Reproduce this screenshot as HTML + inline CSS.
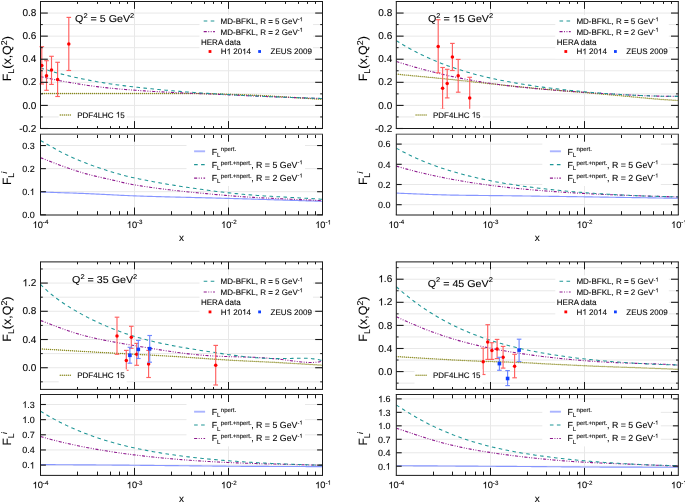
<!DOCTYPE html><html><head><meta charset="utf-8"><style>html,body{margin:0;padding:0;background:#fff;}body{width:685px;height:502px;overflow:hidden;font-family:"Liberation Sans", sans-serif;}svg{display:block;filter:blur(0.3px);} text{stroke:#000;stroke-width:0.18px;stroke-opacity:0.5;paint-order:stroke;} .g1{fill:#000;stroke:#000;stroke-width:0.18px;stroke-opacity:0.5;vector-effect:non-scaling-stroke;}</style></head><body><svg width="685" height="502" viewBox="0 0 685 502" font-family='"Liberation Sans", sans-serif' text-rendering="geometricPrecision" stroke-width="0">
<rect width="100%" height="100%" fill="#fff"/>
<defs>
<clipPath id="cu0"><rect x="40.5" y="1.5" width="282.0" height="127.0"/></clipPath>
<clipPath id="cl0"><rect x="40.5" y="134.2" width="282.0" height="80.80000000000001"/></clipPath>
<clipPath id="cu1"><rect x="396.3" y="1.5" width="282.0" height="127.0"/></clipPath>
<clipPath id="cl1"><rect x="396.3" y="134.2" width="282.0" height="80.80000000000001"/></clipPath>
<clipPath id="cu2"><rect x="40.5" y="261.9" width="282.0" height="127.0"/></clipPath>
<clipPath id="cl2"><rect x="40.5" y="394.59999999999997" width="282.0" height="80.80000000000001"/></clipPath>
<clipPath id="cu3"><rect x="396.3" y="261.9" width="282.0" height="127.0"/></clipPath>
<clipPath id="cl3"><rect x="396.3" y="394.59999999999997" width="282.0" height="80.80000000000001"/></clipPath>
</defs>
<line x1="40.50" y1="116.95" x2="322.50" y2="116.95" stroke="#e8e8e8" stroke-width="1" />
<line x1="40.50" y1="105.41" x2="322.50" y2="105.41" stroke="#e8e8e8" stroke-width="1" />
<line x1="40.50" y1="93.86" x2="322.50" y2="93.86" stroke="#e8e8e8" stroke-width="1" />
<line x1="40.50" y1="82.32" x2="322.50" y2="82.32" stroke="#e8e8e8" stroke-width="1" />
<line x1="40.50" y1="70.77" x2="322.50" y2="70.77" stroke="#e8e8e8" stroke-width="1" />
<line x1="40.50" y1="59.23" x2="322.50" y2="59.23" stroke="#e8e8e8" stroke-width="1" />
<line x1="40.50" y1="47.68" x2="322.50" y2="47.68" stroke="#e8e8e8" stroke-width="1" />
<line x1="40.50" y1="36.14" x2="322.50" y2="36.14" stroke="#e8e8e8" stroke-width="1" />
<line x1="40.50" y1="24.59" x2="322.50" y2="24.59" stroke="#e8e8e8" stroke-width="1" />
<line x1="40.50" y1="13.05" x2="322.50" y2="13.05" stroke="#e8e8e8" stroke-width="1" />
<line x1="134.50" y1="1.50" x2="134.50" y2="128.50" stroke="#e8e8e8" stroke-width="1" />
<line x1="228.50" y1="1.50" x2="228.50" y2="128.50" stroke="#e8e8e8" stroke-width="1" />
<line x1="40.50" y1="191.71" x2="322.50" y2="191.71" stroke="#e8e8e8" stroke-width="1" />
<line x1="40.50" y1="168.63" x2="322.50" y2="168.63" stroke="#e8e8e8" stroke-width="1" />
<line x1="40.50" y1="145.54" x2="322.50" y2="145.54" stroke="#e8e8e8" stroke-width="1" />
<line x1="134.50" y1="134.20" x2="134.50" y2="215.00" stroke="#e8e8e8" stroke-width="1" />
<line x1="228.50" y1="134.20" x2="228.50" y2="215.00" stroke="#e8e8e8" stroke-width="1" />
<path d="M40.50,93.50 L42.26,93.50 L44.02,93.50 L45.79,93.50 L47.55,93.49 L49.31,93.49 L51.08,93.49 L52.84,93.49 L54.60,93.49 L56.36,93.49 L58.12,93.49 L59.89,93.48 L61.65,93.48 L63.41,93.48 L65.17,93.48 L66.94,93.48 L68.70,93.48 L70.46,93.47 L72.22,93.47 L73.99,93.47 L75.75,93.47 L77.51,93.47 L79.28,93.47 L81.04,93.46 L82.80,93.46 L84.56,93.46 L86.33,93.46 L88.09,93.46 L89.85,93.46 L91.61,93.45 L93.38,93.45 L95.14,93.45 L96.90,93.45 L98.66,93.45 L100.42,93.45 L102.19,93.44 L103.95,93.44 L105.71,93.44 L107.47,93.44 L109.24,93.44 L111.00,93.44 L112.76,93.44 L114.53,93.43 L116.29,93.43 L118.05,93.43 L119.81,93.43 L121.58,93.43 L123.34,93.43 L125.10,93.42 L126.86,93.42 L128.62,93.42 L130.39,93.42 L132.15,93.42 L133.91,93.42 L135.68,93.42 L137.44,93.42 L139.20,93.41 L140.96,93.41 L142.72,93.41 L144.49,93.41 L146.25,93.41 L148.01,93.41 L149.78,93.41 L151.54,93.41 L153.30,93.41 L155.06,93.41 L156.82,93.41 L158.59,93.40 L160.35,93.40 L162.11,93.40 L163.88,93.40 L165.64,93.40 L167.40,93.40 L169.16,93.40 L170.93,93.40 L172.69,93.40 L174.45,93.40 L176.21,93.40 L177.97,93.40 L179.74,93.40 L181.50,93.40 L183.26,93.41 L185.03,93.41 L186.79,93.42 L188.55,93.44 L190.31,93.45 L192.07,93.47 L193.84,93.49 L195.60,93.51 L197.36,93.54 L199.12,93.57 L200.89,93.60 L202.65,93.63 L204.41,93.66 L206.18,93.70 L207.94,93.74 L209.70,93.77 L211.46,93.81 L213.22,93.86 L214.99,93.90 L216.75,93.94 L218.51,93.99 L220.28,94.04 L222.04,94.08 L223.80,94.13 L225.56,94.18 L227.32,94.24 L229.09,94.29 L230.85,94.34 L232.61,94.40 L234.38,94.46 L236.14,94.52 L237.90,94.58 L239.66,94.64 L241.43,94.71 L243.19,94.77 L244.95,94.84 L246.71,94.91 L248.47,94.98 L250.24,95.05 L252.00,95.13 L253.76,95.21 L255.53,95.29 L257.29,95.37 L259.05,95.45 L260.81,95.54 L262.57,95.63 L264.34,95.72 L266.10,95.81 L267.86,95.91 L269.62,96.01 L271.39,96.11 L273.15,96.21 L274.91,96.31 L276.68,96.42 L278.44,96.53 L280.20,96.64 L281.96,96.75 L283.73,96.86 L285.49,96.97 L287.25,97.08 L289.01,97.20 L290.77,97.31 L292.54,97.43 L294.30,97.55 L296.06,97.66 L297.82,97.78 L299.59,97.90 L301.35,98.02 L303.11,98.13 L304.88,98.25 L306.64,98.37 L308.40,98.49 L310.16,98.60 L311.93,98.72 L313.69,98.84 L315.45,98.95 L317.21,99.06 L318.98,99.18 L320.74,99.29 L322.50,99.40" fill="none" stroke="#87871a" stroke-width="1.45" stroke-linecap="round" stroke-dasharray="0 2" clip-path="url(#cu0)"/>
<path d="M40.50,76.60 L42.26,76.97 L44.02,77.34 L45.79,77.71 L47.55,78.09 L49.31,78.46 L51.08,78.84 L52.84,79.22 L54.60,79.59 L56.36,79.96 L58.12,80.32 L59.89,80.68 L61.65,81.03 L63.41,81.37 L65.17,81.70 L66.94,82.01 L68.70,82.32 L70.46,82.63 L72.22,82.93 L73.99,83.23 L75.75,83.52 L77.51,83.80 L79.28,84.09 L81.04,84.36 L82.80,84.63 L84.56,84.90 L86.33,85.16 L88.09,85.42 L89.85,85.67 L91.61,85.91 L93.38,86.15 L95.14,86.38 L96.90,86.61 L98.66,86.84 L100.42,87.05 L102.19,87.26 L103.95,87.46 L105.71,87.66 L107.47,87.85 L109.24,88.03 L111.00,88.21 L112.76,88.39 L114.53,88.55 L116.29,88.72 L118.05,88.87 L119.81,89.03 L121.58,89.18 L123.34,89.33 L125.10,89.47 L126.86,89.61 L128.62,89.75 L130.39,89.89 L132.15,90.02 L133.91,90.16 L135.68,90.29 L137.44,90.42 L139.20,90.54 L140.96,90.66 L142.72,90.78 L144.49,90.89 L146.25,91.01 L148.01,91.12 L149.78,91.22 L151.54,91.33 L153.30,91.43 L155.06,91.53 L156.82,91.63 L158.59,91.72 L160.35,91.82 L162.11,91.91 L163.88,92.00 L165.64,92.09 L167.40,92.18 L169.16,92.27 L170.93,92.36 L172.69,92.44 L174.45,92.53 L176.21,92.62 L177.97,92.70 L179.74,92.79 L181.50,92.87 L183.26,92.95 L185.03,93.03 L186.79,93.11 L188.55,93.18 L190.31,93.25 L192.07,93.32 L193.84,93.39 L195.60,93.45 L197.36,93.52 L199.12,93.58 L200.89,93.65 L202.65,93.71 L204.41,93.78 L206.18,93.84 L207.94,93.91 L209.70,93.98 L211.46,94.05 L213.22,94.12 L214.99,94.20 L216.75,94.28 L218.51,94.36 L220.28,94.44 L222.04,94.52 L223.80,94.60 L225.56,94.68 L227.32,94.77 L229.09,94.85 L230.85,94.94 L232.61,95.02 L234.38,95.11 L236.14,95.19 L237.90,95.28 L239.66,95.36 L241.43,95.45 L243.19,95.53 L244.95,95.62 L246.71,95.70 L248.47,95.79 L250.24,95.87 L252.00,95.95 L253.76,96.03 L255.53,96.11 L257.29,96.18 L259.05,96.26 L260.81,96.33 L262.57,96.41 L264.34,96.48 L266.10,96.55 L267.86,96.62 L269.62,96.69 L271.39,96.76 L273.15,96.82 L274.91,96.89 L276.68,96.96 L278.44,97.02 L280.20,97.09 L281.96,97.15 L283.73,97.22 L285.49,97.28 L287.25,97.35 L289.01,97.41 L290.77,97.47 L292.54,97.53 L294.30,97.60 L296.06,97.66 L297.82,97.72 L299.59,97.78 L301.35,97.85 L303.11,97.91 L304.88,97.97 L306.64,98.03 L308.40,98.09 L310.16,98.16 L311.93,98.22 L313.69,98.28 L315.45,98.34 L317.21,98.41 L318.98,98.47 L320.74,98.54 L322.50,98.60" fill="none" stroke="#8e1a8e" stroke-width="1.1" stroke-linecap="butt" stroke-dasharray="3.1 1.5 0.9 1.5 0.9 1.5" clip-path="url(#cu0)"/>
<path d="M40.50,68.10 L42.26,68.60 L44.02,69.10 L45.79,69.61 L47.55,70.12 L49.31,70.63 L51.08,71.15 L52.84,71.66 L54.60,72.16 L56.36,72.67 L58.12,73.16 L59.89,73.65 L61.65,74.12 L63.41,74.58 L65.17,75.02 L66.94,75.45 L68.70,75.87 L70.46,76.29 L72.22,76.69 L73.99,77.09 L75.75,77.48 L77.51,77.86 L79.28,78.24 L81.04,78.61 L82.80,78.97 L84.56,79.33 L86.33,79.68 L88.09,80.03 L89.85,80.36 L91.61,80.70 L93.38,81.02 L95.14,81.34 L96.90,81.66 L98.66,81.97 L100.42,82.27 L102.19,82.57 L103.95,82.86 L105.71,83.14 L107.47,83.42 L109.24,83.69 L111.00,83.95 L112.76,84.20 L114.53,84.46 L116.29,84.70 L118.05,84.94 L119.81,85.18 L121.58,85.41 L123.34,85.64 L125.10,85.86 L126.86,86.08 L128.62,86.30 L130.39,86.51 L132.15,86.72 L133.91,86.93 L135.68,87.14 L137.44,87.34 L139.20,87.54 L140.96,87.74 L142.72,87.93 L144.49,88.12 L146.25,88.31 L148.01,88.49 L149.78,88.67 L151.54,88.85 L153.30,89.02 L155.06,89.19 L156.82,89.36 L158.59,89.53 L160.35,89.69 L162.11,89.85 L163.88,90.01 L165.64,90.17 L167.40,90.33 L169.16,90.48 L170.93,90.63 L172.69,90.79 L174.45,90.94 L176.21,91.08 L177.97,91.23 L179.74,91.38 L181.50,91.52 L183.26,91.66 L185.03,91.80 L186.79,91.93 L188.55,92.07 L190.31,92.19 L192.07,92.32 L193.84,92.44 L195.60,92.56 L197.36,92.68 L199.12,92.80 L200.89,92.91 L202.65,93.03 L204.41,93.14 L206.18,93.25 L207.94,93.36 L209.70,93.47 L211.46,93.58 L213.22,93.69 L214.99,93.80 L216.75,93.91 L218.51,94.02 L220.28,94.12 L222.04,94.23 L223.80,94.33 L225.56,94.44 L227.32,94.54 L229.09,94.64 L230.85,94.75 L232.61,94.85 L234.38,94.94 L236.14,95.04 L237.90,95.14 L239.66,95.23 L241.43,95.33 L243.19,95.42 L244.95,95.51 L246.71,95.60 L248.47,95.69 L250.24,95.77 L252.00,95.86 L253.76,95.94 L255.53,96.02 L257.29,96.10 L259.05,96.18 L260.81,96.26 L262.57,96.33 L264.34,96.41 L266.10,96.48 L267.86,96.55 L269.62,96.62 L271.39,96.69 L273.15,96.76 L274.91,96.83 L276.68,96.89 L278.44,96.96 L280.20,97.02 L281.96,97.09 L283.73,97.15 L285.49,97.21 L287.25,97.27 L289.01,97.33 L290.77,97.40 L292.54,97.46 L294.30,97.52 L296.06,97.58 L297.82,97.64 L299.59,97.70 L301.35,97.76 L303.11,97.82 L304.88,97.88 L306.64,97.94 L308.40,98.00 L310.16,98.06 L311.93,98.12 L313.69,98.18 L315.45,98.24 L317.21,98.31 L318.98,98.37 L320.74,98.44 L322.50,98.50" fill="none" stroke="#1f9696" stroke-width="1.05" stroke-linecap="butt" stroke-dasharray="3.6 3.4" clip-path="url(#cu0)"/>
<path d="M40.50,192.00 L42.26,192.06 L44.02,192.12 L45.79,192.18 L47.55,192.24 L49.31,192.30 L51.08,192.35 L52.84,192.41 L54.60,192.47 L56.36,192.52 L58.12,192.58 L59.89,192.64 L61.65,192.70 L63.41,192.75 L65.17,192.81 L66.94,192.87 L68.70,192.93 L70.46,192.99 L72.22,193.05 L73.99,193.11 L75.75,193.18 L77.51,193.24 L79.28,193.31 L81.04,193.37 L82.80,193.44 L84.56,193.51 L86.33,193.58 L88.09,193.65 L89.85,193.73 L91.61,193.81 L93.38,193.89 L95.14,193.97 L96.90,194.06 L98.66,194.15 L100.42,194.23 L102.19,194.32 L103.95,194.41 L105.71,194.50 L107.47,194.60 L109.24,194.69 L111.00,194.78 L112.76,194.87 L114.53,194.96 L116.29,195.05 L118.05,195.14 L119.81,195.22 L121.58,195.31 L123.34,195.39 L125.10,195.47 L126.86,195.55 L128.62,195.63 L130.39,195.70 L132.15,195.77 L133.91,195.83 L135.68,195.90 L137.44,195.96 L139.20,196.02 L140.96,196.08 L142.72,196.14 L144.49,196.20 L146.25,196.26 L148.01,196.31 L149.78,196.37 L151.54,196.42 L153.30,196.48 L155.06,196.53 L156.82,196.58 L158.59,196.63 L160.35,196.68 L162.11,196.73 L163.88,196.77 L165.64,196.82 L167.40,196.87 L169.16,196.91 L170.93,196.96 L172.69,197.00 L174.45,197.05 L176.21,197.09 L177.97,197.13 L179.74,197.18 L181.50,197.22 L183.26,197.26 L185.03,197.30 L186.79,197.35 L188.55,197.39 L190.31,197.43 L192.07,197.47 L193.84,197.51 L195.60,197.56 L197.36,197.60 L199.12,197.64 L200.89,197.68 L202.65,197.73 L204.41,197.77 L206.18,197.81 L207.94,197.85 L209.70,197.90 L211.46,197.94 L213.22,197.99 L214.99,198.03 L216.75,198.08 L218.51,198.13 L220.28,198.17 L222.04,198.22 L223.80,198.27 L225.56,198.32 L227.32,198.37 L229.09,198.42 L230.85,198.47 L232.61,198.52 L234.38,198.57 L236.14,198.63 L237.90,198.68 L239.66,198.73 L241.43,198.78 L243.19,198.84 L244.95,198.89 L246.71,198.94 L248.47,199.00 L250.24,199.05 L252.00,199.10 L253.76,199.16 L255.53,199.21 L257.29,199.27 L259.05,199.32 L260.81,199.37 L262.57,199.43 L264.34,199.48 L266.10,199.54 L267.86,199.59 L269.62,199.65 L271.39,199.70 L273.15,199.76 L274.91,199.81 L276.68,199.87 L278.44,199.92 L280.20,199.98 L281.96,200.03 L283.73,200.09 L285.49,200.14 L287.25,200.20 L289.01,200.25 L290.77,200.31 L292.54,200.37 L294.30,200.42 L296.06,200.48 L297.82,200.53 L299.59,200.59 L301.35,200.64 L303.11,200.70 L304.88,200.75 L306.64,200.81 L308.40,200.86 L310.16,200.92 L311.93,200.97 L313.69,201.03 L315.45,201.08 L317.21,201.14 L318.98,201.19 L320.74,201.25 L322.50,201.30" fill="none" stroke="#8796ff" stroke-width="1.15" stroke-linecap="butt" clip-path="url(#cl0)"/>
<path d="M40.50,157.70 L42.26,158.38 L44.02,159.06 L45.79,159.74 L47.55,160.43 L49.31,161.12 L51.08,161.81 L52.84,162.50 L54.60,163.18 L56.36,163.85 L58.12,164.52 L59.89,165.18 L61.65,165.82 L63.41,166.46 L65.17,167.08 L66.94,167.69 L68.70,168.30 L70.46,168.90 L72.22,169.49 L73.99,170.08 L75.75,170.66 L77.51,171.22 L79.28,171.78 L81.04,172.32 L82.80,172.85 L84.56,173.37 L86.33,173.87 L88.09,174.35 L89.85,174.82 L91.61,175.27 L93.38,175.70 L95.14,176.13 L96.90,176.54 L98.66,176.94 L100.42,177.34 L102.19,177.73 L103.95,178.12 L105.71,178.51 L107.47,178.89 L109.24,179.29 L111.00,179.69 L112.76,180.09 L114.53,180.51 L116.29,180.93 L118.05,181.36 L119.81,181.78 L121.58,182.20 L123.34,182.61 L125.10,183.02 L126.86,183.41 L128.62,183.78 L130.39,184.13 L132.15,184.45 L133.91,184.75 L135.68,185.05 L137.44,185.34 L139.20,185.62 L140.96,185.90 L142.72,186.17 L144.49,186.44 L146.25,186.71 L148.01,186.97 L149.78,187.22 L151.54,187.48 L153.30,187.72 L155.06,187.97 L156.82,188.21 L158.59,188.44 L160.35,188.68 L162.11,188.90 L163.88,189.13 L165.64,189.35 L167.40,189.57 L169.16,189.78 L170.93,189.99 L172.69,190.20 L174.45,190.41 L176.21,190.61 L177.97,190.81 L179.74,191.00 L181.50,191.20 L183.26,191.39 L185.03,191.57 L186.79,191.76 L188.55,191.94 L190.31,192.12 L192.07,192.30 L193.84,192.48 L195.60,192.65 L197.36,192.82 L199.12,192.99 L200.89,193.16 L202.65,193.32 L204.41,193.49 L206.18,193.65 L207.94,193.81 L209.70,193.97 L211.46,194.13 L213.22,194.29 L214.99,194.44 L216.75,194.60 L218.51,194.75 L220.28,194.91 L222.04,195.06 L223.80,195.21 L225.56,195.36 L227.32,195.51 L229.09,195.66 L230.85,195.80 L232.61,195.95 L234.38,196.08 L236.14,196.22 L237.90,196.35 L239.66,196.48 L241.43,196.60 L243.19,196.72 L244.95,196.84 L246.71,196.96 L248.47,197.07 L250.24,197.18 L252.00,197.28 L253.76,197.39 L255.53,197.49 L257.29,197.59 L259.05,197.69 L260.81,197.78 L262.57,197.88 L264.34,197.97 L266.10,198.06 L267.86,198.15 L269.62,198.23 L271.39,198.32 L273.15,198.40 L274.91,198.48 L276.68,198.57 L278.44,198.65 L280.20,198.73 L281.96,198.81 L283.73,198.89 L285.49,198.96 L287.25,199.04 L289.01,199.12 L290.77,199.20 L292.54,199.27 L294.30,199.35 L296.06,199.43 L297.82,199.51 L299.59,199.59 L301.35,199.67 L303.11,199.75 L304.88,199.83 L306.64,199.91 L308.40,199.99 L310.16,200.07 L311.93,200.16 L313.69,200.25 L315.45,200.33 L317.21,200.42 L318.98,200.51 L320.74,200.61 L322.50,200.70" fill="none" stroke="#8e1a8e" stroke-width="1.1" stroke-linecap="butt" stroke-dasharray="3.1 1.5 0.9 1.5 0.9 1.5" clip-path="url(#cl0)"/>
<path d="M40.50,140.50 L42.26,141.49 L44.02,142.48 L45.79,143.49 L47.55,144.50 L49.31,145.52 L51.08,146.53 L52.84,147.54 L54.60,148.54 L56.36,149.52 L58.12,150.49 L59.89,151.44 L61.65,152.36 L63.41,153.26 L65.17,154.13 L66.94,154.97 L68.70,155.80 L70.46,156.61 L72.22,157.40 L73.99,158.17 L75.75,158.93 L77.51,159.67 L79.28,160.40 L81.04,161.12 L82.80,161.83 L84.56,162.53 L86.33,163.22 L88.09,163.90 L89.85,164.57 L91.61,165.22 L93.38,165.87 L95.14,166.50 L96.90,167.13 L98.66,167.74 L100.42,168.34 L102.19,168.93 L103.95,169.52 L105.71,170.09 L107.47,170.65 L109.24,171.20 L111.00,171.75 L112.76,172.28 L114.53,172.81 L116.29,173.33 L118.05,173.84 L119.81,174.33 L121.58,174.82 L123.34,175.29 L125.10,175.75 L126.86,176.19 L128.62,176.61 L130.39,177.03 L132.15,177.42 L133.91,177.79 L135.68,178.16 L137.44,178.53 L139.20,178.89 L140.96,179.25 L142.72,179.60 L144.49,179.96 L146.25,180.30 L148.01,180.65 L149.78,180.99 L151.54,181.32 L153.30,181.65 L155.06,181.98 L156.82,182.31 L158.59,182.63 L160.35,182.95 L162.11,183.26 L163.88,183.57 L165.64,183.88 L167.40,184.18 L169.16,184.48 L170.93,184.78 L172.69,185.07 L174.45,185.36 L176.21,185.65 L177.97,185.94 L179.74,186.22 L181.50,186.49 L183.26,186.77 L185.03,187.04 L186.79,187.31 L188.55,187.57 L190.31,187.84 L192.07,188.09 L193.84,188.35 L195.60,188.60 L197.36,188.85 L199.12,189.10 L200.89,189.34 L202.65,189.59 L204.41,189.82 L206.18,190.06 L207.94,190.29 L209.70,190.52 L211.46,190.75 L213.22,190.97 L214.99,191.20 L216.75,191.42 L218.51,191.63 L220.28,191.85 L222.04,192.06 L223.80,192.27 L225.56,192.47 L227.32,192.68 L229.09,192.88 L230.85,193.07 L232.61,193.26 L234.38,193.45 L236.14,193.63 L237.90,193.80 L239.66,193.97 L241.43,194.14 L243.19,194.30 L244.95,194.45 L246.71,194.60 L248.47,194.75 L250.24,194.89 L252.00,195.03 L253.76,195.16 L255.53,195.29 L257.29,195.42 L259.05,195.55 L260.81,195.67 L262.57,195.79 L264.34,195.90 L266.10,196.02 L267.86,196.13 L269.62,196.24 L271.39,196.34 L273.15,196.45 L274.91,196.55 L276.68,196.65 L278.44,196.75 L280.20,196.85 L281.96,196.95 L283.73,197.05 L285.49,197.14 L287.25,197.24 L289.01,197.33 L290.77,197.43 L292.54,197.52 L294.30,197.62 L296.06,197.71 L297.82,197.81 L299.59,197.91 L301.35,198.01 L303.11,198.10 L304.88,198.20 L306.64,198.30 L308.40,198.41 L310.16,198.51 L311.93,198.62 L313.69,198.73 L315.45,198.84 L317.21,198.95 L318.98,199.06 L320.74,199.18 L322.50,199.30" fill="none" stroke="#1f9696" stroke-width="1.05" stroke-linecap="butt" stroke-dasharray="3.6 3.4" clip-path="url(#cl0)"/>
<line x1="41.80" y1="84.00" x2="41.80" y2="46.70" stroke="#ff6060" stroke-width="1.15" />
<line x1="39.50" y1="84.00" x2="44.10" y2="84.00" stroke="#ff6060" stroke-width="1.15" />
<line x1="39.50" y1="46.70" x2="44.10" y2="46.70" stroke="#ff6060" stroke-width="1.15" />
<circle cx="41.80" cy="65.60" r="1.75" fill="#ff0000"/>
<line x1="46.50" y1="90.30" x2="46.50" y2="60.70" stroke="#ff6060" stroke-width="1.15" />
<line x1="44.20" y1="90.30" x2="48.80" y2="90.30" stroke="#ff6060" stroke-width="1.15" />
<line x1="44.20" y1="60.70" x2="48.80" y2="60.70" stroke="#ff6060" stroke-width="1.15" />
<circle cx="46.50" cy="75.70" r="1.75" fill="#ff0000"/>
<line x1="51.50" y1="84.40" x2="51.50" y2="56.30" stroke="#ff6060" stroke-width="1.15" />
<line x1="49.20" y1="84.40" x2="53.80" y2="84.40" stroke="#ff6060" stroke-width="1.15" />
<line x1="49.20" y1="56.30" x2="53.80" y2="56.30" stroke="#ff6060" stroke-width="1.15" />
<circle cx="51.50" cy="70.10" r="1.75" fill="#ff0000"/>
<line x1="57.60" y1="96.50" x2="57.60" y2="62.30" stroke="#ff6060" stroke-width="1.15" />
<line x1="55.30" y1="96.50" x2="59.90" y2="96.50" stroke="#ff6060" stroke-width="1.15" />
<line x1="55.30" y1="62.30" x2="59.90" y2="62.30" stroke="#ff6060" stroke-width="1.15" />
<circle cx="57.60" cy="79.40" r="1.75" fill="#ff0000"/>
<line x1="68.80" y1="70.50" x2="68.80" y2="17.40" stroke="#ff6060" stroke-width="1.15" />
<line x1="66.50" y1="70.50" x2="71.10" y2="70.50" stroke="#ff6060" stroke-width="1.15" />
<line x1="66.50" y1="17.40" x2="71.10" y2="17.40" stroke="#ff6060" stroke-width="1.15" />
<circle cx="68.80" cy="44.00" r="1.75" fill="#ff0000"/>
<rect x="199.5" y="15.0" width="113.5" height="43.5" fill="#fff"/>
<rect x="58.7" y="108.8" width="68" height="15" fill="#fff"/>
<rect x="186.5" y="141.0" width="118.5" height="45" fill="#fff"/>
<line x1="40.50" y1="128.50" x2="47.80" y2="128.50" stroke="#1a1a1a" stroke-width="1.1" />
<line x1="322.50" y1="128.50" x2="315.20" y2="128.50" stroke="#1a1a1a" stroke-width="1.1" />
<line x1="40.50" y1="105.41" x2="47.80" y2="105.41" stroke="#1a1a1a" stroke-width="1.1" />
<line x1="322.50" y1="105.41" x2="315.20" y2="105.41" stroke="#1a1a1a" stroke-width="1.1" />
<line x1="40.50" y1="82.32" x2="47.80" y2="82.32" stroke="#1a1a1a" stroke-width="1.1" />
<line x1="322.50" y1="82.32" x2="315.20" y2="82.32" stroke="#1a1a1a" stroke-width="1.1" />
<line x1="40.50" y1="59.23" x2="47.80" y2="59.23" stroke="#1a1a1a" stroke-width="1.1" />
<line x1="322.50" y1="59.23" x2="315.20" y2="59.23" stroke="#1a1a1a" stroke-width="1.1" />
<line x1="40.50" y1="36.14" x2="47.80" y2="36.14" stroke="#1a1a1a" stroke-width="1.1" />
<line x1="322.50" y1="36.14" x2="315.20" y2="36.14" stroke="#1a1a1a" stroke-width="1.1" />
<line x1="40.50" y1="13.05" x2="47.80" y2="13.05" stroke="#1a1a1a" stroke-width="1.1" />
<line x1="322.50" y1="13.05" x2="315.20" y2="13.05" stroke="#1a1a1a" stroke-width="1.1" />
<line x1="40.50" y1="116.95" x2="42.80" y2="116.95" stroke="#1a1a1a" stroke-width="1" />
<line x1="322.50" y1="116.95" x2="320.20" y2="116.95" stroke="#1a1a1a" stroke-width="1" />
<line x1="40.50" y1="93.86" x2="42.80" y2="93.86" stroke="#1a1a1a" stroke-width="1" />
<line x1="322.50" y1="93.86" x2="320.20" y2="93.86" stroke="#1a1a1a" stroke-width="1" />
<line x1="40.50" y1="70.77" x2="42.80" y2="70.77" stroke="#1a1a1a" stroke-width="1" />
<line x1="322.50" y1="70.77" x2="320.20" y2="70.77" stroke="#1a1a1a" stroke-width="1" />
<line x1="40.50" y1="47.68" x2="42.80" y2="47.68" stroke="#1a1a1a" stroke-width="1" />
<line x1="322.50" y1="47.68" x2="320.20" y2="47.68" stroke="#1a1a1a" stroke-width="1" />
<line x1="40.50" y1="24.59" x2="42.80" y2="24.59" stroke="#1a1a1a" stroke-width="1" />
<line x1="322.50" y1="24.59" x2="320.20" y2="24.59" stroke="#1a1a1a" stroke-width="1" />
<line x1="134.50" y1="1.50" x2="134.50" y2="8.90" stroke="#1a1a1a" stroke-width="1" />
<line x1="134.50" y1="128.50" x2="134.50" y2="121.10" stroke="#1a1a1a" stroke-width="1" />
<line x1="228.50" y1="1.50" x2="228.50" y2="8.90" stroke="#1a1a1a" stroke-width="1" />
<line x1="228.50" y1="128.50" x2="228.50" y2="121.10" stroke="#1a1a1a" stroke-width="1" />
<line x1="77.50" y1="1.50" x2="77.50" y2="3.90" stroke="#1a1a1a" stroke-width="1" />
<line x1="77.50" y1="128.50" x2="77.50" y2="126.10" stroke="#1a1a1a" stroke-width="1" />
<line x1="97.50" y1="1.50" x2="97.50" y2="3.90" stroke="#1a1a1a" stroke-width="1" />
<line x1="97.50" y1="128.50" x2="97.50" y2="126.10" stroke="#1a1a1a" stroke-width="1" />
<line x1="110.50" y1="1.50" x2="110.50" y2="3.90" stroke="#1a1a1a" stroke-width="1" />
<line x1="110.50" y1="128.50" x2="110.50" y2="126.10" stroke="#1a1a1a" stroke-width="1" />
<line x1="119.50" y1="1.50" x2="119.50" y2="3.90" stroke="#1a1a1a" stroke-width="1" />
<line x1="119.50" y1="128.50" x2="119.50" y2="126.10" stroke="#1a1a1a" stroke-width="1" />
<line x1="127.50" y1="1.50" x2="127.50" y2="3.90" stroke="#1a1a1a" stroke-width="1" />
<line x1="127.50" y1="128.50" x2="127.50" y2="126.10" stroke="#1a1a1a" stroke-width="1" />
<line x1="171.50" y1="1.50" x2="171.50" y2="3.90" stroke="#1a1a1a" stroke-width="1" />
<line x1="171.50" y1="128.50" x2="171.50" y2="126.10" stroke="#1a1a1a" stroke-width="1" />
<line x1="191.50" y1="1.50" x2="191.50" y2="3.90" stroke="#1a1a1a" stroke-width="1" />
<line x1="191.50" y1="128.50" x2="191.50" y2="126.10" stroke="#1a1a1a" stroke-width="1" />
<line x1="204.50" y1="1.50" x2="204.50" y2="3.90" stroke="#1a1a1a" stroke-width="1" />
<line x1="204.50" y1="128.50" x2="204.50" y2="126.10" stroke="#1a1a1a" stroke-width="1" />
<line x1="213.50" y1="1.50" x2="213.50" y2="3.90" stroke="#1a1a1a" stroke-width="1" />
<line x1="213.50" y1="128.50" x2="213.50" y2="126.10" stroke="#1a1a1a" stroke-width="1" />
<line x1="221.50" y1="1.50" x2="221.50" y2="3.90" stroke="#1a1a1a" stroke-width="1" />
<line x1="221.50" y1="128.50" x2="221.50" y2="126.10" stroke="#1a1a1a" stroke-width="1" />
<line x1="265.50" y1="1.50" x2="265.50" y2="3.90" stroke="#1a1a1a" stroke-width="1" />
<line x1="265.50" y1="128.50" x2="265.50" y2="126.10" stroke="#1a1a1a" stroke-width="1" />
<line x1="285.50" y1="1.50" x2="285.50" y2="3.90" stroke="#1a1a1a" stroke-width="1" />
<line x1="285.50" y1="128.50" x2="285.50" y2="126.10" stroke="#1a1a1a" stroke-width="1" />
<line x1="298.50" y1="1.50" x2="298.50" y2="3.90" stroke="#1a1a1a" stroke-width="1" />
<line x1="298.50" y1="128.50" x2="298.50" y2="126.10" stroke="#1a1a1a" stroke-width="1" />
<line x1="307.50" y1="1.50" x2="307.50" y2="3.90" stroke="#1a1a1a" stroke-width="1" />
<line x1="307.50" y1="128.50" x2="307.50" y2="126.10" stroke="#1a1a1a" stroke-width="1" />
<line x1="315.50" y1="1.50" x2="315.50" y2="3.90" stroke="#1a1a1a" stroke-width="1" />
<line x1="315.50" y1="128.50" x2="315.50" y2="126.10" stroke="#1a1a1a" stroke-width="1" />
<line x1="40.00" y1="1.50" x2="323.00" y2="1.50" stroke="#1a1a1a" stroke-width="1.0" />
<line x1="40.00" y1="128.50" x2="323.00" y2="128.50" stroke="#1a1a1a" stroke-width="1.0" />
<line x1="40.50" y1="1.50" x2="40.50" y2="128.50" stroke="#1a1a1a" stroke-width="1" />
<line x1="322.50" y1="1.50" x2="322.50" y2="128.50" stroke="#1a1a1a" stroke-width="1" />
<line x1="40.50" y1="214.80" x2="45.90" y2="214.80" stroke="#1a1a1a" stroke-width="1.1" />
<line x1="322.50" y1="214.80" x2="317.10" y2="214.80" stroke="#1a1a1a" stroke-width="1.1" />
<line x1="40.50" y1="191.71" x2="45.90" y2="191.71" stroke="#1a1a1a" stroke-width="1.1" />
<line x1="322.50" y1="191.71" x2="317.10" y2="191.71" stroke="#1a1a1a" stroke-width="1.1" />
<line x1="40.50" y1="168.63" x2="45.90" y2="168.63" stroke="#1a1a1a" stroke-width="1.1" />
<line x1="322.50" y1="168.63" x2="317.10" y2="168.63" stroke="#1a1a1a" stroke-width="1.1" />
<line x1="40.50" y1="145.54" x2="45.90" y2="145.54" stroke="#1a1a1a" stroke-width="1.1" />
<line x1="322.50" y1="145.54" x2="317.10" y2="145.54" stroke="#1a1a1a" stroke-width="1.1" />
<line x1="134.50" y1="134.20" x2="134.50" y2="141.70" stroke="#1a1a1a" stroke-width="1" />
<line x1="134.50" y1="215.00" x2="134.50" y2="207.50" stroke="#1a1a1a" stroke-width="1" />
<line x1="228.50" y1="134.20" x2="228.50" y2="141.70" stroke="#1a1a1a" stroke-width="1" />
<line x1="228.50" y1="215.00" x2="228.50" y2="207.50" stroke="#1a1a1a" stroke-width="1" />
<line x1="77.50" y1="134.20" x2="77.50" y2="138.00" stroke="#1a1a1a" stroke-width="1" />
<line x1="77.50" y1="215.00" x2="77.50" y2="211.20" stroke="#1a1a1a" stroke-width="1" />
<line x1="97.50" y1="134.20" x2="97.50" y2="138.00" stroke="#1a1a1a" stroke-width="1" />
<line x1="97.50" y1="215.00" x2="97.50" y2="211.20" stroke="#1a1a1a" stroke-width="1" />
<line x1="110.50" y1="134.20" x2="110.50" y2="138.00" stroke="#1a1a1a" stroke-width="1" />
<line x1="110.50" y1="215.00" x2="110.50" y2="211.20" stroke="#1a1a1a" stroke-width="1" />
<line x1="119.50" y1="134.20" x2="119.50" y2="138.00" stroke="#1a1a1a" stroke-width="1" />
<line x1="119.50" y1="215.00" x2="119.50" y2="211.20" stroke="#1a1a1a" stroke-width="1" />
<line x1="127.50" y1="134.20" x2="127.50" y2="138.00" stroke="#1a1a1a" stroke-width="1" />
<line x1="127.50" y1="215.00" x2="127.50" y2="211.20" stroke="#1a1a1a" stroke-width="1" />
<line x1="171.50" y1="134.20" x2="171.50" y2="138.00" stroke="#1a1a1a" stroke-width="1" />
<line x1="171.50" y1="215.00" x2="171.50" y2="211.20" stroke="#1a1a1a" stroke-width="1" />
<line x1="191.50" y1="134.20" x2="191.50" y2="138.00" stroke="#1a1a1a" stroke-width="1" />
<line x1="191.50" y1="215.00" x2="191.50" y2="211.20" stroke="#1a1a1a" stroke-width="1" />
<line x1="204.50" y1="134.20" x2="204.50" y2="138.00" stroke="#1a1a1a" stroke-width="1" />
<line x1="204.50" y1="215.00" x2="204.50" y2="211.20" stroke="#1a1a1a" stroke-width="1" />
<line x1="213.50" y1="134.20" x2="213.50" y2="138.00" stroke="#1a1a1a" stroke-width="1" />
<line x1="213.50" y1="215.00" x2="213.50" y2="211.20" stroke="#1a1a1a" stroke-width="1" />
<line x1="221.50" y1="134.20" x2="221.50" y2="138.00" stroke="#1a1a1a" stroke-width="1" />
<line x1="221.50" y1="215.00" x2="221.50" y2="211.20" stroke="#1a1a1a" stroke-width="1" />
<line x1="265.50" y1="134.20" x2="265.50" y2="138.00" stroke="#1a1a1a" stroke-width="1" />
<line x1="265.50" y1="215.00" x2="265.50" y2="211.20" stroke="#1a1a1a" stroke-width="1" />
<line x1="285.50" y1="134.20" x2="285.50" y2="138.00" stroke="#1a1a1a" stroke-width="1" />
<line x1="285.50" y1="215.00" x2="285.50" y2="211.20" stroke="#1a1a1a" stroke-width="1" />
<line x1="298.50" y1="134.20" x2="298.50" y2="138.00" stroke="#1a1a1a" stroke-width="1" />
<line x1="298.50" y1="215.00" x2="298.50" y2="211.20" stroke="#1a1a1a" stroke-width="1" />
<line x1="307.50" y1="134.20" x2="307.50" y2="138.00" stroke="#1a1a1a" stroke-width="1" />
<line x1="307.50" y1="215.00" x2="307.50" y2="211.20" stroke="#1a1a1a" stroke-width="1" />
<line x1="315.50" y1="134.20" x2="315.50" y2="138.00" stroke="#1a1a1a" stroke-width="1" />
<line x1="315.50" y1="215.00" x2="315.50" y2="211.20" stroke="#1a1a1a" stroke-width="1" />
<line x1="40.00" y1="134.20" x2="323.00" y2="134.20" stroke="#8a8a8a" stroke-width="1.6" />
<line x1="40.00" y1="215.00" x2="323.00" y2="215.00" stroke="#1a1a1a" stroke-width="1.0" />
<line x1="40.50" y1="134.20" x2="40.50" y2="215.00" stroke="#1a1a1a" stroke-width="1" />
<line x1="322.50" y1="134.20" x2="322.50" y2="215.00" stroke="#1a1a1a" stroke-width="1" />
<text x="19.17" y="131.60" font-size="10">-0.2</text>
<text x="22.50" y="108.51" font-size="10">0.0</text>
<text x="22.50" y="85.42" font-size="10">0.2</text>
<text x="22.50" y="62.33" font-size="10">0.4</text>
<text x="22.50" y="39.24" font-size="10">0.6</text>
<text x="22.50" y="16.15" font-size="10">0.8</text>
<text x="22.29" y="218.10" font-size="9">0.0</text>
<text x="22.29" y="195.01" font-size="9">0.</text>
<path class="g1" d="M763 0H583V1147Q518 1085 412.5 1023T223 930V1104Q374 1175 487 1276T647 1472H763Z" transform="translate(29.79,195.01) scale(0.004395,-0.004395)"/>
<text x="22.29" y="171.93" font-size="9">0.2</text>
<text x="22.29" y="148.84" font-size="9">0.3</text>
<path class="g1" d="M763 0H583V1147Q518 1085 412.5 1023T223 930V1104Q374 1175 487 1276T647 1472H763Z" transform="translate(32.59,227.95) scale(0.004541,-0.004541)"/>
<text x="37.76" y="227.95" font-size="9.3">0</text>
<text x="42.83" y="224.40" font-size="6.2">-4</text>
<path class="g1" d="M763 0H583V1147Q518 1085 412.5 1023T223 930V1104Q374 1175 487 1276T647 1472H763Z" transform="translate(126.79,227.95) scale(0.004541,-0.004541)"/>
<text x="131.96" y="227.95" font-size="9.3">0</text>
<text x="137.03" y="224.40" font-size="6.2">-3</text>
<path class="g1" d="M763 0H583V1147Q518 1085 412.5 1023T223 930V1104Q374 1175 487 1276T647 1472H763Z" transform="translate(220.99,227.95) scale(0.004541,-0.004541)"/>
<text x="226.16" y="227.95" font-size="9.3">0</text>
<text x="231.23" y="224.40" font-size="6.2">-2</text>
<path class="g1" d="M763 0H583V1147Q518 1085 412.5 1023T223 930V1104Q374 1175 487 1276T647 1472H763Z" transform="translate(315.19,227.95) scale(0.004541,-0.004541)"/>
<text x="320.36" y="227.95" font-size="9.3">0</text>
<text x="325.43" y="224.40" font-size="6.2">-</text>
<path class="g1" d="M763 0H583V1147Q518 1085 412.5 1023T223 930V1104Q374 1175 487 1276T647 1472H763Z" transform="translate(327.50,224.40) scale(0.003027,-0.003027)"/>
<text x="181.50" y="240.80" font-size="10" text-anchor="middle" >x</text>
<g transform="translate(11.3,81.3) rotate(-90) scale(1.04,1)"><text x="0" y="0" font-size="12">F<tspan font-size="8.5" dy="2.6">L</tspan><tspan dy="-2.6">(x,Q</tspan><tspan font-size="8.5" dy="-4.6">2</tspan><tspan dy="4.6">)</tspan></text></g>
<g transform="translate(11.0,185.1) rotate(-90)"><text x="0" y="0" font-size="12">F<tspan font-size="8.5" dy="3">L</tspan></text><text x="11.6" y="-4.0" font-size="8" font-style="italic">i</text></g>
<g transform="translate(75.10,22.30) scale(1.07,1)"><text x="0" y="0" font-size="10">Q</text></g>
<g transform="translate(83.42,18.10) scale(1.07,1)"><text x="0" y="0" font-size="7">2</text></g>
<g transform="translate(90.56,22.30) scale(1.07,1)"><text x="0" y="0" font-size="10">= 5 GeV</text></g>
<g transform="translate(130.12,18.10) scale(1.07,1)"><text x="0" y="0" font-size="7">2</text></g>
<line x1="203.7" y1="20.9" x2="214.9" y2="20.9" stroke="#1f9696" stroke-width="1.05" stroke-linecap="butt" stroke-dasharray="3.6 3.4"/>
<line x1="203.7" y1="31.6" x2="214.9" y2="31.6" stroke="#8e1a8e" stroke-width="1.1" stroke-linecap="butt" stroke-dasharray="3.1 1.5 0.9 1.5 0.9 1.5"/>
<text x="220.60" y="23.90" font-size="8">MD-BFKL, R = 5 GeV</text>
<text x="297.73" y="21.20" font-size="5.6">-</text>
<path class="g1" d="M763 0H583V1147Q518 1085 412.5 1023T223 930V1104Q374 1175 487 1276T647 1472H763Z" transform="translate(299.60,21.20) scale(0.002734,-0.002734)"/>
<text x="220.60" y="34.50" font-size="8">MD-BFKL, R = 2 GeV</text>
<text x="297.73" y="31.80" font-size="5.6">-</text>
<path class="g1" d="M763 0H583V1147Q518 1085 412.5 1023T223 930V1104Q374 1175 487 1276T647 1472H763Z" transform="translate(299.60,31.80) scale(0.002734,-0.002734)"/>
<text x="201.00" y="44.80" font-size="8">HERA data</text>
<rect x="208.60" y="50.10" width="2.8" height="2.8" fill="#ff0000"/>
<rect x="258.20" y="50.10" width="2.8" height="2.8" fill="#1040ff"/>
<text x="220.80" y="54.30" font-size="8">H</text>
<path class="g1" d="M763 0H583V1147Q518 1085 412.5 1023T223 930V1104Q374 1175 487 1276T647 1472H763Z" transform="translate(226.58,54.30) scale(0.003906,-0.003906)"/>
<text x="233.25" y="54.30" font-size="8">20</text>
<path class="g1" d="M763 0H583V1147Q518 1085 412.5 1023T223 930V1104Q374 1175 487 1276T647 1472H763Z" transform="translate(242.15,54.30) scale(0.003906,-0.003906)"/>
<text x="246.60" y="54.30" font-size="8">4</text>
<text x="270.50" y="54.30" font-size="8">ZEUS 2009</text>
<line x1="60.3" y1="114.9" x2="71.1" y2="114.9" stroke="#87871a" stroke-width="1.45" stroke-linecap="round" stroke-dasharray="0 2"/>
<text x="77.20" y="117.60" font-size="8">PDF4LHC </text>
<path class="g1" d="M763 0H583V1147Q518 1085 412.5 1023T223 930V1104Q374 1175 487 1276T647 1472H763Z" transform="translate(115.88,117.60) scale(0.003906,-0.003906)"/>
<text x="120.33" y="117.60" font-size="8">5</text>
<line x1="194.1" y1="151.3" x2="205.1" y2="151.3" stroke="#aab4ff" stroke-width="1.9" stroke-linecap="butt"/>
<line x1="194.1" y1="164.6" x2="205.1" y2="164.6" stroke="#1f9696" stroke-width="1.05" stroke-linecap="butt" stroke-dasharray="3.6 3.4"/>
<line x1="194.1" y1="178.1" x2="205.1" y2="178.1" stroke="#8e1a8e" stroke-width="1.1" stroke-linecap="butt" stroke-dasharray="3.1 1.5 0.9 1.5 0.9 1.5"/>
<text x="211.80" y="154.60" font-size="8.8" text-anchor="start" >F</text>
<text x="216.90" y="156.90" font-size="6" text-anchor="start" >L</text>
<text x="220.80" y="151.30" font-size="6.0" text-anchor="start" >npert.</text>
<text x="211.80" y="167.80" font-size="8.8" text-anchor="start" >F</text>
<text x="216.90" y="170.10" font-size="6" text-anchor="start" >L</text>
<text x="220.80" y="164.50" font-size="6.0" text-anchor="start" >pert.+npert.</text>
<text x="251.20" y="167.80" font-size="8.8">, R = 5 GeV</text>
<text x="297.50" y="164.20" font-size="5.6">-</text>
<path class="g1" d="M763 0H583V1147Q518 1085 412.5 1023T223 930V1104Q374 1175 487 1276T647 1472H763Z" transform="translate(299.36,164.20) scale(0.002734,-0.002734)"/>
<text x="211.80" y="181.00" font-size="8.8" text-anchor="start" >F</text>
<text x="216.90" y="183.30" font-size="6" text-anchor="start" >L</text>
<text x="220.80" y="177.70" font-size="6.0" text-anchor="start" >pert.+npert.</text>
<text x="251.20" y="181.00" font-size="8.8">, R = 2 GeV</text>
<text x="297.50" y="177.40" font-size="5.6">-</text>
<path class="g1" d="M763 0H583V1147Q518 1085 412.5 1023T223 930V1104Q374 1175 487 1276T647 1472H763Z" transform="translate(299.36,177.40) scale(0.002734,-0.002734)"/>
<line x1="396.30" y1="116.95" x2="678.30" y2="116.95" stroke="#e8e8e8" stroke-width="1" />
<line x1="396.30" y1="105.41" x2="678.30" y2="105.41" stroke="#e8e8e8" stroke-width="1" />
<line x1="396.30" y1="93.86" x2="678.30" y2="93.86" stroke="#e8e8e8" stroke-width="1" />
<line x1="396.30" y1="82.32" x2="678.30" y2="82.32" stroke="#e8e8e8" stroke-width="1" />
<line x1="396.30" y1="70.77" x2="678.30" y2="70.77" stroke="#e8e8e8" stroke-width="1" />
<line x1="396.30" y1="59.23" x2="678.30" y2="59.23" stroke="#e8e8e8" stroke-width="1" />
<line x1="396.30" y1="47.68" x2="678.30" y2="47.68" stroke="#e8e8e8" stroke-width="1" />
<line x1="396.30" y1="36.14" x2="678.30" y2="36.14" stroke="#e8e8e8" stroke-width="1" />
<line x1="396.30" y1="24.59" x2="678.30" y2="24.59" stroke="#e8e8e8" stroke-width="1" />
<line x1="396.30" y1="13.05" x2="678.30" y2="13.05" stroke="#e8e8e8" stroke-width="1" />
<line x1="490.50" y1="1.50" x2="490.50" y2="128.50" stroke="#e8e8e8" stroke-width="1" />
<line x1="584.50" y1="1.50" x2="584.50" y2="128.50" stroke="#e8e8e8" stroke-width="1" />
<line x1="396.30" y1="204.70" x2="678.30" y2="204.70" stroke="#e8e8e8" stroke-width="1" />
<line x1="396.30" y1="184.50" x2="678.30" y2="184.50" stroke="#e8e8e8" stroke-width="1" />
<line x1="396.30" y1="164.30" x2="678.30" y2="164.30" stroke="#e8e8e8" stroke-width="1" />
<line x1="396.30" y1="144.10" x2="678.30" y2="144.10" stroke="#e8e8e8" stroke-width="1" />
<line x1="490.50" y1="134.20" x2="490.50" y2="215.00" stroke="#e8e8e8" stroke-width="1" />
<line x1="584.50" y1="134.20" x2="584.50" y2="215.00" stroke="#e8e8e8" stroke-width="1" />
<path d="M396.30,74.14 L398.06,74.32 L399.82,74.49 L401.59,74.67 L403.35,74.84 L405.11,75.01 L406.88,75.18 L408.64,75.35 L410.40,75.52 L412.16,75.68 L413.93,75.85 L415.69,76.01 L417.45,76.18 L419.21,76.35 L420.98,76.51 L422.74,76.68 L424.50,76.85 L426.26,77.01 L428.02,77.18 L429.79,77.35 L431.55,77.52 L433.31,77.69 L435.07,77.87 L436.84,78.04 L438.60,78.21 L440.36,78.39 L442.12,78.57 L443.89,78.75 L445.65,78.92 L447.41,79.11 L449.18,79.29 L450.94,79.47 L452.70,79.65 L454.46,79.84 L456.23,80.03 L457.99,80.21 L459.75,80.40 L461.51,80.59 L463.27,80.78 L465.04,80.97 L466.80,81.16 L468.56,81.35 L470.32,81.54 L472.09,81.73 L473.85,81.93 L475.61,82.12 L477.38,82.31 L479.14,82.50 L480.90,82.70 L482.66,82.89 L484.43,83.08 L486.19,83.28 L487.95,83.47 L489.71,83.66 L491.48,83.85 L493.24,84.04 L495.00,84.23 L496.76,84.42 L498.52,84.61 L500.29,84.80 L502.05,84.99 L503.81,85.17 L505.57,85.36 L507.34,85.54 L509.10,85.73 L510.86,85.91 L512.62,86.09 L514.39,86.27 L516.15,86.45 L517.91,86.63 L519.67,86.80 L521.44,86.98 L523.20,87.15 L524.96,87.32 L526.73,87.49 L528.49,87.66 L530.25,87.83 L532.01,88.00 L533.77,88.16 L535.54,88.33 L537.30,88.49 L539.06,88.65 L540.83,88.82 L542.59,88.98 L544.35,89.13 L546.11,89.29 L547.88,89.45 L549.64,89.60 L551.40,89.76 L553.16,89.91 L554.92,90.06 L556.69,90.21 L558.45,90.37 L560.21,90.52 L561.98,90.67 L563.74,90.81 L565.50,90.96 L567.26,91.11 L569.02,91.26 L570.79,91.41 L572.55,91.55 L574.31,91.70 L576.08,91.85 L577.84,91.99 L579.60,92.14 L581.36,92.29 L583.12,92.44 L584.89,92.58 L586.65,92.73 L588.41,92.88 L590.17,93.03 L591.94,93.18 L593.70,93.33 L595.46,93.48 L597.22,93.63 L598.99,93.78 L600.75,93.94 L602.51,94.09 L604.27,94.25 L606.04,94.40 L607.80,94.56 L609.56,94.72 L611.33,94.88 L613.09,95.04 L614.85,95.20 L616.61,95.36 L618.38,95.52 L620.14,95.69 L621.90,95.85 L623.66,96.01 L625.42,96.18 L627.19,96.35 L628.95,96.51 L630.71,96.68 L632.47,96.85 L634.24,97.01 L636.00,97.18 L637.76,97.35 L639.52,97.51 L641.29,97.68 L643.05,97.85 L644.81,98.01 L646.58,98.17 L648.34,98.33 L650.10,98.49 L651.86,98.65 L653.62,98.80 L655.39,98.95 L657.15,99.10 L658.91,99.24 L660.67,99.38 L662.44,99.51 L664.20,99.64 L665.96,99.77 L667.72,99.88 L669.49,99.99 L671.25,100.09 L673.01,100.18 L674.77,100.27 L676.54,100.34 L678.30,100.40" fill="none" stroke="#87871a" stroke-width="1.45" stroke-linecap="round" stroke-dasharray="0 2" clip-path="url(#cu1)"/>
<path d="M396.30,61.52 L398.06,62.07 L399.82,62.62 L401.59,63.17 L403.35,63.71 L405.11,64.24 L406.88,64.77 L408.64,65.30 L410.40,65.82 L412.16,66.34 L413.93,66.85 L415.69,67.35 L417.45,67.85 L419.21,68.34 L420.98,68.83 L422.74,69.31 L424.50,69.79 L426.26,70.26 L428.02,70.73 L429.79,71.19 L431.55,71.64 L433.31,72.09 L435.07,72.53 L436.84,72.96 L438.60,73.39 L440.36,73.81 L442.12,74.23 L443.89,74.64 L445.65,75.05 L447.41,75.44 L449.18,75.84 L450.94,76.22 L452.70,76.60 L454.46,76.98 L456.23,77.35 L457.99,77.71 L459.75,78.06 L461.51,78.41 L463.27,78.76 L465.04,79.10 L466.80,79.43 L468.56,79.76 L470.32,80.08 L472.09,80.39 L473.85,80.70 L475.61,81.01 L477.38,81.31 L479.14,81.60 L480.90,81.89 L482.66,82.17 L484.43,82.45 L486.19,82.72 L487.95,82.99 L489.71,83.25 L491.48,83.51 L493.24,83.76 L495.00,84.01 L496.76,84.25 L498.52,84.49 L500.29,84.72 L502.05,84.95 L503.81,85.18 L505.57,85.40 L507.34,85.62 L509.10,85.83 L510.86,86.04 L512.62,86.24 L514.39,86.44 L516.15,86.64 L517.91,86.83 L519.67,87.02 L521.44,87.21 L523.20,87.39 L524.96,87.57 L526.73,87.75 L528.49,87.92 L530.25,88.09 L532.01,88.26 L533.77,88.42 L535.54,88.58 L537.30,88.74 L539.06,88.90 L540.83,89.05 L542.59,89.20 L544.35,89.35 L546.11,89.50 L547.88,89.65 L549.64,89.79 L551.40,89.93 L553.16,90.07 L554.92,90.21 L556.69,90.34 L558.45,90.48 L560.21,90.61 L561.98,90.74 L563.74,90.87 L565.50,91.00 L567.26,91.12 L569.02,91.25 L570.79,91.37 L572.55,91.49 L574.31,91.62 L576.08,91.74 L577.84,91.86 L579.60,91.98 L581.36,92.09 L583.12,92.21 L584.89,92.33 L586.65,92.44 L588.41,92.55 L590.17,92.67 L591.94,92.78 L593.70,92.89 L595.46,93.00 L597.22,93.11 L598.99,93.22 L600.75,93.33 L602.51,93.44 L604.27,93.54 L606.04,93.65 L607.80,93.76 L609.56,93.86 L611.33,93.96 L613.09,94.07 L614.85,94.17 L616.61,94.27 L618.38,94.37 L620.14,94.47 L621.90,94.56 L623.66,94.66 L625.42,94.75 L627.19,94.85 L628.95,94.94 L630.71,95.03 L632.47,95.12 L634.24,95.21 L636.00,95.29 L637.76,95.37 L639.52,95.45 L641.29,95.53 L643.05,95.61 L644.81,95.68 L646.58,95.75 L648.34,95.82 L650.10,95.89 L651.86,95.95 L653.62,96.01 L655.39,96.06 L657.15,96.11 L658.91,96.16 L660.67,96.20 L662.44,96.24 L664.20,96.28 L665.96,96.31 L667.72,96.33 L669.49,96.35 L671.25,96.36 L673.01,96.37 L674.77,96.37 L676.54,96.37 L678.30,96.36" fill="none" stroke="#8e1a8e" stroke-width="1.1" stroke-linecap="butt" stroke-dasharray="3.1 1.5 0.9 1.5 0.9 1.5" clip-path="url(#cu1)"/>
<path d="M396.30,40.58 L398.06,41.70 L399.82,42.80 L401.59,43.88 L403.35,44.94 L405.11,45.98 L406.88,47.00 L408.64,47.99 L410.40,48.97 L412.16,49.93 L413.93,50.88 L415.69,51.80 L417.45,52.70 L419.21,53.59 L420.98,54.46 L422.74,55.31 L424.50,56.15 L426.26,56.97 L428.02,57.77 L429.79,58.56 L431.55,59.33 L433.31,60.09 L435.07,60.83 L436.84,61.56 L438.60,62.27 L440.36,62.97 L442.12,63.66 L443.89,64.33 L445.65,64.99 L447.41,65.64 L449.18,66.27 L450.94,66.89 L452.70,67.50 L454.46,68.09 L456.23,68.68 L457.99,69.25 L459.75,69.81 L461.51,70.37 L463.27,70.91 L465.04,71.44 L466.80,71.96 L468.56,72.47 L470.32,72.96 L472.09,73.45 L473.85,73.94 L475.61,74.41 L477.38,74.87 L479.14,75.32 L480.90,75.77 L482.66,76.20 L484.43,76.63 L486.19,77.05 L487.95,77.46 L489.71,77.87 L491.48,78.26 L493.24,78.65 L495.00,79.03 L496.76,79.41 L498.52,79.78 L500.29,80.14 L502.05,80.49 L503.81,80.84 L505.57,81.18 L507.34,81.52 L509.10,81.85 L510.86,82.17 L512.62,82.49 L514.39,82.80 L516.15,83.11 L517.91,83.41 L519.67,83.70 L521.44,84.00 L523.20,84.28 L524.96,84.56 L526.73,84.84 L528.49,85.11 L530.25,85.38 L532.01,85.64 L533.77,85.90 L535.54,86.15 L537.30,86.40 L539.06,86.65 L540.83,86.89 L542.59,87.12 L544.35,87.36 L546.11,87.59 L547.88,87.81 L549.64,88.03 L551.40,88.25 L553.16,88.47 L554.92,88.68 L556.69,88.89 L558.45,89.09 L560.21,89.29 L561.98,89.49 L563.74,89.69 L565.50,89.88 L567.26,90.07 L569.02,90.26 L570.79,90.44 L572.55,90.62 L574.31,90.80 L576.08,90.97 L577.84,91.14 L579.60,91.31 L581.36,91.48 L583.12,91.64 L584.89,91.80 L586.65,91.96 L588.41,92.11 L590.17,92.27 L591.94,92.42 L593.70,92.56 L595.46,92.71 L597.22,92.85 L598.99,92.99 L600.75,93.13 L602.51,93.26 L604.27,93.39 L606.04,93.52 L607.80,93.65 L609.56,93.77 L611.33,93.89 L613.09,94.01 L614.85,94.13 L616.61,94.24 L618.38,94.35 L620.14,94.46 L621.90,94.56 L623.66,94.67 L625.42,94.77 L627.19,94.86 L628.95,94.96 L630.71,95.05 L632.47,95.14 L634.24,95.23 L636.00,95.31 L637.76,95.39 L639.52,95.47 L641.29,95.54 L643.05,95.62 L644.81,95.68 L646.58,95.75 L648.34,95.81 L650.10,95.87 L651.86,95.93 L653.62,95.98 L655.39,96.03 L657.15,96.08 L658.91,96.12 L660.67,96.16 L662.44,96.20 L664.20,96.23 L665.96,96.26 L667.72,96.28 L669.49,96.31 L671.25,96.33 L673.01,96.34 L674.77,96.35 L676.54,96.36 L678.30,96.36" fill="none" stroke="#1f9696" stroke-width="1.05" stroke-linecap="butt" stroke-dasharray="3.6 3.4" clip-path="url(#cu1)"/>
<path d="M396.30,193.10 L398.06,193.17 L399.82,193.24 L401.59,193.31 L403.35,193.38 L405.11,193.45 L406.88,193.52 L408.64,193.59 L410.40,193.67 L412.16,193.74 L413.93,193.82 L415.69,193.89 L417.45,193.96 L419.21,194.03 L420.98,194.11 L422.74,194.18 L424.50,194.25 L426.26,194.32 L428.02,194.38 L429.79,194.45 L431.55,194.51 L433.31,194.58 L435.07,194.64 L436.84,194.69 L438.60,194.75 L440.36,194.80 L442.12,194.85 L443.89,194.90 L445.65,194.94 L447.41,194.98 L449.18,195.02 L450.94,195.06 L452.70,195.10 L454.46,195.13 L456.23,195.16 L457.99,195.19 L459.75,195.22 L461.51,195.25 L463.27,195.27 L465.04,195.30 L466.80,195.32 L468.56,195.35 L470.32,195.37 L472.09,195.39 L473.85,195.41 L475.61,195.43 L477.38,195.44 L479.14,195.46 L480.90,195.48 L482.66,195.50 L484.42,195.51 L486.19,195.53 L487.95,195.54 L489.71,195.56 L491.48,195.58 L493.24,195.59 L495.00,195.61 L496.76,195.63 L498.52,195.64 L500.29,195.66 L502.05,195.68 L503.81,195.70 L505.57,195.72 L507.34,195.74 L509.10,195.76 L510.86,195.78 L512.62,195.81 L514.39,195.83 L516.15,195.86 L517.91,195.88 L519.67,195.90 L521.44,195.93 L523.20,195.95 L524.96,195.98 L526.73,196.00 L528.49,196.03 L530.25,196.05 L532.01,196.07 L533.77,196.10 L535.54,196.12 L537.30,196.15 L539.06,196.17 L540.83,196.20 L542.59,196.22 L544.35,196.24 L546.11,196.27 L547.88,196.29 L549.64,196.32 L551.40,196.34 L553.16,196.37 L554.92,196.39 L556.69,196.42 L558.45,196.44 L560.21,196.47 L561.98,196.49 L563.74,196.52 L565.50,196.54 L567.26,196.57 L569.02,196.59 L570.79,196.62 L572.55,196.64 L574.31,196.67 L576.07,196.69 L577.84,196.72 L579.60,196.75 L581.36,196.77 L583.12,196.80 L584.89,196.82 L586.65,196.85 L588.41,196.88 L590.17,196.90 L591.94,196.93 L593.70,196.96 L595.46,196.98 L597.22,197.01 L598.99,197.04 L600.75,197.06 L602.51,197.09 L604.27,197.12 L606.04,197.14 L607.80,197.17 L609.56,197.20 L611.32,197.23 L613.09,197.26 L614.85,197.28 L616.61,197.31 L618.38,197.34 L620.14,197.37 L621.90,197.39 L623.66,197.42 L625.42,197.45 L627.19,197.48 L628.95,197.51 L630.71,197.54 L632.47,197.56 L634.24,197.59 L636.00,197.62 L637.76,197.65 L639.52,197.68 L641.29,197.71 L643.05,197.73 L644.81,197.76 L646.57,197.79 L648.34,197.82 L650.10,197.85 L651.86,197.88 L653.62,197.90 L655.39,197.93 L657.15,197.96 L658.91,197.99 L660.67,198.02 L662.44,198.05 L664.20,198.07 L665.96,198.10 L667.72,198.13 L669.49,198.16 L671.25,198.19 L673.01,198.22 L674.77,198.24 L676.54,198.27 L678.30,198.30" fill="none" stroke="#8796ff" stroke-width="1.15" stroke-linecap="butt" clip-path="url(#cl1)"/>
<path d="M396.30,166.09 L398.06,166.61 L399.82,167.12 L401.59,167.62 L403.35,168.12 L405.11,168.61 L406.88,169.10 L408.64,169.57 L410.40,170.04 L412.16,170.50 L413.93,170.96 L415.69,171.41 L417.45,171.85 L419.21,172.29 L420.98,172.72 L422.74,173.14 L424.50,173.56 L426.26,173.97 L428.02,174.37 L429.79,174.77 L431.55,175.16 L433.31,175.55 L435.07,175.93 L436.84,176.31 L438.60,176.68 L440.36,177.04 L442.12,177.40 L443.89,177.75 L445.65,178.10 L447.41,178.44 L449.18,178.78 L450.94,179.11 L452.70,179.44 L454.46,179.76 L456.23,180.08 L457.99,180.39 L459.75,180.70 L461.51,181.00 L463.27,181.30 L465.04,181.59 L466.80,181.88 L468.56,182.17 L470.32,182.45 L472.09,182.72 L473.85,182.99 L475.61,183.26 L477.38,183.52 L479.14,183.78 L480.90,184.03 L482.66,184.28 L484.43,184.53 L486.19,184.77 L487.95,185.01 L489.71,185.24 L491.48,185.48 L493.24,185.70 L495.00,185.93 L496.76,186.15 L498.52,186.36 L500.29,186.57 L502.05,186.78 L503.81,186.99 L505.57,187.19 L507.34,187.39 L509.10,187.59 L510.86,187.78 L512.62,187.97 L514.39,188.15 L516.15,188.34 L517.91,188.52 L519.67,188.69 L521.44,188.87 L523.20,189.04 L524.96,189.21 L526.73,189.37 L528.49,189.54 L530.25,189.70 L532.01,189.85 L533.77,190.01 L535.54,190.16 L537.30,190.31 L539.06,190.46 L540.83,190.60 L542.59,190.74 L544.35,190.88 L546.11,191.02 L547.88,191.16 L549.64,191.29 L551.40,191.42 L553.16,191.55 L554.92,191.67 L556.69,191.80 L558.45,191.92 L560.21,192.04 L561.98,192.15 L563.74,192.27 L565.50,192.38 L567.26,192.50 L569.02,192.61 L570.79,192.71 L572.55,192.82 L574.31,192.92 L576.08,193.03 L577.84,193.13 L579.60,193.23 L581.36,193.32 L583.12,193.42 L584.89,193.51 L586.65,193.60 L588.41,193.70 L590.17,193.79 L591.94,193.87 L593.70,193.96 L595.46,194.04 L597.22,194.13 L598.99,194.21 L600.75,194.29 L602.51,194.37 L604.27,194.45 L606.04,194.53 L607.80,194.60 L609.56,194.68 L611.33,194.75 L613.09,194.82 L614.85,194.90 L616.61,194.97 L618.38,195.03 L620.14,195.10 L621.90,195.17 L623.66,195.24 L625.42,195.30 L627.19,195.37 L628.95,195.43 L630.71,195.49 L632.47,195.55 L634.24,195.62 L636.00,195.68 L637.76,195.74 L639.52,195.79 L641.29,195.85 L643.05,195.91 L644.81,195.97 L646.58,196.02 L648.34,196.08 L650.10,196.13 L651.86,196.19 L653.62,196.24 L655.39,196.30 L657.15,196.35 L658.91,196.40 L660.67,196.45 L662.44,196.51 L664.20,196.56 L665.96,196.61 L667.72,196.66 L669.49,196.71 L671.25,196.76 L673.01,196.81 L674.77,196.86 L676.54,196.91 L678.30,196.96" fill="none" stroke="#8e1a8e" stroke-width="1.1" stroke-linecap="butt" stroke-dasharray="3.1 1.5 0.9 1.5 0.9 1.5" clip-path="url(#cl1)"/>
<path d="M396.30,148.10 L398.06,149.09 L399.82,150.05 L401.59,151.00 L403.35,151.93 L405.11,152.84 L406.88,153.73 L408.64,154.60 L410.40,155.46 L412.16,156.30 L413.93,157.12 L415.69,157.92 L417.45,158.71 L419.21,159.49 L420.98,160.24 L422.74,160.99 L424.50,161.72 L426.26,162.43 L428.02,163.13 L429.79,163.81 L431.55,164.48 L433.31,165.14 L435.07,165.79 L436.84,166.42 L438.60,167.04 L440.36,167.65 L442.12,168.24 L443.89,168.82 L445.65,169.40 L447.41,169.96 L449.18,170.51 L450.94,171.04 L452.70,171.57 L454.46,172.09 L456.23,172.60 L457.99,173.09 L459.75,173.58 L461.51,174.06 L463.27,174.53 L465.04,174.99 L466.80,175.44 L468.56,175.88 L470.32,176.31 L472.09,176.74 L473.85,177.16 L475.61,177.56 L477.38,177.97 L479.14,178.36 L480.90,178.75 L482.66,179.12 L484.43,179.50 L486.19,179.86 L487.95,180.22 L489.71,180.57 L491.48,180.92 L493.24,181.25 L495.00,181.59 L496.76,181.91 L498.52,182.23 L500.29,182.55 L502.05,182.85 L503.81,183.16 L505.57,183.46 L507.34,183.75 L509.10,184.03 L510.86,184.32 L512.62,184.59 L514.39,184.87 L516.15,185.13 L517.91,185.40 L519.67,185.65 L521.44,185.91 L523.20,186.16 L524.96,186.40 L526.73,186.64 L528.49,186.88 L530.25,187.11 L532.01,187.34 L533.77,187.56 L535.54,187.78 L537.30,188.00 L539.06,188.21 L540.83,188.42 L542.59,188.63 L544.35,188.83 L546.11,189.03 L547.88,189.23 L549.64,189.42 L551.40,189.61 L553.16,189.80 L554.92,189.98 L556.69,190.16 L558.45,190.34 L560.21,190.51 L561.98,190.68 L563.74,190.85 L565.50,191.01 L567.26,191.18 L569.02,191.34 L570.79,191.49 L572.55,191.65 L574.31,191.80 L576.08,191.95 L577.84,192.10 L579.60,192.24 L581.36,192.38 L583.12,192.52 L584.89,192.66 L586.65,192.79 L588.41,192.92 L590.17,193.05 L591.94,193.18 L593.70,193.30 L595.46,193.43 L597.22,193.55 L598.99,193.66 L600.75,193.78 L602.51,193.89 L604.27,194.00 L606.04,194.11 L607.80,194.22 L609.56,194.32 L611.33,194.43 L613.09,194.53 L614.85,194.62 L616.61,194.72 L618.38,194.81 L620.14,194.91 L621.90,195.00 L623.66,195.08 L625.42,195.17 L627.19,195.25 L628.95,195.34 L630.71,195.42 L632.47,195.49 L634.24,195.57 L636.00,195.64 L637.76,195.71 L639.52,195.78 L641.29,195.85 L643.05,195.92 L644.81,195.98 L646.58,196.05 L648.34,196.11 L650.10,196.17 L651.86,196.22 L653.62,196.28 L655.39,196.33 L657.15,196.38 L658.91,196.43 L660.67,196.48 L662.44,196.53 L664.20,196.57 L665.96,196.62 L667.72,196.66 L669.49,196.70 L671.25,196.74 L673.01,196.77 L674.77,196.81 L676.54,196.84 L678.30,196.88" fill="none" stroke="#1f9696" stroke-width="1.05" stroke-linecap="butt" stroke-dasharray="3.6 3.4" clip-path="url(#cl1)"/>
<line x1="438.20" y1="72.80" x2="438.20" y2="19.70" stroke="#ff6060" stroke-width="1.15" />
<line x1="435.90" y1="72.80" x2="440.50" y2="72.80" stroke="#ff6060" stroke-width="1.15" />
<line x1="435.90" y1="19.70" x2="440.50" y2="19.70" stroke="#ff6060" stroke-width="1.15" />
<circle cx="438.20" cy="46.50" r="1.75" fill="#ff0000"/>
<line x1="442.60" y1="109.20" x2="442.60" y2="67.50" stroke="#ff6060" stroke-width="1.15" />
<line x1="440.30" y1="109.20" x2="444.90" y2="109.20" stroke="#ff6060" stroke-width="1.15" />
<line x1="440.30" y1="67.50" x2="444.90" y2="67.50" stroke="#ff6060" stroke-width="1.15" />
<circle cx="442.60" cy="88.30" r="1.75" fill="#ff0000"/>
<line x1="447.20" y1="97.90" x2="447.20" y2="69.30" stroke="#ff6060" stroke-width="1.15" />
<line x1="444.90" y1="97.90" x2="449.50" y2="97.90" stroke="#ff6060" stroke-width="1.15" />
<line x1="444.90" y1="69.30" x2="449.50" y2="69.30" stroke="#ff6060" stroke-width="1.15" />
<circle cx="447.20" cy="83.60" r="1.75" fill="#ff0000"/>
<line x1="452.40" y1="70.50" x2="452.40" y2="43.40" stroke="#ff6060" stroke-width="1.15" />
<line x1="450.10" y1="70.50" x2="454.70" y2="70.50" stroke="#ff6060" stroke-width="1.15" />
<line x1="450.10" y1="43.40" x2="454.70" y2="43.40" stroke="#ff6060" stroke-width="1.15" />
<circle cx="452.40" cy="57.00" r="1.75" fill="#ff0000"/>
<line x1="458.20" y1="92.20" x2="458.20" y2="59.40" stroke="#ff6060" stroke-width="1.15" />
<line x1="455.90" y1="92.20" x2="460.50" y2="92.20" stroke="#ff6060" stroke-width="1.15" />
<line x1="455.90" y1="59.40" x2="460.50" y2="59.40" stroke="#ff6060" stroke-width="1.15" />
<circle cx="458.20" cy="75.70" r="1.75" fill="#ff0000"/>
<line x1="469.70" y1="118.50" x2="469.70" y2="77.30" stroke="#ff6060" stroke-width="1.15" />
<line x1="467.40" y1="118.50" x2="472.00" y2="118.50" stroke="#ff6060" stroke-width="1.15" />
<line x1="467.40" y1="77.30" x2="472.00" y2="77.30" stroke="#ff6060" stroke-width="1.15" />
<circle cx="469.70" cy="97.90" r="1.75" fill="#ff0000"/>
<rect x="555.3" y="15.0" width="113.5" height="43.5" fill="#fff"/>
<rect x="414.5" y="108.8" width="68" height="15" fill="#fff"/>
<rect x="542.3" y="141.0" width="118.5" height="45" fill="#fff"/>
<line x1="396.30" y1="128.50" x2="403.60" y2="128.50" stroke="#1a1a1a" stroke-width="1.1" />
<line x1="678.30" y1="128.50" x2="671.00" y2="128.50" stroke="#1a1a1a" stroke-width="1.1" />
<line x1="396.30" y1="105.41" x2="403.60" y2="105.41" stroke="#1a1a1a" stroke-width="1.1" />
<line x1="678.30" y1="105.41" x2="671.00" y2="105.41" stroke="#1a1a1a" stroke-width="1.1" />
<line x1="396.30" y1="82.32" x2="403.60" y2="82.32" stroke="#1a1a1a" stroke-width="1.1" />
<line x1="678.30" y1="82.32" x2="671.00" y2="82.32" stroke="#1a1a1a" stroke-width="1.1" />
<line x1="396.30" y1="59.23" x2="403.60" y2="59.23" stroke="#1a1a1a" stroke-width="1.1" />
<line x1="678.30" y1="59.23" x2="671.00" y2="59.23" stroke="#1a1a1a" stroke-width="1.1" />
<line x1="396.30" y1="36.14" x2="403.60" y2="36.14" stroke="#1a1a1a" stroke-width="1.1" />
<line x1="678.30" y1="36.14" x2="671.00" y2="36.14" stroke="#1a1a1a" stroke-width="1.1" />
<line x1="396.30" y1="13.05" x2="403.60" y2="13.05" stroke="#1a1a1a" stroke-width="1.1" />
<line x1="678.30" y1="13.05" x2="671.00" y2="13.05" stroke="#1a1a1a" stroke-width="1.1" />
<line x1="396.30" y1="116.95" x2="398.60" y2="116.95" stroke="#1a1a1a" stroke-width="1" />
<line x1="678.30" y1="116.95" x2="676.00" y2="116.95" stroke="#1a1a1a" stroke-width="1" />
<line x1="396.30" y1="93.86" x2="398.60" y2="93.86" stroke="#1a1a1a" stroke-width="1" />
<line x1="678.30" y1="93.86" x2="676.00" y2="93.86" stroke="#1a1a1a" stroke-width="1" />
<line x1="396.30" y1="70.77" x2="398.60" y2="70.77" stroke="#1a1a1a" stroke-width="1" />
<line x1="678.30" y1="70.77" x2="676.00" y2="70.77" stroke="#1a1a1a" stroke-width="1" />
<line x1="396.30" y1="47.68" x2="398.60" y2="47.68" stroke="#1a1a1a" stroke-width="1" />
<line x1="678.30" y1="47.68" x2="676.00" y2="47.68" stroke="#1a1a1a" stroke-width="1" />
<line x1="396.30" y1="24.59" x2="398.60" y2="24.59" stroke="#1a1a1a" stroke-width="1" />
<line x1="678.30" y1="24.59" x2="676.00" y2="24.59" stroke="#1a1a1a" stroke-width="1" />
<line x1="490.50" y1="1.50" x2="490.50" y2="8.90" stroke="#1a1a1a" stroke-width="1" />
<line x1="490.50" y1="128.50" x2="490.50" y2="121.10" stroke="#1a1a1a" stroke-width="1" />
<line x1="584.50" y1="1.50" x2="584.50" y2="8.90" stroke="#1a1a1a" stroke-width="1" />
<line x1="584.50" y1="128.50" x2="584.50" y2="121.10" stroke="#1a1a1a" stroke-width="1" />
<line x1="433.50" y1="1.50" x2="433.50" y2="3.90" stroke="#1a1a1a" stroke-width="1" />
<line x1="433.50" y1="128.50" x2="433.50" y2="126.10" stroke="#1a1a1a" stroke-width="1" />
<line x1="452.50" y1="1.50" x2="452.50" y2="3.90" stroke="#1a1a1a" stroke-width="1" />
<line x1="452.50" y1="128.50" x2="452.50" y2="126.10" stroke="#1a1a1a" stroke-width="1" />
<line x1="465.50" y1="1.50" x2="465.50" y2="3.90" stroke="#1a1a1a" stroke-width="1" />
<line x1="465.50" y1="128.50" x2="465.50" y2="126.10" stroke="#1a1a1a" stroke-width="1" />
<line x1="475.50" y1="1.50" x2="475.50" y2="3.90" stroke="#1a1a1a" stroke-width="1" />
<line x1="475.50" y1="128.50" x2="475.50" y2="126.10" stroke="#1a1a1a" stroke-width="1" />
<line x1="483.50" y1="1.50" x2="483.50" y2="3.90" stroke="#1a1a1a" stroke-width="1" />
<line x1="483.50" y1="128.50" x2="483.50" y2="126.10" stroke="#1a1a1a" stroke-width="1" />
<line x1="527.50" y1="1.50" x2="527.50" y2="3.90" stroke="#1a1a1a" stroke-width="1" />
<line x1="527.50" y1="128.50" x2="527.50" y2="126.10" stroke="#1a1a1a" stroke-width="1" />
<line x1="546.50" y1="1.50" x2="546.50" y2="3.90" stroke="#1a1a1a" stroke-width="1" />
<line x1="546.50" y1="128.50" x2="546.50" y2="126.10" stroke="#1a1a1a" stroke-width="1" />
<line x1="559.50" y1="1.50" x2="559.50" y2="3.90" stroke="#1a1a1a" stroke-width="1" />
<line x1="559.50" y1="128.50" x2="559.50" y2="126.10" stroke="#1a1a1a" stroke-width="1" />
<line x1="569.50" y1="1.50" x2="569.50" y2="3.90" stroke="#1a1a1a" stroke-width="1" />
<line x1="569.50" y1="128.50" x2="569.50" y2="126.10" stroke="#1a1a1a" stroke-width="1" />
<line x1="577.50" y1="1.50" x2="577.50" y2="3.90" stroke="#1a1a1a" stroke-width="1" />
<line x1="577.50" y1="128.50" x2="577.50" y2="126.10" stroke="#1a1a1a" stroke-width="1" />
<line x1="621.50" y1="1.50" x2="621.50" y2="3.90" stroke="#1a1a1a" stroke-width="1" />
<line x1="621.50" y1="128.50" x2="621.50" y2="126.10" stroke="#1a1a1a" stroke-width="1" />
<line x1="640.50" y1="1.50" x2="640.50" y2="3.90" stroke="#1a1a1a" stroke-width="1" />
<line x1="640.50" y1="128.50" x2="640.50" y2="126.10" stroke="#1a1a1a" stroke-width="1" />
<line x1="653.50" y1="1.50" x2="653.50" y2="3.90" stroke="#1a1a1a" stroke-width="1" />
<line x1="653.50" y1="128.50" x2="653.50" y2="126.10" stroke="#1a1a1a" stroke-width="1" />
<line x1="663.50" y1="1.50" x2="663.50" y2="3.90" stroke="#1a1a1a" stroke-width="1" />
<line x1="663.50" y1="128.50" x2="663.50" y2="126.10" stroke="#1a1a1a" stroke-width="1" />
<line x1="671.50" y1="1.50" x2="671.50" y2="3.90" stroke="#1a1a1a" stroke-width="1" />
<line x1="671.50" y1="128.50" x2="671.50" y2="126.10" stroke="#1a1a1a" stroke-width="1" />
<line x1="395.80" y1="1.50" x2="678.80" y2="1.50" stroke="#1a1a1a" stroke-width="1.0" />
<line x1="395.80" y1="128.50" x2="678.80" y2="128.50" stroke="#1a1a1a" stroke-width="1.0" />
<line x1="396.30" y1="1.50" x2="396.30" y2="128.50" stroke="#1a1a1a" stroke-width="1" />
<line x1="678.30" y1="1.50" x2="678.30" y2="128.50" stroke="#1a1a1a" stroke-width="1" />
<line x1="396.30" y1="204.70" x2="401.70" y2="204.70" stroke="#1a1a1a" stroke-width="1.1" />
<line x1="678.30" y1="204.70" x2="672.90" y2="204.70" stroke="#1a1a1a" stroke-width="1.1" />
<line x1="396.30" y1="184.50" x2="401.70" y2="184.50" stroke="#1a1a1a" stroke-width="1.1" />
<line x1="678.30" y1="184.50" x2="672.90" y2="184.50" stroke="#1a1a1a" stroke-width="1.1" />
<line x1="396.30" y1="164.30" x2="401.70" y2="164.30" stroke="#1a1a1a" stroke-width="1.1" />
<line x1="678.30" y1="164.30" x2="672.90" y2="164.30" stroke="#1a1a1a" stroke-width="1.1" />
<line x1="396.30" y1="144.10" x2="401.70" y2="144.10" stroke="#1a1a1a" stroke-width="1.1" />
<line x1="678.30" y1="144.10" x2="672.90" y2="144.10" stroke="#1a1a1a" stroke-width="1.1" />
<line x1="490.50" y1="134.20" x2="490.50" y2="141.70" stroke="#1a1a1a" stroke-width="1" />
<line x1="490.50" y1="215.00" x2="490.50" y2="207.50" stroke="#1a1a1a" stroke-width="1" />
<line x1="584.50" y1="134.20" x2="584.50" y2="141.70" stroke="#1a1a1a" stroke-width="1" />
<line x1="584.50" y1="215.00" x2="584.50" y2="207.50" stroke="#1a1a1a" stroke-width="1" />
<line x1="433.50" y1="134.20" x2="433.50" y2="138.00" stroke="#1a1a1a" stroke-width="1" />
<line x1="433.50" y1="215.00" x2="433.50" y2="211.20" stroke="#1a1a1a" stroke-width="1" />
<line x1="452.50" y1="134.20" x2="452.50" y2="138.00" stroke="#1a1a1a" stroke-width="1" />
<line x1="452.50" y1="215.00" x2="452.50" y2="211.20" stroke="#1a1a1a" stroke-width="1" />
<line x1="465.50" y1="134.20" x2="465.50" y2="138.00" stroke="#1a1a1a" stroke-width="1" />
<line x1="465.50" y1="215.00" x2="465.50" y2="211.20" stroke="#1a1a1a" stroke-width="1" />
<line x1="475.50" y1="134.20" x2="475.50" y2="138.00" stroke="#1a1a1a" stroke-width="1" />
<line x1="475.50" y1="215.00" x2="475.50" y2="211.20" stroke="#1a1a1a" stroke-width="1" />
<line x1="483.50" y1="134.20" x2="483.50" y2="138.00" stroke="#1a1a1a" stroke-width="1" />
<line x1="483.50" y1="215.00" x2="483.50" y2="211.20" stroke="#1a1a1a" stroke-width="1" />
<line x1="527.50" y1="134.20" x2="527.50" y2="138.00" stroke="#1a1a1a" stroke-width="1" />
<line x1="527.50" y1="215.00" x2="527.50" y2="211.20" stroke="#1a1a1a" stroke-width="1" />
<line x1="546.50" y1="134.20" x2="546.50" y2="138.00" stroke="#1a1a1a" stroke-width="1" />
<line x1="546.50" y1="215.00" x2="546.50" y2="211.20" stroke="#1a1a1a" stroke-width="1" />
<line x1="559.50" y1="134.20" x2="559.50" y2="138.00" stroke="#1a1a1a" stroke-width="1" />
<line x1="559.50" y1="215.00" x2="559.50" y2="211.20" stroke="#1a1a1a" stroke-width="1" />
<line x1="569.50" y1="134.20" x2="569.50" y2="138.00" stroke="#1a1a1a" stroke-width="1" />
<line x1="569.50" y1="215.00" x2="569.50" y2="211.20" stroke="#1a1a1a" stroke-width="1" />
<line x1="577.50" y1="134.20" x2="577.50" y2="138.00" stroke="#1a1a1a" stroke-width="1" />
<line x1="577.50" y1="215.00" x2="577.50" y2="211.20" stroke="#1a1a1a" stroke-width="1" />
<line x1="621.50" y1="134.20" x2="621.50" y2="138.00" stroke="#1a1a1a" stroke-width="1" />
<line x1="621.50" y1="215.00" x2="621.50" y2="211.20" stroke="#1a1a1a" stroke-width="1" />
<line x1="640.50" y1="134.20" x2="640.50" y2="138.00" stroke="#1a1a1a" stroke-width="1" />
<line x1="640.50" y1="215.00" x2="640.50" y2="211.20" stroke="#1a1a1a" stroke-width="1" />
<line x1="653.50" y1="134.20" x2="653.50" y2="138.00" stroke="#1a1a1a" stroke-width="1" />
<line x1="653.50" y1="215.00" x2="653.50" y2="211.20" stroke="#1a1a1a" stroke-width="1" />
<line x1="663.50" y1="134.20" x2="663.50" y2="138.00" stroke="#1a1a1a" stroke-width="1" />
<line x1="663.50" y1="215.00" x2="663.50" y2="211.20" stroke="#1a1a1a" stroke-width="1" />
<line x1="671.50" y1="134.20" x2="671.50" y2="138.00" stroke="#1a1a1a" stroke-width="1" />
<line x1="671.50" y1="215.00" x2="671.50" y2="211.20" stroke="#1a1a1a" stroke-width="1" />
<line x1="395.80" y1="134.20" x2="678.80" y2="134.20" stroke="#8a8a8a" stroke-width="1.6" />
<line x1="395.80" y1="215.00" x2="678.80" y2="215.00" stroke="#1a1a1a" stroke-width="1.0" />
<line x1="396.30" y1="134.20" x2="396.30" y2="215.00" stroke="#1a1a1a" stroke-width="1" />
<line x1="678.30" y1="134.20" x2="678.30" y2="215.00" stroke="#1a1a1a" stroke-width="1" />
<text x="374.97" y="131.60" font-size="10">-0.2</text>
<text x="378.30" y="108.51" font-size="10">0.0</text>
<text x="378.30" y="85.42" font-size="10">0.2</text>
<text x="378.30" y="62.33" font-size="10">0.4</text>
<text x="378.30" y="39.24" font-size="10">0.6</text>
<text x="378.30" y="16.15" font-size="10">0.8</text>
<text x="378.09" y="208.00" font-size="9">0.0</text>
<text x="378.09" y="187.80" font-size="9">0.2</text>
<text x="378.09" y="167.60" font-size="9">0.4</text>
<text x="378.09" y="147.40" font-size="9">0.6</text>
<path class="g1" d="M763 0H583V1147Q518 1085 412.5 1023T223 930V1104Q374 1175 487 1276T647 1472H763Z" transform="translate(388.39,227.95) scale(0.004541,-0.004541)"/>
<text x="393.56" y="227.95" font-size="9.3">0</text>
<text x="398.63" y="224.40" font-size="6.2">-4</text>
<path class="g1" d="M763 0H583V1147Q518 1085 412.5 1023T223 930V1104Q374 1175 487 1276T647 1472H763Z" transform="translate(482.59,227.95) scale(0.004541,-0.004541)"/>
<text x="487.76" y="227.95" font-size="9.3">0</text>
<text x="492.83" y="224.40" font-size="6.2">-3</text>
<path class="g1" d="M763 0H583V1147Q518 1085 412.5 1023T223 930V1104Q374 1175 487 1276T647 1472H763Z" transform="translate(576.79,227.95) scale(0.004541,-0.004541)"/>
<text x="581.96" y="227.95" font-size="9.3">0</text>
<text x="587.03" y="224.40" font-size="6.2">-2</text>
<path class="g1" d="M763 0H583V1147Q518 1085 412.5 1023T223 930V1104Q374 1175 487 1276T647 1472H763Z" transform="translate(670.99,227.95) scale(0.004541,-0.004541)"/>
<text x="676.16" y="227.95" font-size="9.3">0</text>
<text x="681.23" y="224.40" font-size="6.2">-</text>
<path class="g1" d="M763 0H583V1147Q518 1085 412.5 1023T223 930V1104Q374 1175 487 1276T647 1472H763Z" transform="translate(683.30,224.40) scale(0.003027,-0.003027)"/>
<text x="537.30" y="240.80" font-size="10" text-anchor="middle" >x</text>
<g transform="translate(367.1,81.3) rotate(-90) scale(1.04,1)"><text x="0" y="0" font-size="12">F<tspan font-size="8.5" dy="2.6">L</tspan><tspan dy="-2.6">(x,Q</tspan><tspan font-size="8.5" dy="-4.6">2</tspan><tspan dy="4.6">)</tspan></text></g>
<g transform="translate(366.8,185.1) rotate(-90)"><text x="0" y="0" font-size="12">F<tspan font-size="8.5" dy="3">L</tspan></text><text x="11.6" y="-4.0" font-size="8" font-style="italic">i</text></g>
<g transform="translate(428.00,22.30) scale(1.07,1)"><text x="0" y="0" font-size="10">Q</text></g>
<g transform="translate(436.32,18.10) scale(1.07,1)"><text x="0" y="0" font-size="7">2</text></g>
<g transform="translate(443.46,22.30) scale(1.07,1)"><text x="0" y="0" font-size="10">= </text></g>
<path class="g1" d="M763 0H583V1147Q518 1085 412.5 1023T223 930V1104Q374 1175 487 1276T647 1472H763Z" transform="translate(452.68,22.30) scale(0.005225,-0.004883)"/>
<g transform="translate(458.63,22.30) scale(1.07,1)"><text x="0" y="0" font-size="10">5 GeV</text></g>
<g transform="translate(488.97,18.10) scale(1.07,1)"><text x="0" y="0" font-size="7">2</text></g>
<line x1="559.5" y1="20.9" x2="570.7" y2="20.9" stroke="#1f9696" stroke-width="1.05" stroke-linecap="butt" stroke-dasharray="3.6 3.4"/>
<line x1="559.5" y1="31.6" x2="570.7" y2="31.6" stroke="#8e1a8e" stroke-width="1.1" stroke-linecap="butt" stroke-dasharray="3.1 1.5 0.9 1.5 0.9 1.5"/>
<text x="576.40" y="23.90" font-size="8">MD-BFKL, R = 5 GeV</text>
<text x="653.53" y="21.20" font-size="5.6">-</text>
<path class="g1" d="M763 0H583V1147Q518 1085 412.5 1023T223 930V1104Q374 1175 487 1276T647 1472H763Z" transform="translate(655.40,21.20) scale(0.002734,-0.002734)"/>
<text x="576.40" y="34.50" font-size="8">MD-BFKL, R = 2 GeV</text>
<text x="653.53" y="31.80" font-size="5.6">-</text>
<path class="g1" d="M763 0H583V1147Q518 1085 412.5 1023T223 930V1104Q374 1175 487 1276T647 1472H763Z" transform="translate(655.40,31.80) scale(0.002734,-0.002734)"/>
<text x="556.80" y="44.80" font-size="8">HERA data</text>
<rect x="564.40" y="50.10" width="2.8" height="2.8" fill="#ff0000"/>
<rect x="614.00" y="50.10" width="2.8" height="2.8" fill="#1040ff"/>
<text x="576.60" y="54.30" font-size="8">H</text>
<path class="g1" d="M763 0H583V1147Q518 1085 412.5 1023T223 930V1104Q374 1175 487 1276T647 1472H763Z" transform="translate(582.38,54.30) scale(0.003906,-0.003906)"/>
<text x="589.05" y="54.30" font-size="8">20</text>
<path class="g1" d="M763 0H583V1147Q518 1085 412.5 1023T223 930V1104Q374 1175 487 1276T647 1472H763Z" transform="translate(597.95,54.30) scale(0.003906,-0.003906)"/>
<text x="602.40" y="54.30" font-size="8">4</text>
<text x="626.30" y="54.30" font-size="8">ZEUS 2009</text>
<line x1="416.1" y1="114.9" x2="426.9" y2="114.9" stroke="#87871a" stroke-width="1.45" stroke-linecap="round" stroke-dasharray="0 2"/>
<text x="433.00" y="117.60" font-size="8">PDF4LHC </text>
<path class="g1" d="M763 0H583V1147Q518 1085 412.5 1023T223 930V1104Q374 1175 487 1276T647 1472H763Z" transform="translate(471.68,117.60) scale(0.003906,-0.003906)"/>
<text x="476.12" y="117.60" font-size="8">5</text>
<line x1="549.9" y1="151.3" x2="560.9" y2="151.3" stroke="#aab4ff" stroke-width="1.9" stroke-linecap="butt"/>
<line x1="549.9" y1="164.6" x2="560.9" y2="164.6" stroke="#1f9696" stroke-width="1.05" stroke-linecap="butt" stroke-dasharray="3.6 3.4"/>
<line x1="549.9" y1="178.1" x2="560.9" y2="178.1" stroke="#8e1a8e" stroke-width="1.1" stroke-linecap="butt" stroke-dasharray="3.1 1.5 0.9 1.5 0.9 1.5"/>
<text x="567.60" y="154.60" font-size="8.8" text-anchor="start" >F</text>
<text x="572.70" y="156.90" font-size="6" text-anchor="start" >L</text>
<text x="576.60" y="151.30" font-size="6.0" text-anchor="start" >npert.</text>
<text x="567.60" y="167.80" font-size="8.8" text-anchor="start" >F</text>
<text x="572.70" y="170.10" font-size="6" text-anchor="start" >L</text>
<text x="576.60" y="164.50" font-size="6.0" text-anchor="start" >pert.+npert.</text>
<text x="607.00" y="167.80" font-size="8.8">, R = 5 GeV</text>
<text x="653.30" y="164.20" font-size="5.6">-</text>
<path class="g1" d="M763 0H583V1147Q518 1085 412.5 1023T223 930V1104Q374 1175 487 1276T647 1472H763Z" transform="translate(655.16,164.20) scale(0.002734,-0.002734)"/>
<text x="567.60" y="181.00" font-size="8.8" text-anchor="start" >F</text>
<text x="572.70" y="183.30" font-size="6" text-anchor="start" >L</text>
<text x="576.60" y="177.70" font-size="6.0" text-anchor="start" >pert.+npert.</text>
<text x="607.00" y="181.00" font-size="8.8">, R = 2 GeV</text>
<text x="653.30" y="177.40" font-size="5.6">-</text>
<path class="g1" d="M763 0H583V1147Q518 1085 412.5 1023T223 930V1104Q374 1175 487 1276T647 1472H763Z" transform="translate(655.16,177.40) scale(0.002734,-0.002734)"/>
<line x1="40.50" y1="381.84" x2="322.50" y2="381.84" stroke="#e8e8e8" stroke-width="1" />
<line x1="40.50" y1="367.73" x2="322.50" y2="367.73" stroke="#e8e8e8" stroke-width="1" />
<line x1="40.50" y1="353.62" x2="322.50" y2="353.62" stroke="#e8e8e8" stroke-width="1" />
<line x1="40.50" y1="339.51" x2="322.50" y2="339.51" stroke="#e8e8e8" stroke-width="1" />
<line x1="40.50" y1="325.40" x2="322.50" y2="325.40" stroke="#e8e8e8" stroke-width="1" />
<line x1="40.50" y1="311.29" x2="322.50" y2="311.29" stroke="#e8e8e8" stroke-width="1" />
<line x1="40.50" y1="297.18" x2="322.50" y2="297.18" stroke="#e8e8e8" stroke-width="1" />
<line x1="40.50" y1="283.07" x2="322.50" y2="283.07" stroke="#e8e8e8" stroke-width="1" />
<line x1="40.50" y1="268.96" x2="322.50" y2="268.96" stroke="#e8e8e8" stroke-width="1" />
<line x1="134.50" y1="261.90" x2="134.50" y2="388.90" stroke="#e8e8e8" stroke-width="1" />
<line x1="228.50" y1="261.90" x2="228.50" y2="388.90" stroke="#e8e8e8" stroke-width="1" />
<line x1="40.50" y1="465.10" x2="322.50" y2="465.10" stroke="#e8e8e8" stroke-width="1" />
<line x1="40.50" y1="449.95" x2="322.50" y2="449.95" stroke="#e8e8e8" stroke-width="1" />
<line x1="40.50" y1="434.80" x2="322.50" y2="434.80" stroke="#e8e8e8" stroke-width="1" />
<line x1="40.50" y1="419.65" x2="322.50" y2="419.65" stroke="#e8e8e8" stroke-width="1" />
<line x1="40.50" y1="404.50" x2="322.50" y2="404.50" stroke="#e8e8e8" stroke-width="1" />
<line x1="134.50" y1="394.60" x2="134.50" y2="475.40" stroke="#e8e8e8" stroke-width="1" />
<line x1="228.50" y1="394.60" x2="228.50" y2="475.40" stroke="#e8e8e8" stroke-width="1" />
<path d="M40.50,348.90 L42.26,349.00 L44.02,349.11 L45.79,349.21 L47.55,349.32 L49.31,349.42 L51.08,349.52 L52.84,349.63 L54.60,349.73 L56.36,349.84 L58.12,349.94 L59.89,350.05 L61.65,350.15 L63.41,350.26 L65.17,350.36 L66.94,350.46 L68.70,350.57 L70.46,350.67 L72.22,350.78 L73.99,350.88 L75.75,350.98 L77.51,351.09 L79.28,351.19 L81.04,351.29 L82.80,351.40 L84.56,351.50 L86.33,351.60 L88.09,351.70 L89.85,351.81 L91.61,351.91 L93.38,352.01 L95.14,352.11 L96.90,352.21 L98.66,352.31 L100.42,352.41 L102.19,352.50 L103.95,352.60 L105.71,352.70 L107.47,352.79 L109.24,352.89 L111.00,352.98 L112.76,353.08 L114.53,353.17 L116.29,353.27 L118.05,353.36 L119.81,353.45 L121.58,353.55 L123.34,353.64 L125.10,353.73 L126.86,353.83 L128.62,353.92 L130.39,354.01 L132.15,354.11 L133.91,354.20 L135.68,354.29 L137.44,354.39 L139.20,354.48 L140.96,354.58 L142.72,354.67 L144.49,354.76 L146.25,354.86 L148.01,354.95 L149.78,355.05 L151.54,355.15 L153.30,355.24 L155.06,355.34 L156.82,355.44 L158.59,355.54 L160.35,355.64 L162.11,355.74 L163.88,355.84 L165.64,355.94 L167.40,356.05 L169.16,356.15 L170.93,356.25 L172.69,356.36 L174.45,356.47 L176.21,356.57 L177.97,356.69 L179.74,356.80 L181.50,356.91 L183.26,357.03 L185.03,357.15 L186.79,357.27 L188.55,357.39 L190.31,357.51 L192.07,357.63 L193.84,357.75 L195.60,357.88 L197.36,358.00 L199.12,358.13 L200.89,358.25 L202.65,358.38 L204.41,358.50 L206.18,358.63 L207.94,358.75 L209.70,358.87 L211.46,359.00 L213.22,359.12 L214.99,359.24 L216.75,359.35 L218.51,359.47 L220.28,359.59 L222.04,359.70 L223.80,359.81 L225.56,359.92 L227.32,360.02 L229.09,360.13 L230.85,360.23 L232.61,360.33 L234.38,360.42 L236.14,360.52 L237.90,360.61 L239.66,360.70 L241.43,360.78 L243.19,360.87 L244.95,360.96 L246.71,361.04 L248.47,361.12 L250.24,361.20 L252.00,361.29 L253.76,361.37 L255.53,361.45 L257.29,361.53 L259.05,361.61 L260.81,361.69 L262.57,361.78 L264.34,361.86 L266.10,361.94 L267.86,362.03 L269.62,362.12 L271.39,362.21 L273.15,362.30 L274.91,362.39 L276.68,362.48 L278.44,362.58 L280.20,362.68 L281.96,362.78 L283.73,362.88 L285.49,362.98 L287.25,363.08 L289.01,363.18 L290.77,363.28 L292.54,363.39 L294.30,363.49 L296.06,363.60 L297.82,363.71 L299.59,363.81 L301.35,363.92 L303.11,364.03 L304.88,364.13 L306.64,364.24 L308.40,364.35 L310.16,364.46 L311.93,364.56 L313.69,364.67 L315.45,364.78 L317.21,364.88 L318.98,364.99 L320.74,365.10 L322.50,365.20" fill="none" stroke="#87871a" stroke-width="1.45" stroke-linecap="round" stroke-dasharray="0 2" clip-path="url(#cu2)"/>
<path d="M40.50,320.51 L42.26,321.14 L44.03,321.79 L45.79,322.45 L47.55,323.12 L49.31,323.80 L51.07,324.48 L52.84,325.16 L54.60,325.83 L56.36,326.51 L58.12,327.17 L59.89,327.83 L61.65,328.48 L63.41,329.11 L65.18,329.74 L66.94,330.35 L68.70,330.95 L70.46,331.54 L72.22,332.11 L73.99,332.67 L75.75,333.21 L77.51,333.74 L79.28,334.26 L81.04,334.76 L82.80,335.24 L84.56,335.72 L86.32,336.17 L88.09,336.62 L89.85,337.06 L91.61,337.48 L93.38,337.89 L95.14,338.29 L96.90,338.68 L98.66,339.06 L100.43,339.43 L102.19,339.79 L103.95,340.15 L105.71,340.50 L107.48,340.84 L109.24,341.17 L111.00,341.50 L112.76,341.83 L114.53,342.15 L116.29,342.46 L118.05,342.78 L119.81,343.09 L121.58,343.39 L123.34,343.70 L125.10,344.00 L126.86,344.30 L128.62,344.60 L130.39,344.90 L132.15,345.20 L133.91,345.49 L135.68,345.79 L137.44,346.09 L139.20,346.38 L140.96,346.68 L142.73,346.97 L144.49,347.26 L146.25,347.56 L148.01,347.85 L149.78,348.14 L151.54,348.43 L153.30,348.72 L155.06,349.01 L156.82,349.30 L158.59,349.58 L160.35,349.86 L162.11,350.14 L163.88,350.42 L165.64,350.69 L167.40,350.97 L169.16,351.23 L170.93,351.50 L172.69,351.76 L174.45,352.01 L176.21,352.26 L177.98,352.51 L179.74,352.74 L181.50,352.98 L183.26,353.21 L185.03,353.43 L186.79,353.64 L188.55,353.85 L190.31,354.05 L192.07,354.24 L193.84,354.43 L195.60,354.61 L197.36,354.78 L199.12,354.94 L200.89,355.10 L202.65,355.24 L204.41,355.38 L206.18,355.51 L207.94,355.64 L209.70,355.76 L211.46,355.87 L213.23,355.97 L214.99,356.06 L216.75,356.15 L218.51,356.23 L220.28,356.31 L222.04,356.38 L223.80,356.45 L225.56,356.51 L227.33,356.56 L229.09,356.62 L230.85,356.67 L232.61,356.71 L234.38,356.76 L236.14,356.80 L237.90,356.85 L239.66,356.89 L241.43,356.93 L243.19,356.98 L244.95,357.03 L246.71,357.08 L248.48,357.13 L250.24,357.19 L252.00,357.25 L253.76,357.32 L255.53,357.40 L257.29,357.48 L259.05,357.57 L260.81,357.67 L262.58,357.77 L264.34,357.89 L266.10,358.01 L267.86,358.15 L269.62,358.29 L271.39,358.45 L273.15,358.61 L274.91,358.78 L276.68,358.96 L278.44,359.16 L280.20,359.36 L281.96,359.56 L283.73,359.78 L285.49,360.00 L287.25,360.22 L289.01,360.45 L290.77,360.68 L292.54,360.91 L294.30,361.13 L296.06,361.35 L297.83,361.56 L299.59,361.76 L301.35,361.95 L303.11,362.11 L304.88,362.25 L306.64,362.36 L308.40,362.44 L310.16,362.48 L311.93,362.48 L313.69,362.42 L315.45,362.31 L317.21,362.12 L318.98,361.87 L320.74,361.53 L322.50,361.10" fill="none" stroke="#8e1a8e" stroke-width="1.1" stroke-linecap="butt" stroke-dasharray="3.1 1.5 0.9 1.5 0.9 1.5" clip-path="url(#cu2)"/>
<path d="M40.50,284.29 L42.26,286.08 L44.03,287.80 L45.79,289.46 L47.55,291.05 L49.31,292.59 L51.07,294.07 L52.84,295.50 L54.60,296.89 L56.36,298.23 L58.12,299.54 L59.89,300.81 L61.65,302.04 L63.41,303.25 L65.18,304.42 L66.94,305.56 L68.70,306.68 L70.46,307.78 L72.22,308.85 L73.99,309.90 L75.75,310.92 L77.51,311.93 L79.28,312.92 L81.04,313.90 L82.80,314.85 L84.56,315.79 L86.32,316.71 L88.09,317.62 L89.85,318.51 L91.61,319.39 L93.38,320.25 L95.14,321.09 L96.90,321.93 L98.66,322.75 L100.43,323.55 L102.19,324.34 L103.95,325.12 L105.71,325.89 L107.48,326.64 L109.24,327.37 L111.00,328.10 L112.76,328.81 L114.53,329.50 L116.29,330.18 L118.05,330.85 L119.81,331.51 L121.58,332.15 L123.34,332.78 L125.10,333.39 L126.86,334.00 L128.62,334.58 L130.39,335.16 L132.15,335.72 L133.91,336.27 L135.68,336.81 L137.44,337.33 L139.20,337.85 L140.96,338.35 L142.73,338.83 L144.49,339.31 L146.25,339.78 L148.01,340.23 L149.78,340.67 L151.54,341.11 L153.30,341.53 L155.06,341.94 L156.82,342.35 L158.59,342.74 L160.35,343.13 L162.11,343.50 L163.88,343.87 L165.64,344.23 L167.40,344.59 L169.16,344.94 L170.93,345.28 L172.69,345.61 L174.45,345.94 L176.21,346.26 L177.98,346.58 L179.74,346.90 L181.50,347.20 L183.26,347.51 L185.03,347.81 L186.79,348.11 L188.55,348.41 L190.31,348.70 L192.07,348.99 L193.84,349.27 L195.60,349.56 L197.36,349.84 L199.12,350.12 L200.89,350.40 L202.65,350.68 L204.41,350.96 L206.18,351.24 L207.94,351.51 L209.70,351.78 L211.46,352.05 L213.23,352.32 L214.99,352.59 L216.75,352.86 L218.51,353.12 L220.28,353.38 L222.04,353.64 L223.80,353.90 L225.56,354.16 L227.33,354.41 L229.09,354.66 L230.85,354.90 L232.61,355.14 L234.38,355.38 L236.14,355.61 L237.90,355.83 L239.66,356.05 L241.43,356.27 L243.19,356.47 L244.95,356.67 L246.71,356.86 L248.48,357.05 L250.24,357.22 L252.00,357.39 L253.76,357.55 L255.53,357.69 L257.29,357.83 L259.05,357.96 L260.81,358.07 L262.58,358.18 L264.34,358.27 L266.10,358.35 L267.86,358.42 L269.62,358.48 L271.39,358.53 L273.15,358.56 L274.91,358.59 L276.68,358.60 L278.44,358.61 L280.20,358.60 L281.96,358.59 L283.73,358.57 L285.49,358.54 L287.25,358.50 L289.01,358.46 L290.77,358.42 L292.54,358.38 L294.30,358.34 L296.06,358.31 L297.83,358.28 L299.59,358.26 L301.35,358.25 L303.11,358.26 L304.88,358.29 L306.64,358.34 L308.40,358.41 L310.16,358.53 L311.93,358.67 L313.69,358.87 L315.45,359.11 L317.21,359.40 L318.98,359.76 L320.74,360.19 L322.50,360.70" fill="none" stroke="#1f9696" stroke-width="1.05" stroke-linecap="butt" stroke-dasharray="3.6 3.4" clip-path="url(#cu2)"/>
<path d="M40.50,464.60 L42.26,464.61 L44.02,464.62 L45.79,464.63 L47.55,464.64 L49.31,464.66 L51.08,464.67 L52.84,464.68 L54.60,464.69 L56.36,464.70 L58.12,464.71 L59.89,464.72 L61.65,464.73 L63.41,464.74 L65.17,464.75 L66.94,464.76 L68.70,464.77 L70.46,464.78 L72.22,464.79 L73.99,464.81 L75.75,464.82 L77.51,464.83 L79.28,464.84 L81.04,464.85 L82.80,464.86 L84.56,464.87 L86.33,464.88 L88.09,464.89 L89.85,464.90 L91.61,464.91 L93.38,464.93 L95.14,464.94 L96.90,464.95 L98.66,464.96 L100.42,464.97 L102.19,464.99 L103.95,465.00 L105.71,465.01 L107.47,465.02 L109.24,465.04 L111.00,465.05 L112.76,465.06 L114.53,465.08 L116.29,465.09 L118.05,465.10 L119.81,465.12 L121.58,465.13 L123.34,465.15 L125.10,465.16 L126.86,465.18 L128.62,465.19 L130.39,465.21 L132.15,465.23 L133.91,465.24 L135.68,465.26 L137.44,465.28 L139.20,465.29 L140.96,465.31 L142.72,465.33 L144.49,465.35 L146.25,465.36 L148.01,465.38 L149.78,465.40 L151.54,465.42 L153.30,465.43 L155.06,465.45 L156.82,465.47 L158.59,465.49 L160.35,465.50 L162.11,465.52 L163.88,465.54 L165.64,465.56 L167.40,465.57 L169.16,465.59 L170.93,465.61 L172.69,465.63 L174.45,465.65 L176.21,465.67 L177.97,465.69 L179.74,465.71 L181.50,465.73 L183.26,465.74 L185.03,465.76 L186.79,465.78 L188.55,465.80 L190.31,465.82 L192.07,465.84 L193.84,465.86 L195.60,465.88 L197.36,465.90 L199.12,465.92 L200.89,465.94 L202.65,465.96 L204.41,465.98 L206.18,466.00 L207.94,466.01 L209.70,466.03 L211.46,466.05 L213.22,466.07 L214.99,466.09 L216.75,466.10 L218.51,466.12 L220.28,466.14 L222.04,466.15 L223.80,466.17 L225.56,466.19 L227.32,466.20 L229.09,466.22 L230.85,466.23 L232.61,466.25 L234.38,466.26 L236.14,466.27 L237.90,466.29 L239.66,466.30 L241.43,466.31 L243.19,466.32 L244.95,466.33 L246.71,466.34 L248.47,466.35 L250.24,466.36 L252.00,466.37 L253.76,466.38 L255.53,466.39 L257.29,466.40 L259.05,466.41 L260.81,466.41 L262.57,466.42 L264.34,466.43 L266.10,466.43 L267.86,466.44 L269.62,466.45 L271.39,466.45 L273.15,466.46 L274.91,466.46 L276.68,466.47 L278.44,466.47 L280.20,466.48 L281.96,466.48 L283.73,466.49 L285.49,466.49 L287.25,466.50 L289.01,466.50 L290.77,466.51 L292.54,466.51 L294.30,466.52 L296.06,466.52 L297.82,466.53 L299.59,466.53 L301.35,466.54 L303.11,466.54 L304.88,466.55 L306.64,466.55 L308.40,466.56 L310.16,466.56 L311.93,466.57 L313.69,466.57 L315.45,466.58 L317.21,466.58 L318.98,466.59 L320.74,466.59 L322.50,466.60" fill="none" stroke="#8796ff" stroke-width="1.15" stroke-linecap="butt" clip-path="url(#cl2)"/>
<path d="M40.50,436.51 L42.26,437.02 L44.03,437.53 L45.79,438.02 L47.55,438.51 L49.31,438.99 L51.07,439.46 L52.84,439.92 L54.60,440.38 L56.36,440.82 L58.12,441.27 L59.89,441.70 L61.65,442.12 L63.41,442.54 L65.18,442.96 L66.94,443.36 L68.70,443.76 L70.46,444.16 L72.22,444.54 L73.99,444.92 L75.75,445.30 L77.51,445.67 L79.28,446.03 L81.04,446.39 L82.80,446.74 L84.56,447.08 L86.32,447.42 L88.09,447.76 L89.85,448.09 L91.61,448.41 L93.38,448.73 L95.14,449.05 L96.90,449.35 L98.66,449.66 L100.43,449.96 L102.19,450.25 L103.95,450.55 L105.71,450.83 L107.48,451.11 L109.24,451.39 L111.00,451.66 L112.76,451.93 L114.53,452.20 L116.29,452.46 L118.05,452.71 L119.81,452.97 L121.58,453.21 L123.34,453.46 L125.10,453.70 L126.86,453.94 L128.62,454.17 L130.39,454.40 L132.15,454.63 L133.91,454.85 L135.68,455.07 L137.44,455.28 L139.20,455.49 L140.96,455.70 L142.73,455.91 L144.49,456.11 L146.25,456.31 L148.01,456.50 L149.78,456.70 L151.54,456.89 L153.30,457.07 L155.06,457.26 L156.82,457.44 L158.59,457.61 L160.35,457.79 L162.11,457.96 L163.88,458.13 L165.64,458.29 L167.40,458.45 L169.16,458.61 L170.93,458.77 L172.69,458.92 L174.45,459.07 L176.21,459.22 L177.98,459.37 L179.74,459.51 L181.50,459.65 L183.26,459.79 L185.03,459.92 L186.79,460.06 L188.55,460.19 L190.31,460.32 L192.07,460.44 L193.84,460.56 L195.60,460.68 L197.36,460.80 L199.12,460.92 L200.89,461.03 L202.65,461.14 L204.41,461.25 L206.18,461.36 L207.94,461.46 L209.70,461.56 L211.46,461.66 L213.23,461.76 L214.99,461.85 L216.75,461.95 L218.51,462.04 L220.28,462.13 L222.04,462.21 L223.80,462.30 L225.56,462.38 L227.33,462.46 L229.09,462.54 L230.85,462.62 L232.61,462.70 L234.38,462.77 L236.14,462.84 L237.90,462.91 L239.66,462.98 L241.43,463.05 L243.19,463.11 L244.95,463.18 L246.71,463.24 L248.48,463.30 L250.24,463.36 L252.00,463.42 L253.76,463.47 L255.53,463.53 L257.29,463.58 L259.05,463.64 L260.81,463.69 L262.58,463.74 L264.34,463.79 L266.10,463.84 L267.86,463.89 L269.62,463.93 L271.39,463.98 L273.15,464.03 L274.91,464.07 L276.68,464.12 L278.44,464.16 L280.20,464.20 L281.96,464.25 L283.73,464.29 L285.49,464.33 L287.25,464.37 L289.01,464.42 L290.77,464.46 L292.54,464.50 L294.30,464.55 L296.06,464.59 L297.83,464.63 L299.59,464.68 L301.35,464.72 L303.11,464.77 L304.88,464.82 L306.64,464.86 L308.40,464.91 L310.16,464.96 L311.93,465.01 L313.69,465.06 L315.45,465.12 L317.21,465.17 L318.98,465.23 L320.74,465.29 L322.50,465.35" fill="none" stroke="#8e1a8e" stroke-width="1.1" stroke-linecap="butt" stroke-dasharray="3.1 1.5 0.9 1.5 0.9 1.5" clip-path="url(#cl2)"/>
<path d="M40.50,411.14 L42.26,412.25 L44.03,413.33 L45.79,414.39 L47.55,415.43 L49.31,416.45 L51.07,417.45 L52.84,418.43 L54.60,419.39 L56.36,420.33 L58.12,421.26 L59.89,422.17 L61.65,423.06 L63.41,423.93 L65.18,424.79 L66.94,425.63 L68.70,426.45 L70.46,427.26 L72.22,428.05 L73.99,428.83 L75.75,429.59 L77.51,430.33 L79.28,431.06 L81.04,431.78 L82.80,432.48 L84.56,433.17 L86.32,433.85 L88.09,434.51 L89.85,435.16 L91.61,435.80 L93.38,436.42 L95.14,437.03 L96.90,437.63 L98.66,438.22 L100.43,438.80 L102.19,439.36 L103.95,439.92 L105.71,440.46 L107.48,440.99 L109.24,441.51 L111.00,442.02 L112.76,442.52 L114.53,443.01 L116.29,443.50 L118.05,443.97 L119.81,444.43 L121.58,444.88 L123.34,445.33 L125.10,445.76 L126.86,446.19 L128.62,446.61 L130.39,447.02 L132.15,447.42 L133.91,447.82 L135.68,448.20 L137.44,448.58 L139.20,448.95 L140.96,449.32 L142.73,449.68 L144.49,450.03 L146.25,450.37 L148.01,450.70 L149.78,451.03 L151.54,451.36 L153.30,451.67 L155.06,451.99 L156.82,452.29 L158.59,452.59 L160.35,452.88 L162.11,453.17 L163.88,453.45 L165.64,453.73 L167.40,454.00 L169.16,454.26 L170.93,454.52 L172.69,454.78 L174.45,455.03 L176.21,455.27 L177.98,455.52 L179.74,455.75 L181.50,455.98 L183.26,456.21 L185.03,456.43 L186.79,456.65 L188.55,456.87 L190.31,457.08 L192.07,457.28 L193.84,457.48 L195.60,457.68 L197.36,457.88 L199.12,458.07 L200.89,458.26 L202.65,458.44 L204.41,458.62 L206.18,458.80 L207.94,458.97 L209.70,459.14 L211.46,459.31 L213.23,459.47 L214.99,459.63 L216.75,459.79 L218.51,459.94 L220.28,460.09 L222.04,460.24 L223.80,460.39 L225.56,460.53 L227.33,460.67 L229.09,460.81 L230.85,460.94 L232.61,461.07 L234.38,461.20 L236.14,461.33 L237.90,461.45 L239.66,461.58 L241.43,461.70 L243.19,461.81 L244.95,461.93 L246.71,462.04 L248.48,462.15 L250.24,462.26 L252.00,462.37 L253.76,462.47 L255.53,462.57 L257.29,462.67 L259.05,462.77 L260.81,462.87 L262.58,462.96 L264.34,463.05 L266.10,463.14 L267.86,463.23 L269.62,463.32 L271.39,463.40 L273.15,463.49 L274.91,463.57 L276.68,463.65 L278.44,463.73 L280.20,463.80 L281.96,463.88 L283.73,463.95 L285.49,464.02 L287.25,464.09 L289.01,464.16 L290.77,464.23 L292.54,464.29 L294.30,464.36 L296.06,464.42 L297.83,464.48 L299.59,464.55 L301.35,464.60 L303.11,464.66 L304.88,464.72 L306.64,464.78 L308.40,464.83 L310.16,464.88 L311.93,464.94 L313.69,464.99 L315.45,465.04 L317.21,465.09 L318.98,465.14 L320.74,465.18 L322.50,465.23" fill="none" stroke="#1f9696" stroke-width="1.05" stroke-linecap="butt" stroke-dasharray="3.6 3.4" clip-path="url(#cl2)"/>
<line x1="117.00" y1="354.30" x2="117.00" y2="317.20" stroke="#ff6060" stroke-width="1.15" />
<line x1="114.70" y1="354.30" x2="119.30" y2="354.30" stroke="#ff6060" stroke-width="1.15" />
<line x1="114.70" y1="317.20" x2="119.30" y2="317.20" stroke="#ff6060" stroke-width="1.15" />
<circle cx="117.00" cy="336.00" r="1.75" fill="#ff0000"/>
<line x1="126.30" y1="370.30" x2="126.30" y2="350.40" stroke="#ff6060" stroke-width="1.15" />
<line x1="124.00" y1="370.30" x2="128.60" y2="370.30" stroke="#ff6060" stroke-width="1.15" />
<line x1="124.00" y1="350.40" x2="128.60" y2="350.40" stroke="#ff6060" stroke-width="1.15" />
<circle cx="126.30" cy="360.40" r="1.75" fill="#ff0000"/>
<line x1="131.30" y1="348.30" x2="131.30" y2="326.30" stroke="#ff6060" stroke-width="1.15" />
<line x1="129.00" y1="348.30" x2="133.60" y2="348.30" stroke="#ff6060" stroke-width="1.15" />
<line x1="129.00" y1="326.30" x2="133.60" y2="326.30" stroke="#ff6060" stroke-width="1.15" />
<circle cx="131.30" cy="337.20" r="1.75" fill="#ff0000"/>
<line x1="136.70" y1="365.30" x2="136.70" y2="343.40" stroke="#ff6060" stroke-width="1.15" />
<line x1="134.40" y1="365.30" x2="139.00" y2="365.30" stroke="#ff6060" stroke-width="1.15" />
<line x1="134.40" y1="343.40" x2="139.00" y2="343.40" stroke="#ff6060" stroke-width="1.15" />
<circle cx="136.70" cy="354.30" r="1.75" fill="#ff0000"/>
<line x1="148.60" y1="377.50" x2="148.60" y2="350.40" stroke="#ff6060" stroke-width="1.15" />
<line x1="146.30" y1="377.50" x2="150.90" y2="377.50" stroke="#ff6060" stroke-width="1.15" />
<line x1="146.30" y1="350.40" x2="150.90" y2="350.40" stroke="#ff6060" stroke-width="1.15" />
<circle cx="148.60" cy="364.00" r="1.75" fill="#ff0000"/>
<line x1="215.70" y1="385.00" x2="215.70" y2="345.40" stroke="#ff6060" stroke-width="1.15" />
<line x1="213.40" y1="385.00" x2="218.00" y2="385.00" stroke="#ff6060" stroke-width="1.15" />
<line x1="213.40" y1="345.40" x2="218.00" y2="345.40" stroke="#ff6060" stroke-width="1.15" />
<circle cx="215.70" cy="365.20" r="1.75" fill="#ff0000"/>
<line x1="129.90" y1="363.20" x2="129.90" y2="347.30" stroke="#6f88ff" stroke-width="1.15" />
<line x1="127.60" y1="363.20" x2="132.20" y2="363.20" stroke="#6f88ff" stroke-width="1.15" />
<line x1="127.60" y1="347.30" x2="132.20" y2="347.30" stroke="#6f88ff" stroke-width="1.15" />
<rect x="128.10" y="353.50" width="3.6" height="3.6" fill="#1040ff"/>
<line x1="138.30" y1="358.50" x2="138.30" y2="340.40" stroke="#6f88ff" stroke-width="1.15" />
<line x1="136.00" y1="358.50" x2="140.60" y2="358.50" stroke="#6f88ff" stroke-width="1.15" />
<line x1="136.00" y1="340.40" x2="140.60" y2="340.40" stroke="#6f88ff" stroke-width="1.15" />
<rect x="136.50" y="347.60" width="3.6" height="3.6" fill="#1040ff"/>
<line x1="149.70" y1="362.20" x2="149.70" y2="335.50" stroke="#6f88ff" stroke-width="1.15" />
<line x1="147.40" y1="362.20" x2="152.00" y2="362.20" stroke="#6f88ff" stroke-width="1.15" />
<line x1="147.40" y1="335.50" x2="152.00" y2="335.50" stroke="#6f88ff" stroke-width="1.15" />
<rect x="147.90" y="346.90" width="3.6" height="3.6" fill="#1040ff"/>
<rect x="199.5" y="275.4" width="113.5" height="43.5" fill="#fff"/>
<rect x="58.7" y="369.2" width="68" height="15" fill="#fff"/>
<rect x="186.5" y="401.4" width="118.5" height="45" fill="#fff"/>
<line x1="40.50" y1="367.73" x2="47.80" y2="367.73" stroke="#1a1a1a" stroke-width="1.1" />
<line x1="322.50" y1="367.73" x2="315.20" y2="367.73" stroke="#1a1a1a" stroke-width="1.1" />
<line x1="40.50" y1="339.51" x2="47.80" y2="339.51" stroke="#1a1a1a" stroke-width="1.1" />
<line x1="322.50" y1="339.51" x2="315.20" y2="339.51" stroke="#1a1a1a" stroke-width="1.1" />
<line x1="40.50" y1="311.29" x2="47.80" y2="311.29" stroke="#1a1a1a" stroke-width="1.1" />
<line x1="322.50" y1="311.29" x2="315.20" y2="311.29" stroke="#1a1a1a" stroke-width="1.1" />
<line x1="40.50" y1="283.07" x2="47.80" y2="283.07" stroke="#1a1a1a" stroke-width="1.1" />
<line x1="322.50" y1="283.07" x2="315.20" y2="283.07" stroke="#1a1a1a" stroke-width="1.1" />
<line x1="40.50" y1="381.84" x2="42.80" y2="381.84" stroke="#1a1a1a" stroke-width="1" />
<line x1="322.50" y1="381.84" x2="320.20" y2="381.84" stroke="#1a1a1a" stroke-width="1" />
<line x1="40.50" y1="353.62" x2="42.80" y2="353.62" stroke="#1a1a1a" stroke-width="1" />
<line x1="322.50" y1="353.62" x2="320.20" y2="353.62" stroke="#1a1a1a" stroke-width="1" />
<line x1="40.50" y1="325.40" x2="42.80" y2="325.40" stroke="#1a1a1a" stroke-width="1" />
<line x1="322.50" y1="325.40" x2="320.20" y2="325.40" stroke="#1a1a1a" stroke-width="1" />
<line x1="40.50" y1="297.18" x2="42.80" y2="297.18" stroke="#1a1a1a" stroke-width="1" />
<line x1="322.50" y1="297.18" x2="320.20" y2="297.18" stroke="#1a1a1a" stroke-width="1" />
<line x1="40.50" y1="268.96" x2="42.80" y2="268.96" stroke="#1a1a1a" stroke-width="1" />
<line x1="322.50" y1="268.96" x2="320.20" y2="268.96" stroke="#1a1a1a" stroke-width="1" />
<line x1="134.50" y1="261.90" x2="134.50" y2="269.30" stroke="#1a1a1a" stroke-width="1" />
<line x1="134.50" y1="389.40" x2="134.50" y2="382.00" stroke="#1a1a1a" stroke-width="1" />
<line x1="228.50" y1="261.90" x2="228.50" y2="269.30" stroke="#1a1a1a" stroke-width="1" />
<line x1="228.50" y1="389.40" x2="228.50" y2="382.00" stroke="#1a1a1a" stroke-width="1" />
<line x1="77.50" y1="261.90" x2="77.50" y2="264.30" stroke="#1a1a1a" stroke-width="1" />
<line x1="77.50" y1="389.40" x2="77.50" y2="387.00" stroke="#1a1a1a" stroke-width="1" />
<line x1="97.50" y1="261.90" x2="97.50" y2="264.30" stroke="#1a1a1a" stroke-width="1" />
<line x1="97.50" y1="389.40" x2="97.50" y2="387.00" stroke="#1a1a1a" stroke-width="1" />
<line x1="110.50" y1="261.90" x2="110.50" y2="264.30" stroke="#1a1a1a" stroke-width="1" />
<line x1="110.50" y1="389.40" x2="110.50" y2="387.00" stroke="#1a1a1a" stroke-width="1" />
<line x1="119.50" y1="261.90" x2="119.50" y2="264.30" stroke="#1a1a1a" stroke-width="1" />
<line x1="119.50" y1="389.40" x2="119.50" y2="387.00" stroke="#1a1a1a" stroke-width="1" />
<line x1="127.50" y1="261.90" x2="127.50" y2="264.30" stroke="#1a1a1a" stroke-width="1" />
<line x1="127.50" y1="389.40" x2="127.50" y2="387.00" stroke="#1a1a1a" stroke-width="1" />
<line x1="171.50" y1="261.90" x2="171.50" y2="264.30" stroke="#1a1a1a" stroke-width="1" />
<line x1="171.50" y1="389.40" x2="171.50" y2="387.00" stroke="#1a1a1a" stroke-width="1" />
<line x1="191.50" y1="261.90" x2="191.50" y2="264.30" stroke="#1a1a1a" stroke-width="1" />
<line x1="191.50" y1="389.40" x2="191.50" y2="387.00" stroke="#1a1a1a" stroke-width="1" />
<line x1="204.50" y1="261.90" x2="204.50" y2="264.30" stroke="#1a1a1a" stroke-width="1" />
<line x1="204.50" y1="389.40" x2="204.50" y2="387.00" stroke="#1a1a1a" stroke-width="1" />
<line x1="213.50" y1="261.90" x2="213.50" y2="264.30" stroke="#1a1a1a" stroke-width="1" />
<line x1="213.50" y1="389.40" x2="213.50" y2="387.00" stroke="#1a1a1a" stroke-width="1" />
<line x1="221.50" y1="261.90" x2="221.50" y2="264.30" stroke="#1a1a1a" stroke-width="1" />
<line x1="221.50" y1="389.40" x2="221.50" y2="387.00" stroke="#1a1a1a" stroke-width="1" />
<line x1="265.50" y1="261.90" x2="265.50" y2="264.30" stroke="#1a1a1a" stroke-width="1" />
<line x1="265.50" y1="389.40" x2="265.50" y2="387.00" stroke="#1a1a1a" stroke-width="1" />
<line x1="285.50" y1="261.90" x2="285.50" y2="264.30" stroke="#1a1a1a" stroke-width="1" />
<line x1="285.50" y1="389.40" x2="285.50" y2="387.00" stroke="#1a1a1a" stroke-width="1" />
<line x1="298.50" y1="261.90" x2="298.50" y2="264.30" stroke="#1a1a1a" stroke-width="1" />
<line x1="298.50" y1="389.40" x2="298.50" y2="387.00" stroke="#1a1a1a" stroke-width="1" />
<line x1="307.50" y1="261.90" x2="307.50" y2="264.30" stroke="#1a1a1a" stroke-width="1" />
<line x1="307.50" y1="389.40" x2="307.50" y2="387.00" stroke="#1a1a1a" stroke-width="1" />
<line x1="315.50" y1="261.90" x2="315.50" y2="264.30" stroke="#1a1a1a" stroke-width="1" />
<line x1="315.50" y1="389.40" x2="315.50" y2="387.00" stroke="#1a1a1a" stroke-width="1" />
<line x1="40.00" y1="261.90" x2="323.00" y2="261.90" stroke="#1a1a1a" stroke-width="1.0" />
<line x1="40.00" y1="389.40" x2="323.00" y2="389.40" stroke="#1a1a1a" stroke-width="1.0" />
<line x1="40.50" y1="261.90" x2="40.50" y2="389.40" stroke="#1a1a1a" stroke-width="1" />
<line x1="322.50" y1="261.90" x2="322.50" y2="389.40" stroke="#1a1a1a" stroke-width="1" />
<line x1="40.50" y1="465.10" x2="45.90" y2="465.10" stroke="#1a1a1a" stroke-width="1.1" />
<line x1="322.50" y1="465.10" x2="317.10" y2="465.10" stroke="#1a1a1a" stroke-width="1.1" />
<line x1="40.50" y1="449.95" x2="45.90" y2="449.95" stroke="#1a1a1a" stroke-width="1.1" />
<line x1="322.50" y1="449.95" x2="317.10" y2="449.95" stroke="#1a1a1a" stroke-width="1.1" />
<line x1="40.50" y1="434.80" x2="45.90" y2="434.80" stroke="#1a1a1a" stroke-width="1.1" />
<line x1="322.50" y1="434.80" x2="317.10" y2="434.80" stroke="#1a1a1a" stroke-width="1.1" />
<line x1="40.50" y1="419.65" x2="45.90" y2="419.65" stroke="#1a1a1a" stroke-width="1.1" />
<line x1="322.50" y1="419.65" x2="317.10" y2="419.65" stroke="#1a1a1a" stroke-width="1.1" />
<line x1="40.50" y1="404.50" x2="45.90" y2="404.50" stroke="#1a1a1a" stroke-width="1.1" />
<line x1="322.50" y1="404.50" x2="317.10" y2="404.50" stroke="#1a1a1a" stroke-width="1.1" />
<line x1="134.50" y1="394.50" x2="134.50" y2="402.00" stroke="#1a1a1a" stroke-width="1" />
<line x1="134.50" y1="475.40" x2="134.50" y2="467.90" stroke="#1a1a1a" stroke-width="1" />
<line x1="228.50" y1="394.50" x2="228.50" y2="402.00" stroke="#1a1a1a" stroke-width="1" />
<line x1="228.50" y1="475.40" x2="228.50" y2="467.90" stroke="#1a1a1a" stroke-width="1" />
<line x1="77.50" y1="394.50" x2="77.50" y2="398.30" stroke="#1a1a1a" stroke-width="1" />
<line x1="77.50" y1="475.40" x2="77.50" y2="471.60" stroke="#1a1a1a" stroke-width="1" />
<line x1="97.50" y1="394.50" x2="97.50" y2="398.30" stroke="#1a1a1a" stroke-width="1" />
<line x1="97.50" y1="475.40" x2="97.50" y2="471.60" stroke="#1a1a1a" stroke-width="1" />
<line x1="110.50" y1="394.50" x2="110.50" y2="398.30" stroke="#1a1a1a" stroke-width="1" />
<line x1="110.50" y1="475.40" x2="110.50" y2="471.60" stroke="#1a1a1a" stroke-width="1" />
<line x1="119.50" y1="394.50" x2="119.50" y2="398.30" stroke="#1a1a1a" stroke-width="1" />
<line x1="119.50" y1="475.40" x2="119.50" y2="471.60" stroke="#1a1a1a" stroke-width="1" />
<line x1="127.50" y1="394.50" x2="127.50" y2="398.30" stroke="#1a1a1a" stroke-width="1" />
<line x1="127.50" y1="475.40" x2="127.50" y2="471.60" stroke="#1a1a1a" stroke-width="1" />
<line x1="171.50" y1="394.50" x2="171.50" y2="398.30" stroke="#1a1a1a" stroke-width="1" />
<line x1="171.50" y1="475.40" x2="171.50" y2="471.60" stroke="#1a1a1a" stroke-width="1" />
<line x1="191.50" y1="394.50" x2="191.50" y2="398.30" stroke="#1a1a1a" stroke-width="1" />
<line x1="191.50" y1="475.40" x2="191.50" y2="471.60" stroke="#1a1a1a" stroke-width="1" />
<line x1="204.50" y1="394.50" x2="204.50" y2="398.30" stroke="#1a1a1a" stroke-width="1" />
<line x1="204.50" y1="475.40" x2="204.50" y2="471.60" stroke="#1a1a1a" stroke-width="1" />
<line x1="213.50" y1="394.50" x2="213.50" y2="398.30" stroke="#1a1a1a" stroke-width="1" />
<line x1="213.50" y1="475.40" x2="213.50" y2="471.60" stroke="#1a1a1a" stroke-width="1" />
<line x1="221.50" y1="394.50" x2="221.50" y2="398.30" stroke="#1a1a1a" stroke-width="1" />
<line x1="221.50" y1="475.40" x2="221.50" y2="471.60" stroke="#1a1a1a" stroke-width="1" />
<line x1="265.50" y1="394.50" x2="265.50" y2="398.30" stroke="#1a1a1a" stroke-width="1" />
<line x1="265.50" y1="475.40" x2="265.50" y2="471.60" stroke="#1a1a1a" stroke-width="1" />
<line x1="285.50" y1="394.50" x2="285.50" y2="398.30" stroke="#1a1a1a" stroke-width="1" />
<line x1="285.50" y1="475.40" x2="285.50" y2="471.60" stroke="#1a1a1a" stroke-width="1" />
<line x1="298.50" y1="394.50" x2="298.50" y2="398.30" stroke="#1a1a1a" stroke-width="1" />
<line x1="298.50" y1="475.40" x2="298.50" y2="471.60" stroke="#1a1a1a" stroke-width="1" />
<line x1="307.50" y1="394.50" x2="307.50" y2="398.30" stroke="#1a1a1a" stroke-width="1" />
<line x1="307.50" y1="475.40" x2="307.50" y2="471.60" stroke="#1a1a1a" stroke-width="1" />
<line x1="315.50" y1="394.50" x2="315.50" y2="398.30" stroke="#1a1a1a" stroke-width="1" />
<line x1="315.50" y1="475.40" x2="315.50" y2="471.60" stroke="#1a1a1a" stroke-width="1" />
<line x1="40.00" y1="394.50" x2="323.00" y2="394.50" stroke="#222" stroke-width="1.1" />
<line x1="40.00" y1="475.40" x2="323.00" y2="475.40" stroke="#1a1a1a" stroke-width="1.0" />
<line x1="40.50" y1="394.50" x2="40.50" y2="475.40" stroke="#1a1a1a" stroke-width="1" />
<line x1="322.50" y1="394.50" x2="322.50" y2="475.40" stroke="#1a1a1a" stroke-width="1" />
<text x="22.50" y="370.83" font-size="10">0.0</text>
<text x="22.50" y="342.61" font-size="10">0.4</text>
<text x="22.50" y="314.39" font-size="10">0.8</text>
<path class="g1" d="M763 0H583V1147Q518 1085 412.5 1023T223 930V1104Q374 1175 487 1276T647 1472H763Z" transform="translate(22.50,286.17) scale(0.004883,-0.004883)"/>
<text x="28.06" y="286.17" font-size="10">.2</text>
<text x="22.29" y="468.40" font-size="9">0.</text>
<path class="g1" d="M763 0H583V1147Q518 1085 412.5 1023T223 930V1104Q374 1175 487 1276T647 1472H763Z" transform="translate(29.79,468.40) scale(0.004395,-0.004395)"/>
<text x="22.29" y="453.25" font-size="9">0.4</text>
<text x="22.29" y="438.10" font-size="9">0.7</text>
<path class="g1" d="M763 0H583V1147Q518 1085 412.5 1023T223 930V1104Q374 1175 487 1276T647 1472H763Z" transform="translate(22.29,422.95) scale(0.004395,-0.004395)"/>
<text x="27.29" y="422.95" font-size="9">.0</text>
<path class="g1" d="M763 0H583V1147Q518 1085 412.5 1023T223 930V1104Q374 1175 487 1276T647 1472H763Z" transform="translate(22.29,407.80) scale(0.004395,-0.004395)"/>
<text x="27.29" y="407.80" font-size="9">.3</text>
<path class="g1" d="M763 0H583V1147Q518 1085 412.5 1023T223 930V1104Q374 1175 487 1276T647 1472H763Z" transform="translate(32.59,488.35) scale(0.004541,-0.004541)"/>
<text x="37.76" y="488.35" font-size="9.3">0</text>
<text x="42.83" y="484.80" font-size="6.2">-4</text>
<path class="g1" d="M763 0H583V1147Q518 1085 412.5 1023T223 930V1104Q374 1175 487 1276T647 1472H763Z" transform="translate(126.79,488.35) scale(0.004541,-0.004541)"/>
<text x="131.96" y="488.35" font-size="9.3">0</text>
<text x="137.03" y="484.80" font-size="6.2">-3</text>
<path class="g1" d="M763 0H583V1147Q518 1085 412.5 1023T223 930V1104Q374 1175 487 1276T647 1472H763Z" transform="translate(220.99,488.35) scale(0.004541,-0.004541)"/>
<text x="226.16" y="488.35" font-size="9.3">0</text>
<text x="231.23" y="484.80" font-size="6.2">-2</text>
<path class="g1" d="M763 0H583V1147Q518 1085 412.5 1023T223 930V1104Q374 1175 487 1276T647 1472H763Z" transform="translate(315.19,488.35) scale(0.004541,-0.004541)"/>
<text x="320.36" y="488.35" font-size="9.3">0</text>
<text x="325.43" y="484.80" font-size="6.2">-</text>
<path class="g1" d="M763 0H583V1147Q518 1085 412.5 1023T223 930V1104Q374 1175 487 1276T647 1472H763Z" transform="translate(327.50,484.80) scale(0.003027,-0.003027)"/>
<text x="181.50" y="502.00" font-size="10" text-anchor="middle" >x</text>
<g transform="translate(11.3,341.7) rotate(-90) scale(1.04,1)"><text x="0" y="0" font-size="12">F<tspan font-size="8.5" dy="2.6">L</tspan><tspan dy="-2.6">(x,Q</tspan><tspan font-size="8.5" dy="-4.6">2</tspan><tspan dy="4.6">)</tspan></text></g>
<g transform="translate(11.0,445.5) rotate(-90)"><text x="0" y="0" font-size="12">F<tspan font-size="8.5" dy="3">L</tspan></text><text x="11.6" y="-4.0" font-size="8" font-style="italic">i</text></g>
<g transform="translate(72.10,282.90) scale(1.07,1)"><text x="0" y="0" font-size="10">Q</text></g>
<g transform="translate(80.42,278.70) scale(1.07,1)"><text x="0" y="0" font-size="7">2</text></g>
<g transform="translate(87.56,282.90) scale(1.07,1)"><text x="0" y="0" font-size="10">= 35 GeV</text></g>
<g transform="translate(133.07,278.70) scale(1.07,1)"><text x="0" y="0" font-size="7">2</text></g>
<line x1="203.7" y1="281.29999999999995" x2="214.9" y2="281.29999999999995" stroke="#1f9696" stroke-width="1.05" stroke-linecap="butt" stroke-dasharray="3.6 3.4"/>
<line x1="203.7" y1="292.0" x2="214.9" y2="292.0" stroke="#8e1a8e" stroke-width="1.1" stroke-linecap="butt" stroke-dasharray="3.1 1.5 0.9 1.5 0.9 1.5"/>
<text x="220.60" y="284.30" font-size="8">MD-BFKL, R = 5 GeV</text>
<text x="297.73" y="281.60" font-size="5.6">-</text>
<path class="g1" d="M763 0H583V1147Q518 1085 412.5 1023T223 930V1104Q374 1175 487 1276T647 1472H763Z" transform="translate(299.60,281.60) scale(0.002734,-0.002734)"/>
<text x="220.60" y="294.90" font-size="8">MD-BFKL, R = 2 GeV</text>
<text x="297.73" y="292.20" font-size="5.6">-</text>
<path class="g1" d="M763 0H583V1147Q518 1085 412.5 1023T223 930V1104Q374 1175 487 1276T647 1472H763Z" transform="translate(299.60,292.20) scale(0.002734,-0.002734)"/>
<text x="201.00" y="305.20" font-size="8">HERA data</text>
<rect x="208.60" y="310.50" width="2.8" height="2.8" fill="#ff0000"/>
<rect x="258.20" y="310.50" width="2.8" height="2.8" fill="#1040ff"/>
<text x="220.80" y="314.70" font-size="8">H</text>
<path class="g1" d="M763 0H583V1147Q518 1085 412.5 1023T223 930V1104Q374 1175 487 1276T647 1472H763Z" transform="translate(226.58,314.70) scale(0.003906,-0.003906)"/>
<text x="233.25" y="314.70" font-size="8">20</text>
<path class="g1" d="M763 0H583V1147Q518 1085 412.5 1023T223 930V1104Q374 1175 487 1276T647 1472H763Z" transform="translate(242.15,314.70) scale(0.003906,-0.003906)"/>
<text x="246.60" y="314.70" font-size="8">4</text>
<text x="270.50" y="314.70" font-size="8">ZEUS 2009</text>
<line x1="60.3" y1="375.29999999999995" x2="71.1" y2="375.29999999999995" stroke="#87871a" stroke-width="1.45" stroke-linecap="round" stroke-dasharray="0 2"/>
<text x="77.20" y="378.00" font-size="8">PDF4LHC </text>
<path class="g1" d="M763 0H583V1147Q518 1085 412.5 1023T223 930V1104Q374 1175 487 1276T647 1472H763Z" transform="translate(115.88,378.00) scale(0.003906,-0.003906)"/>
<text x="120.33" y="378.00" font-size="8">5</text>
<line x1="194.1" y1="411.7" x2="205.1" y2="411.7" stroke="#aab4ff" stroke-width="1.9" stroke-linecap="butt"/>
<line x1="194.1" y1="425.0" x2="205.1" y2="425.0" stroke="#1f9696" stroke-width="1.05" stroke-linecap="butt" stroke-dasharray="3.6 3.4"/>
<line x1="194.1" y1="438.5" x2="205.1" y2="438.5" stroke="#8e1a8e" stroke-width="1.1" stroke-linecap="butt" stroke-dasharray="3.1 1.5 0.9 1.5 0.9 1.5"/>
<text x="211.80" y="415.00" font-size="8.8" text-anchor="start" >F</text>
<text x="216.90" y="417.30" font-size="6" text-anchor="start" >L</text>
<text x="220.80" y="411.70" font-size="6.0" text-anchor="start" >npert.</text>
<text x="211.80" y="428.20" font-size="8.8" text-anchor="start" >F</text>
<text x="216.90" y="430.50" font-size="6" text-anchor="start" >L</text>
<text x="220.80" y="424.90" font-size="6.0" text-anchor="start" >pert.+npert.</text>
<text x="251.20" y="428.20" font-size="8.8">, R = 5 GeV</text>
<text x="297.50" y="424.60" font-size="5.6">-</text>
<path class="g1" d="M763 0H583V1147Q518 1085 412.5 1023T223 930V1104Q374 1175 487 1276T647 1472H763Z" transform="translate(299.36,424.60) scale(0.002734,-0.002734)"/>
<text x="211.80" y="441.40" font-size="8.8" text-anchor="start" >F</text>
<text x="216.90" y="443.70" font-size="6" text-anchor="start" >L</text>
<text x="220.80" y="438.10" font-size="6.0" text-anchor="start" >pert.+npert.</text>
<text x="251.20" y="441.40" font-size="8.8">, R = 2 GeV</text>
<text x="297.50" y="437.80" font-size="5.6">-</text>
<path class="g1" d="M763 0H583V1147Q518 1085 412.5 1023T223 930V1104Q374 1175 487 1276T647 1472H763Z" transform="translate(299.36,437.80) scale(0.002734,-0.002734)"/>
<line x1="396.30" y1="383.13" x2="678.30" y2="383.13" stroke="#e8e8e8" stroke-width="1" />
<line x1="396.30" y1="371.58" x2="678.30" y2="371.58" stroke="#e8e8e8" stroke-width="1" />
<line x1="396.30" y1="360.04" x2="678.30" y2="360.04" stroke="#e8e8e8" stroke-width="1" />
<line x1="396.30" y1="348.49" x2="678.30" y2="348.49" stroke="#e8e8e8" stroke-width="1" />
<line x1="396.30" y1="336.95" x2="678.30" y2="336.95" stroke="#e8e8e8" stroke-width="1" />
<line x1="396.30" y1="325.40" x2="678.30" y2="325.40" stroke="#e8e8e8" stroke-width="1" />
<line x1="396.30" y1="313.85" x2="678.30" y2="313.85" stroke="#e8e8e8" stroke-width="1" />
<line x1="396.30" y1="302.31" x2="678.30" y2="302.31" stroke="#e8e8e8" stroke-width="1" />
<line x1="396.30" y1="290.76" x2="678.30" y2="290.76" stroke="#e8e8e8" stroke-width="1" />
<line x1="396.30" y1="279.22" x2="678.30" y2="279.22" stroke="#e8e8e8" stroke-width="1" />
<line x1="396.30" y1="267.67" x2="678.30" y2="267.67" stroke="#e8e8e8" stroke-width="1" />
<line x1="490.50" y1="261.90" x2="490.50" y2="388.90" stroke="#e8e8e8" stroke-width="1" />
<line x1="584.50" y1="261.90" x2="584.50" y2="388.90" stroke="#e8e8e8" stroke-width="1" />
<line x1="396.30" y1="466.22" x2="678.30" y2="466.22" stroke="#e8e8e8" stroke-width="1" />
<line x1="396.30" y1="452.76" x2="678.30" y2="452.76" stroke="#e8e8e8" stroke-width="1" />
<line x1="396.30" y1="439.29" x2="678.30" y2="439.29" stroke="#e8e8e8" stroke-width="1" />
<line x1="396.30" y1="425.82" x2="678.30" y2="425.82" stroke="#e8e8e8" stroke-width="1" />
<line x1="396.30" y1="412.36" x2="678.30" y2="412.36" stroke="#e8e8e8" stroke-width="1" />
<line x1="396.30" y1="398.89" x2="678.30" y2="398.89" stroke="#e8e8e8" stroke-width="1" />
<line x1="490.50" y1="394.60" x2="490.50" y2="475.40" stroke="#e8e8e8" stroke-width="1" />
<line x1="584.50" y1="394.60" x2="584.50" y2="475.40" stroke="#e8e8e8" stroke-width="1" />
<path d="M396.30,356.60 L398.06,356.70 L399.82,356.80 L401.59,356.91 L403.35,357.01 L405.11,357.11 L406.88,357.22 L408.64,357.32 L410.40,357.43 L412.16,357.53 L413.93,357.64 L415.69,357.75 L417.45,357.85 L419.21,357.96 L420.98,358.07 L422.74,358.17 L424.50,358.28 L426.26,358.39 L428.02,358.50 L429.79,358.60 L431.55,358.71 L433.31,358.81 L435.07,358.92 L436.84,359.02 L438.60,359.13 L440.36,359.23 L442.12,359.33 L443.89,359.43 L445.65,359.53 L447.41,359.63 L449.18,359.73 L450.94,359.83 L452.70,359.93 L454.46,360.02 L456.23,360.12 L457.99,360.21 L459.75,360.30 L461.51,360.39 L463.27,360.48 L465.04,360.57 L466.80,360.65 L468.56,360.73 L470.32,360.81 L472.09,360.89 L473.85,360.97 L475.61,361.04 L477.38,361.11 L479.14,361.17 L480.90,361.24 L482.66,361.30 L484.42,361.36 L486.19,361.41 L487.95,361.47 L489.71,361.52 L491.48,361.58 L493.24,361.63 L495.00,361.68 L496.76,361.73 L498.52,361.78 L500.29,361.84 L502.05,361.89 L503.81,361.94 L505.57,361.99 L507.34,362.05 L509.10,362.10 L510.86,362.16 L512.62,362.22 L514.39,362.28 L516.15,362.34 L517.91,362.41 L519.67,362.48 L521.44,362.55 L523.20,362.62 L524.96,362.70 L526.73,362.78 L528.49,362.87 L530.25,362.96 L532.01,363.06 L533.77,363.16 L535.54,363.26 L537.30,363.37 L539.06,363.47 L540.83,363.58 L542.59,363.68 L544.35,363.78 L546.11,363.88 L547.88,363.97 L549.64,364.06 L551.40,364.15 L553.16,364.24 L554.92,364.32 L556.69,364.41 L558.45,364.49 L560.21,364.57 L561.98,364.65 L563.74,364.73 L565.50,364.81 L567.26,364.89 L569.02,364.98 L570.79,365.06 L572.55,365.14 L574.31,365.22 L576.07,365.31 L577.84,365.40 L579.60,365.48 L581.36,365.57 L583.12,365.65 L584.89,365.74 L586.65,365.82 L588.41,365.91 L590.17,365.99 L591.94,366.06 L593.70,366.14 L595.46,366.21 L597.22,366.29 L598.99,366.36 L600.75,366.42 L602.51,366.49 L604.27,366.56 L606.04,366.62 L607.80,366.69 L609.56,366.75 L611.32,366.81 L613.09,366.87 L614.85,366.93 L616.61,366.99 L618.38,367.05 L620.14,367.11 L621.90,367.17 L623.66,367.23 L625.42,367.29 L627.19,367.35 L628.95,367.41 L630.71,367.47 L632.47,367.53 L634.24,367.59 L636.00,367.65 L637.76,367.72 L639.52,367.78 L641.29,367.85 L643.05,367.91 L644.81,367.98 L646.57,368.05 L648.34,368.12 L650.10,368.19 L651.86,368.25 L653.62,368.32 L655.39,368.39 L657.15,368.46 L658.91,368.53 L660.67,368.60 L662.44,368.67 L664.20,368.74 L665.96,368.81 L667.72,368.88 L669.49,368.95 L671.25,369.02 L673.01,369.09 L674.77,369.16 L676.54,369.23 L678.30,369.30" fill="none" stroke="#87871a" stroke-width="1.45" stroke-linecap="round" stroke-dasharray="0 2" clip-path="url(#cu3)"/>
<path d="M396.30,316.79 L398.06,317.60 L399.82,318.40 L401.59,319.20 L403.35,319.99 L405.11,320.78 L406.88,321.56 L408.64,322.33 L410.40,323.10 L412.16,323.86 L413.93,324.61 L415.69,325.35 L417.45,326.09 L419.21,326.82 L420.98,327.53 L422.74,328.24 L424.50,328.94 L426.26,329.63 L428.02,330.31 L429.79,330.98 L431.55,331.64 L433.31,332.29 L435.07,332.93 L436.84,333.56 L438.60,334.18 L440.36,334.79 L442.12,335.40 L443.89,335.99 L445.65,336.57 L447.41,337.14 L449.18,337.70 L450.94,338.25 L452.70,338.79 L454.46,339.32 L456.23,339.84 L457.99,340.35 L459.75,340.85 L461.51,341.35 L463.27,341.83 L465.04,342.30 L466.80,342.77 L468.56,343.23 L470.32,343.67 L472.09,344.11 L473.85,344.54 L475.61,344.97 L477.38,345.38 L479.14,345.79 L480.90,346.19 L482.66,346.58 L484.43,346.96 L486.19,347.34 L487.95,347.71 L489.71,348.07 L491.48,348.43 L493.24,348.78 L495.00,349.12 L496.76,349.46 L498.52,349.79 L500.29,350.12 L502.05,350.43 L503.81,350.75 L505.57,351.06 L507.34,351.36 L509.10,351.65 L510.86,351.95 L512.62,352.23 L514.39,352.52 L516.15,352.79 L517.91,353.07 L519.67,353.34 L521.44,353.60 L523.20,353.86 L524.96,354.11 L526.73,354.37 L528.49,354.61 L530.25,354.86 L532.01,355.10 L533.77,355.33 L535.54,355.57 L537.30,355.79 L539.06,356.02 L540.83,356.24 L542.59,356.46 L544.35,356.67 L546.11,356.89 L547.88,357.09 L549.64,357.30 L551.40,357.50 L553.16,357.70 L554.92,357.89 L556.69,358.09 L558.45,358.27 L560.21,358.46 L561.98,358.64 L563.74,358.82 L565.50,359.00 L567.26,359.17 L569.02,359.34 L570.79,359.51 L572.55,359.67 L574.31,359.83 L576.08,359.98 L577.84,360.14 L579.60,360.29 L581.36,360.43 L583.12,360.58 L584.89,360.72 L586.65,360.85 L588.41,360.98 L590.17,361.11 L591.94,361.24 L593.70,361.36 L595.46,361.48 L597.22,361.60 L598.99,361.71 L600.75,361.82 L602.51,361.92 L604.27,362.02 L606.04,362.12 L607.80,362.22 L609.56,362.31 L611.33,362.40 L613.09,362.48 L614.85,362.56 L616.61,362.64 L618.38,362.72 L620.14,362.79 L621.90,362.86 L623.66,362.93 L625.42,362.99 L627.19,363.05 L628.95,363.11 L630.71,363.17 L632.47,363.23 L634.24,363.28 L636.00,363.34 L637.76,363.39 L639.52,363.44 L641.29,363.49 L643.05,363.54 L644.81,363.59 L646.58,363.64 L648.34,363.69 L650.10,363.75 L651.86,363.80 L653.62,363.86 L655.39,363.92 L657.15,363.98 L658.91,364.05 L660.67,364.12 L662.44,364.19 L664.20,364.27 L665.96,364.36 L667.72,364.45 L669.49,364.55 L671.25,364.66 L673.01,364.78 L674.77,364.91 L676.54,365.05 L678.30,365.21" fill="none" stroke="#8e1a8e" stroke-width="1.1" stroke-linecap="butt" stroke-dasharray="3.1 1.5 0.9 1.5 0.9 1.5" clip-path="url(#cu3)"/>
<path d="M396.30,286.69 L398.06,288.26 L399.82,289.81 L401.59,291.32 L403.35,292.81 L405.11,294.28 L406.88,295.71 L408.64,297.13 L410.40,298.51 L412.16,299.87 L413.93,301.21 L415.69,302.52 L417.45,303.81 L419.21,305.08 L420.98,306.32 L422.74,307.54 L424.50,308.73 L426.26,309.91 L428.02,311.06 L429.79,312.19 L431.55,313.30 L433.31,314.39 L435.07,315.46 L436.84,316.51 L438.60,317.54 L440.36,318.55 L442.12,319.54 L443.89,320.51 L445.65,321.46 L447.41,322.40 L449.18,323.32 L450.94,324.22 L452.70,325.10 L454.46,325.96 L456.23,326.81 L457.99,327.64 L459.75,328.46 L461.51,329.26 L463.27,330.04 L465.04,330.81 L466.80,331.56 L468.56,332.30 L470.32,333.02 L472.09,333.73 L473.85,334.43 L475.61,335.11 L477.38,335.78 L479.14,336.43 L480.90,337.07 L482.66,337.70 L484.43,338.32 L486.19,338.92 L487.95,339.51 L489.71,340.09 L491.48,340.66 L493.24,341.22 L495.00,341.76 L496.76,342.30 L498.52,342.82 L500.29,343.34 L502.05,343.84 L503.81,344.33 L505.57,344.81 L507.34,345.29 L509.10,345.75 L510.86,346.20 L512.62,346.65 L514.39,347.09 L516.15,347.51 L517.91,347.93 L519.67,348.34 L521.44,348.74 L523.20,349.14 L524.96,349.52 L526.73,349.90 L528.49,350.27 L530.25,350.64 L532.01,350.99 L533.77,351.34 L535.54,351.68 L537.30,352.02 L539.06,352.35 L540.83,352.67 L542.59,352.98 L544.35,353.29 L546.11,353.60 L547.88,353.89 L549.64,354.18 L551.40,354.47 L553.16,354.75 L554.92,355.02 L556.69,355.29 L558.45,355.56 L560.21,355.82 L561.98,356.07 L563.74,356.32 L565.50,356.56 L567.26,356.80 L569.02,357.04 L570.79,357.27 L572.55,357.50 L574.31,357.72 L576.08,357.94 L577.84,358.15 L579.60,358.36 L581.36,358.56 L583.12,358.77 L584.89,358.96 L586.65,359.16 L588.41,359.35 L590.17,359.53 L591.94,359.72 L593.70,359.90 L595.46,360.07 L597.22,360.25 L598.99,360.42 L600.75,360.58 L602.51,360.75 L604.27,360.91 L606.04,361.06 L607.80,361.22 L609.56,361.37 L611.33,361.51 L613.09,361.66 L614.85,361.80 L616.61,361.94 L618.38,362.08 L620.14,362.21 L621.90,362.34 L623.66,362.47 L625.42,362.59 L627.19,362.71 L628.95,362.83 L630.71,362.95 L632.47,363.06 L634.24,363.17 L636.00,363.28 L637.76,363.38 L639.52,363.48 L641.29,363.58 L643.05,363.68 L644.81,363.77 L646.58,363.86 L648.34,363.95 L650.10,364.03 L651.86,364.11 L653.62,364.19 L655.39,364.27 L657.15,364.34 L658.91,364.41 L660.67,364.48 L662.44,364.54 L664.20,364.60 L665.96,364.66 L667.72,364.71 L669.49,364.76 L671.25,364.81 L673.01,364.85 L674.77,364.89 L676.54,364.92 L678.30,364.96" fill="none" stroke="#1f9696" stroke-width="1.05" stroke-linecap="butt" stroke-dasharray="3.6 3.4" clip-path="url(#cu3)"/>
<path d="M396.30,465.70 L398.06,465.71 L399.82,465.72 L401.59,465.73 L403.35,465.74 L405.11,465.75 L406.88,465.76 L408.64,465.78 L410.40,465.79 L412.16,465.80 L413.93,465.81 L415.69,465.82 L417.45,465.83 L419.21,465.84 L420.98,465.85 L422.74,465.86 L424.50,465.87 L426.26,465.88 L428.02,465.89 L429.79,465.90 L431.55,465.91 L433.31,465.92 L435.07,465.93 L436.84,465.94 L438.60,465.95 L440.36,465.96 L442.12,465.97 L443.89,465.99 L445.65,466.00 L447.41,466.01 L449.18,466.02 L450.94,466.03 L452.70,466.04 L454.46,466.05 L456.23,466.06 L457.99,466.07 L459.75,466.08 L461.51,466.09 L463.27,466.10 L465.04,466.11 L466.80,466.12 L468.56,466.13 L470.32,466.14 L472.09,466.16 L473.85,466.17 L475.61,466.18 L477.38,466.19 L479.14,466.20 L480.90,466.21 L482.66,466.22 L484.42,466.23 L486.19,466.24 L487.95,466.25 L489.71,466.27 L491.48,466.28 L493.24,466.29 L495.00,466.30 L496.76,466.31 L498.52,466.32 L500.29,466.33 L502.05,466.35 L503.81,466.36 L505.57,466.37 L507.34,466.38 L509.10,466.39 L510.86,466.41 L512.62,466.42 L514.39,466.43 L516.15,466.44 L517.91,466.46 L519.67,466.47 L521.44,466.48 L523.20,466.50 L524.96,466.51 L526.73,466.52 L528.49,466.54 L530.25,466.55 L532.01,466.57 L533.77,466.58 L535.54,466.59 L537.30,466.61 L539.06,466.62 L540.83,466.64 L542.59,466.65 L544.35,466.67 L546.11,466.68 L547.88,466.70 L549.64,466.71 L551.40,466.73 L553.16,466.74 L554.92,466.75 L556.69,466.77 L558.45,466.78 L560.21,466.80 L561.98,466.81 L563.74,466.82 L565.50,466.84 L567.26,466.85 L569.02,466.86 L570.79,466.88 L572.55,466.89 L574.31,466.90 L576.07,466.91 L577.84,466.93 L579.60,466.94 L581.36,466.95 L583.12,466.96 L584.89,466.97 L586.65,466.98 L588.41,466.99 L590.17,467.00 L591.94,467.01 L593.70,467.02 L595.46,467.03 L597.22,467.04 L598.99,467.05 L600.75,467.05 L602.51,467.06 L604.27,467.07 L606.04,467.08 L607.80,467.08 L609.56,467.09 L611.32,467.10 L613.09,467.10 L614.85,467.11 L616.61,467.12 L618.38,467.12 L620.14,467.13 L621.90,467.14 L623.66,467.14 L625.42,467.15 L627.19,467.15 L628.95,467.16 L630.71,467.16 L632.47,467.17 L634.24,467.17 L636.00,467.18 L637.76,467.18 L639.52,467.19 L641.29,467.19 L643.05,467.20 L644.81,467.20 L646.57,467.21 L648.34,467.21 L650.10,467.22 L651.86,467.22 L653.62,467.23 L655.39,467.23 L657.15,467.24 L658.91,467.24 L660.67,467.25 L662.44,467.25 L664.20,467.26 L665.96,467.26 L667.72,467.27 L669.49,467.27 L671.25,467.28 L673.01,467.28 L674.77,467.29 L676.54,467.29 L678.30,467.30" fill="none" stroke="#8796ff" stroke-width="1.15" stroke-linecap="butt" clip-path="url(#cl3)"/>
<path d="M396.30,428.22 L398.06,428.78 L399.82,429.34 L401.59,429.92 L403.35,430.50 L405.11,431.09 L406.88,431.68 L408.64,432.28 L410.40,432.87 L412.16,433.47 L413.93,434.06 L415.69,434.65 L417.45,435.24 L419.21,435.82 L420.98,436.40 L422.74,436.97 L424.50,437.53 L426.26,438.09 L428.02,438.64 L429.79,439.18 L431.55,439.71 L433.31,440.23 L435.07,440.75 L436.84,441.26 L438.60,441.75 L440.36,442.24 L442.12,442.72 L443.89,443.18 L445.65,443.64 L447.41,444.09 L449.18,444.53 L450.94,444.96 L452.70,445.38 L454.46,445.79 L456.23,446.19 L457.99,446.59 L459.75,446.97 L461.51,447.35 L463.27,447.72 L465.04,448.08 L466.80,448.43 L468.56,448.77 L470.32,449.11 L472.09,449.44 L473.85,449.77 L475.61,450.08 L477.38,450.39 L479.14,450.70 L480.90,451.00 L482.66,451.29 L484.43,451.58 L486.19,451.86 L487.95,452.14 L489.71,452.41 L491.48,452.68 L493.24,452.95 L495.00,453.20 L496.76,453.46 L498.52,453.71 L500.29,453.96 L502.05,454.20 L503.81,454.44 L505.57,454.68 L507.34,454.91 L509.10,455.14 L510.86,455.37 L512.62,455.59 L514.39,455.81 L516.15,456.03 L517.91,456.25 L519.67,456.46 L521.44,456.67 L523.20,456.88 L524.96,457.08 L526.73,457.28 L528.49,457.48 L530.25,457.67 L532.01,457.87 L533.77,458.06 L535.54,458.24 L537.30,458.43 L539.06,458.61 L540.83,458.79 L542.59,458.96 L544.35,459.13 L546.11,459.30 L547.88,459.47 L549.64,459.63 L551.40,459.79 L553.16,459.95 L554.92,460.11 L556.69,460.26 L558.45,460.41 L560.21,460.55 L561.98,460.69 L563.74,460.83 L565.50,460.96 L567.26,461.10 L569.02,461.23 L570.79,461.35 L572.55,461.47 L574.31,461.59 L576.08,461.71 L577.84,461.82 L579.60,461.93 L581.36,462.04 L583.12,462.14 L584.89,462.24 L586.65,462.34 L588.41,462.43 L590.17,462.53 L591.94,462.62 L593.70,462.70 L595.46,462.79 L597.22,462.87 L598.99,462.95 L600.75,463.03 L602.51,463.11 L604.27,463.18 L606.04,463.26 L607.80,463.33 L609.56,463.40 L611.33,463.47 L613.09,463.54 L614.85,463.61 L616.61,463.68 L618.38,463.75 L620.14,463.81 L621.90,463.88 L623.66,463.95 L625.42,464.01 L627.19,464.08 L628.95,464.15 L630.71,464.22 L632.47,464.29 L634.24,464.35 L636.00,464.42 L637.76,464.49 L639.52,464.57 L641.29,464.64 L643.05,464.71 L644.81,464.78 L646.58,464.85 L648.34,464.93 L650.10,465.00 L651.86,465.07 L653.62,465.14 L655.39,465.22 L657.15,465.29 L658.91,465.35 L660.67,465.42 L662.44,465.48 L664.20,465.54 L665.96,465.59 L667.72,465.64 L669.49,465.69 L671.25,465.72 L673.01,465.75 L674.77,465.77 L676.54,465.78 L678.30,465.78" fill="none" stroke="#8e1a8e" stroke-width="1.1" stroke-linecap="butt" stroke-dasharray="3.1 1.5 0.9 1.5 0.9 1.5" clip-path="url(#cl3)"/>
<path d="M396.30,404.89 L398.06,406.07 L399.82,407.24 L401.59,408.39 L403.35,409.52 L405.11,410.64 L406.88,411.74 L408.64,412.82 L410.40,413.89 L412.16,414.94 L413.93,415.98 L415.69,417.00 L417.45,418.00 L419.21,418.98 L420.98,419.95 L422.74,420.91 L424.50,421.84 L426.26,422.76 L428.02,423.67 L429.79,424.56 L431.55,425.43 L433.31,426.28 L435.07,427.13 L436.84,427.95 L438.60,428.76 L440.36,429.56 L442.12,430.33 L443.89,431.10 L445.65,431.85 L447.41,432.58 L449.18,433.31 L450.94,434.01 L452.70,434.70 L454.46,435.38 L456.23,436.05 L457.99,436.70 L459.75,437.34 L461.51,437.96 L463.27,438.57 L465.04,439.17 L466.80,439.76 L468.56,440.34 L470.32,440.90 L472.09,441.45 L473.85,441.99 L475.61,442.52 L477.38,443.03 L479.14,443.54 L480.90,444.03 L482.66,444.52 L484.43,444.99 L486.19,445.46 L487.95,445.91 L489.71,446.35 L491.48,446.79 L493.24,447.21 L495.00,447.63 L496.76,448.04 L498.52,448.44 L500.29,448.83 L502.05,449.21 L503.81,449.58 L505.57,449.95 L507.34,450.31 L509.10,450.66 L510.86,451.00 L512.62,451.34 L514.39,451.67 L516.15,451.99 L517.91,452.31 L519.67,452.62 L521.44,452.92 L523.20,453.22 L524.96,453.51 L526.73,453.80 L528.49,454.08 L530.25,454.36 L532.01,454.63 L533.77,454.89 L535.54,455.15 L537.30,455.41 L539.06,455.66 L540.83,455.90 L542.59,456.14 L544.35,456.38 L546.11,456.61 L547.88,456.84 L549.64,457.07 L551.40,457.29 L553.16,457.50 L554.92,457.72 L556.69,457.93 L558.45,458.13 L560.21,458.33 L561.98,458.53 L563.74,458.73 L565.50,458.92 L567.26,459.11 L569.02,459.29 L570.79,459.47 L572.55,459.65 L574.31,459.83 L576.08,460.00 L577.84,460.17 L579.60,460.34 L581.36,460.51 L583.12,460.67 L584.89,460.83 L586.65,460.98 L588.41,461.14 L590.17,461.29 L591.94,461.44 L593.70,461.58 L595.46,461.72 L597.22,461.86 L598.99,462.00 L600.75,462.14 L602.51,462.27 L604.27,462.40 L606.04,462.53 L607.80,462.65 L609.56,462.77 L611.33,462.89 L613.09,463.01 L614.85,463.12 L616.61,463.23 L618.38,463.34 L620.14,463.45 L621.90,463.55 L623.66,463.65 L625.42,463.75 L627.19,463.85 L628.95,463.94 L630.71,464.03 L632.47,464.12 L634.24,464.21 L636.00,464.29 L637.76,464.37 L639.52,464.45 L641.29,464.53 L643.05,464.60 L644.81,464.68 L646.58,464.75 L648.34,464.81 L650.10,464.88 L651.86,464.94 L653.62,465.00 L655.39,465.06 L657.15,465.12 L658.91,465.18 L660.67,465.23 L662.44,465.29 L664.20,465.34 L665.96,465.39 L667.72,465.44 L669.49,465.49 L671.25,465.54 L673.01,465.58 L674.77,465.63 L676.54,465.68 L678.30,465.72" fill="none" stroke="#1f9696" stroke-width="1.05" stroke-linecap="butt" stroke-dasharray="3.6 3.4" clip-path="url(#cl3)"/>
<line x1="483.20" y1="374.50" x2="483.20" y2="348.20" stroke="#ff6060" stroke-width="1.15" />
<line x1="480.90" y1="374.50" x2="485.50" y2="374.50" stroke="#ff6060" stroke-width="1.15" />
<line x1="480.90" y1="348.20" x2="485.50" y2="348.20" stroke="#ff6060" stroke-width="1.15" />
<circle cx="483.20" cy="361.80" r="1.75" fill="#ff0000"/>
<line x1="487.70" y1="359.40" x2="487.70" y2="324.70" stroke="#ff6060" stroke-width="1.15" />
<line x1="485.40" y1="359.40" x2="490.00" y2="359.40" stroke="#ff6060" stroke-width="1.15" />
<line x1="485.40" y1="324.70" x2="490.00" y2="324.70" stroke="#ff6060" stroke-width="1.15" />
<circle cx="487.70" cy="341.90" r="1.75" fill="#ff0000"/>
<line x1="491.90" y1="359.40" x2="491.90" y2="342.70" stroke="#ff6060" stroke-width="1.15" />
<line x1="489.60" y1="359.40" x2="494.20" y2="359.40" stroke="#ff6060" stroke-width="1.15" />
<line x1="489.60" y1="342.70" x2="494.20" y2="342.70" stroke="#ff6060" stroke-width="1.15" />
<circle cx="491.90" cy="350.60" r="1.75" fill="#ff0000"/>
<line x1="497.10" y1="358.60" x2="497.10" y2="339.40" stroke="#ff6060" stroke-width="1.15" />
<line x1="494.80" y1="358.60" x2="499.40" y2="358.60" stroke="#ff6060" stroke-width="1.15" />
<line x1="494.80" y1="339.40" x2="499.40" y2="339.40" stroke="#ff6060" stroke-width="1.15" />
<circle cx="497.10" cy="349.10" r="1.75" fill="#ff0000"/>
<line x1="503.10" y1="368.10" x2="503.10" y2="346.40" stroke="#ff6060" stroke-width="1.15" />
<line x1="500.80" y1="368.10" x2="505.40" y2="368.10" stroke="#ff6060" stroke-width="1.15" />
<line x1="500.80" y1="346.40" x2="505.40" y2="346.40" stroke="#ff6060" stroke-width="1.15" />
<circle cx="503.10" cy="357.30" r="1.75" fill="#ff0000"/>
<line x1="514.60" y1="377.80" x2="514.60" y2="354.30" stroke="#ff6060" stroke-width="1.15" />
<line x1="512.30" y1="377.80" x2="516.90" y2="377.80" stroke="#ff6060" stroke-width="1.15" />
<line x1="512.30" y1="354.30" x2="516.90" y2="354.30" stroke="#ff6060" stroke-width="1.15" />
<circle cx="514.60" cy="366.30" r="1.75" fill="#ff0000"/>
<line x1="499.40" y1="370.30" x2="499.40" y2="357.30" stroke="#6f88ff" stroke-width="1.15" />
<line x1="497.10" y1="370.30" x2="501.70" y2="370.30" stroke="#6f88ff" stroke-width="1.15" />
<line x1="497.10" y1="357.30" x2="501.70" y2="357.30" stroke="#6f88ff" stroke-width="1.15" />
<rect x="497.60" y="361.80" width="3.6" height="3.6" fill="#1040ff"/>
<line x1="507.60" y1="385.60" x2="507.60" y2="370.60" stroke="#6f88ff" stroke-width="1.15" />
<line x1="505.30" y1="385.60" x2="509.90" y2="385.60" stroke="#6f88ff" stroke-width="1.15" />
<line x1="505.30" y1="370.60" x2="509.90" y2="370.60" stroke="#6f88ff" stroke-width="1.15" />
<rect x="505.80" y="376.70" width="3.6" height="3.6" fill="#1040ff"/>
<line x1="519.10" y1="361.60" x2="519.10" y2="339.20" stroke="#6f88ff" stroke-width="1.15" />
<line x1="516.80" y1="361.60" x2="521.40" y2="361.60" stroke="#6f88ff" stroke-width="1.15" />
<line x1="516.80" y1="339.20" x2="521.40" y2="339.20" stroke="#6f88ff" stroke-width="1.15" />
<rect x="517.30" y="348.30" width="3.6" height="3.6" fill="#1040ff"/>
<rect x="555.3" y="275.4" width="113.5" height="43.5" fill="#fff"/>
<rect x="414.5" y="369.2" width="68" height="15" fill="#fff"/>
<rect x="542.3" y="401.4" width="118.5" height="45" fill="#fff"/>
<line x1="396.30" y1="371.58" x2="403.60" y2="371.58" stroke="#1a1a1a" stroke-width="1.1" />
<line x1="678.30" y1="371.58" x2="671.00" y2="371.58" stroke="#1a1a1a" stroke-width="1.1" />
<line x1="396.30" y1="348.49" x2="403.60" y2="348.49" stroke="#1a1a1a" stroke-width="1.1" />
<line x1="678.30" y1="348.49" x2="671.00" y2="348.49" stroke="#1a1a1a" stroke-width="1.1" />
<line x1="396.30" y1="325.40" x2="403.60" y2="325.40" stroke="#1a1a1a" stroke-width="1.1" />
<line x1="678.30" y1="325.40" x2="671.00" y2="325.40" stroke="#1a1a1a" stroke-width="1.1" />
<line x1="396.30" y1="302.31" x2="403.60" y2="302.31" stroke="#1a1a1a" stroke-width="1.1" />
<line x1="678.30" y1="302.31" x2="671.00" y2="302.31" stroke="#1a1a1a" stroke-width="1.1" />
<line x1="396.30" y1="279.22" x2="403.60" y2="279.22" stroke="#1a1a1a" stroke-width="1.1" />
<line x1="678.30" y1="279.22" x2="671.00" y2="279.22" stroke="#1a1a1a" stroke-width="1.1" />
<line x1="396.30" y1="383.13" x2="398.60" y2="383.13" stroke="#1a1a1a" stroke-width="1" />
<line x1="678.30" y1="383.13" x2="676.00" y2="383.13" stroke="#1a1a1a" stroke-width="1" />
<line x1="396.30" y1="360.04" x2="398.60" y2="360.04" stroke="#1a1a1a" stroke-width="1" />
<line x1="678.30" y1="360.04" x2="676.00" y2="360.04" stroke="#1a1a1a" stroke-width="1" />
<line x1="396.30" y1="336.95" x2="398.60" y2="336.95" stroke="#1a1a1a" stroke-width="1" />
<line x1="678.30" y1="336.95" x2="676.00" y2="336.95" stroke="#1a1a1a" stroke-width="1" />
<line x1="396.30" y1="313.85" x2="398.60" y2="313.85" stroke="#1a1a1a" stroke-width="1" />
<line x1="678.30" y1="313.85" x2="676.00" y2="313.85" stroke="#1a1a1a" stroke-width="1" />
<line x1="396.30" y1="290.76" x2="398.60" y2="290.76" stroke="#1a1a1a" stroke-width="1" />
<line x1="678.30" y1="290.76" x2="676.00" y2="290.76" stroke="#1a1a1a" stroke-width="1" />
<line x1="396.30" y1="267.67" x2="398.60" y2="267.67" stroke="#1a1a1a" stroke-width="1" />
<line x1="678.30" y1="267.67" x2="676.00" y2="267.67" stroke="#1a1a1a" stroke-width="1" />
<line x1="490.50" y1="261.90" x2="490.50" y2="269.30" stroke="#1a1a1a" stroke-width="1" />
<line x1="490.50" y1="389.40" x2="490.50" y2="382.00" stroke="#1a1a1a" stroke-width="1" />
<line x1="584.50" y1="261.90" x2="584.50" y2="269.30" stroke="#1a1a1a" stroke-width="1" />
<line x1="584.50" y1="389.40" x2="584.50" y2="382.00" stroke="#1a1a1a" stroke-width="1" />
<line x1="433.50" y1="261.90" x2="433.50" y2="264.30" stroke="#1a1a1a" stroke-width="1" />
<line x1="433.50" y1="389.40" x2="433.50" y2="387.00" stroke="#1a1a1a" stroke-width="1" />
<line x1="452.50" y1="261.90" x2="452.50" y2="264.30" stroke="#1a1a1a" stroke-width="1" />
<line x1="452.50" y1="389.40" x2="452.50" y2="387.00" stroke="#1a1a1a" stroke-width="1" />
<line x1="465.50" y1="261.90" x2="465.50" y2="264.30" stroke="#1a1a1a" stroke-width="1" />
<line x1="465.50" y1="389.40" x2="465.50" y2="387.00" stroke="#1a1a1a" stroke-width="1" />
<line x1="475.50" y1="261.90" x2="475.50" y2="264.30" stroke="#1a1a1a" stroke-width="1" />
<line x1="475.50" y1="389.40" x2="475.50" y2="387.00" stroke="#1a1a1a" stroke-width="1" />
<line x1="483.50" y1="261.90" x2="483.50" y2="264.30" stroke="#1a1a1a" stroke-width="1" />
<line x1="483.50" y1="389.40" x2="483.50" y2="387.00" stroke="#1a1a1a" stroke-width="1" />
<line x1="527.50" y1="261.90" x2="527.50" y2="264.30" stroke="#1a1a1a" stroke-width="1" />
<line x1="527.50" y1="389.40" x2="527.50" y2="387.00" stroke="#1a1a1a" stroke-width="1" />
<line x1="546.50" y1="261.90" x2="546.50" y2="264.30" stroke="#1a1a1a" stroke-width="1" />
<line x1="546.50" y1="389.40" x2="546.50" y2="387.00" stroke="#1a1a1a" stroke-width="1" />
<line x1="559.50" y1="261.90" x2="559.50" y2="264.30" stroke="#1a1a1a" stroke-width="1" />
<line x1="559.50" y1="389.40" x2="559.50" y2="387.00" stroke="#1a1a1a" stroke-width="1" />
<line x1="569.50" y1="261.90" x2="569.50" y2="264.30" stroke="#1a1a1a" stroke-width="1" />
<line x1="569.50" y1="389.40" x2="569.50" y2="387.00" stroke="#1a1a1a" stroke-width="1" />
<line x1="577.50" y1="261.90" x2="577.50" y2="264.30" stroke="#1a1a1a" stroke-width="1" />
<line x1="577.50" y1="389.40" x2="577.50" y2="387.00" stroke="#1a1a1a" stroke-width="1" />
<line x1="621.50" y1="261.90" x2="621.50" y2="264.30" stroke="#1a1a1a" stroke-width="1" />
<line x1="621.50" y1="389.40" x2="621.50" y2="387.00" stroke="#1a1a1a" stroke-width="1" />
<line x1="640.50" y1="261.90" x2="640.50" y2="264.30" stroke="#1a1a1a" stroke-width="1" />
<line x1="640.50" y1="389.40" x2="640.50" y2="387.00" stroke="#1a1a1a" stroke-width="1" />
<line x1="653.50" y1="261.90" x2="653.50" y2="264.30" stroke="#1a1a1a" stroke-width="1" />
<line x1="653.50" y1="389.40" x2="653.50" y2="387.00" stroke="#1a1a1a" stroke-width="1" />
<line x1="663.50" y1="261.90" x2="663.50" y2="264.30" stroke="#1a1a1a" stroke-width="1" />
<line x1="663.50" y1="389.40" x2="663.50" y2="387.00" stroke="#1a1a1a" stroke-width="1" />
<line x1="671.50" y1="261.90" x2="671.50" y2="264.30" stroke="#1a1a1a" stroke-width="1" />
<line x1="671.50" y1="389.40" x2="671.50" y2="387.00" stroke="#1a1a1a" stroke-width="1" />
<line x1="395.80" y1="261.90" x2="678.80" y2="261.90" stroke="#1a1a1a" stroke-width="1.0" />
<line x1="395.80" y1="389.40" x2="678.80" y2="389.40" stroke="#1a1a1a" stroke-width="1.0" />
<line x1="396.30" y1="261.90" x2="396.30" y2="389.40" stroke="#1a1a1a" stroke-width="1" />
<line x1="678.30" y1="261.90" x2="678.30" y2="389.40" stroke="#1a1a1a" stroke-width="1" />
<line x1="396.30" y1="466.22" x2="401.70" y2="466.22" stroke="#1a1a1a" stroke-width="1.1" />
<line x1="678.30" y1="466.22" x2="672.90" y2="466.22" stroke="#1a1a1a" stroke-width="1.1" />
<line x1="396.30" y1="452.76" x2="401.70" y2="452.76" stroke="#1a1a1a" stroke-width="1.1" />
<line x1="678.30" y1="452.76" x2="672.90" y2="452.76" stroke="#1a1a1a" stroke-width="1.1" />
<line x1="396.30" y1="439.29" x2="401.70" y2="439.29" stroke="#1a1a1a" stroke-width="1.1" />
<line x1="678.30" y1="439.29" x2="672.90" y2="439.29" stroke="#1a1a1a" stroke-width="1.1" />
<line x1="396.30" y1="425.82" x2="401.70" y2="425.82" stroke="#1a1a1a" stroke-width="1.1" />
<line x1="678.30" y1="425.82" x2="672.90" y2="425.82" stroke="#1a1a1a" stroke-width="1.1" />
<line x1="396.30" y1="412.36" x2="401.70" y2="412.36" stroke="#1a1a1a" stroke-width="1.1" />
<line x1="678.30" y1="412.36" x2="672.90" y2="412.36" stroke="#1a1a1a" stroke-width="1.1" />
<line x1="396.30" y1="398.89" x2="401.70" y2="398.89" stroke="#1a1a1a" stroke-width="1.1" />
<line x1="678.30" y1="398.89" x2="672.90" y2="398.89" stroke="#1a1a1a" stroke-width="1.1" />
<line x1="490.50" y1="394.50" x2="490.50" y2="402.00" stroke="#1a1a1a" stroke-width="1" />
<line x1="490.50" y1="475.40" x2="490.50" y2="467.90" stroke="#1a1a1a" stroke-width="1" />
<line x1="584.50" y1="394.50" x2="584.50" y2="402.00" stroke="#1a1a1a" stroke-width="1" />
<line x1="584.50" y1="475.40" x2="584.50" y2="467.90" stroke="#1a1a1a" stroke-width="1" />
<line x1="433.50" y1="394.50" x2="433.50" y2="398.30" stroke="#1a1a1a" stroke-width="1" />
<line x1="433.50" y1="475.40" x2="433.50" y2="471.60" stroke="#1a1a1a" stroke-width="1" />
<line x1="452.50" y1="394.50" x2="452.50" y2="398.30" stroke="#1a1a1a" stroke-width="1" />
<line x1="452.50" y1="475.40" x2="452.50" y2="471.60" stroke="#1a1a1a" stroke-width="1" />
<line x1="465.50" y1="394.50" x2="465.50" y2="398.30" stroke="#1a1a1a" stroke-width="1" />
<line x1="465.50" y1="475.40" x2="465.50" y2="471.60" stroke="#1a1a1a" stroke-width="1" />
<line x1="475.50" y1="394.50" x2="475.50" y2="398.30" stroke="#1a1a1a" stroke-width="1" />
<line x1="475.50" y1="475.40" x2="475.50" y2="471.60" stroke="#1a1a1a" stroke-width="1" />
<line x1="483.50" y1="394.50" x2="483.50" y2="398.30" stroke="#1a1a1a" stroke-width="1" />
<line x1="483.50" y1="475.40" x2="483.50" y2="471.60" stroke="#1a1a1a" stroke-width="1" />
<line x1="527.50" y1="394.50" x2="527.50" y2="398.30" stroke="#1a1a1a" stroke-width="1" />
<line x1="527.50" y1="475.40" x2="527.50" y2="471.60" stroke="#1a1a1a" stroke-width="1" />
<line x1="546.50" y1="394.50" x2="546.50" y2="398.30" stroke="#1a1a1a" stroke-width="1" />
<line x1="546.50" y1="475.40" x2="546.50" y2="471.60" stroke="#1a1a1a" stroke-width="1" />
<line x1="559.50" y1="394.50" x2="559.50" y2="398.30" stroke="#1a1a1a" stroke-width="1" />
<line x1="559.50" y1="475.40" x2="559.50" y2="471.60" stroke="#1a1a1a" stroke-width="1" />
<line x1="569.50" y1="394.50" x2="569.50" y2="398.30" stroke="#1a1a1a" stroke-width="1" />
<line x1="569.50" y1="475.40" x2="569.50" y2="471.60" stroke="#1a1a1a" stroke-width="1" />
<line x1="577.50" y1="394.50" x2="577.50" y2="398.30" stroke="#1a1a1a" stroke-width="1" />
<line x1="577.50" y1="475.40" x2="577.50" y2="471.60" stroke="#1a1a1a" stroke-width="1" />
<line x1="621.50" y1="394.50" x2="621.50" y2="398.30" stroke="#1a1a1a" stroke-width="1" />
<line x1="621.50" y1="475.40" x2="621.50" y2="471.60" stroke="#1a1a1a" stroke-width="1" />
<line x1="640.50" y1="394.50" x2="640.50" y2="398.30" stroke="#1a1a1a" stroke-width="1" />
<line x1="640.50" y1="475.40" x2="640.50" y2="471.60" stroke="#1a1a1a" stroke-width="1" />
<line x1="653.50" y1="394.50" x2="653.50" y2="398.30" stroke="#1a1a1a" stroke-width="1" />
<line x1="653.50" y1="475.40" x2="653.50" y2="471.60" stroke="#1a1a1a" stroke-width="1" />
<line x1="663.50" y1="394.50" x2="663.50" y2="398.30" stroke="#1a1a1a" stroke-width="1" />
<line x1="663.50" y1="475.40" x2="663.50" y2="471.60" stroke="#1a1a1a" stroke-width="1" />
<line x1="671.50" y1="394.50" x2="671.50" y2="398.30" stroke="#1a1a1a" stroke-width="1" />
<line x1="671.50" y1="475.40" x2="671.50" y2="471.60" stroke="#1a1a1a" stroke-width="1" />
<line x1="395.80" y1="394.50" x2="678.80" y2="394.50" stroke="#222" stroke-width="1.1" />
<line x1="395.80" y1="475.40" x2="678.80" y2="475.40" stroke="#1a1a1a" stroke-width="1.0" />
<line x1="396.30" y1="394.50" x2="396.30" y2="475.40" stroke="#1a1a1a" stroke-width="1" />
<line x1="678.30" y1="394.50" x2="678.30" y2="475.40" stroke="#1a1a1a" stroke-width="1" />
<text x="378.30" y="374.68" font-size="10">0.0</text>
<text x="378.30" y="351.59" font-size="10">0.4</text>
<text x="378.30" y="328.50" font-size="10">0.8</text>
<path class="g1" d="M763 0H583V1147Q518 1085 412.5 1023T223 930V1104Q374 1175 487 1276T647 1472H763Z" transform="translate(378.30,305.41) scale(0.004883,-0.004883)"/>
<text x="383.86" y="305.41" font-size="10">.2</text>
<path class="g1" d="M763 0H583V1147Q518 1085 412.5 1023T223 930V1104Q374 1175 487 1276T647 1472H763Z" transform="translate(378.30,282.32) scale(0.004883,-0.004883)"/>
<text x="383.86" y="282.32" font-size="10">.6</text>
<text x="378.09" y="469.52" font-size="9">0.</text>
<path class="g1" d="M763 0H583V1147Q518 1085 412.5 1023T223 930V1104Q374 1175 487 1276T647 1472H763Z" transform="translate(385.59,469.52) scale(0.004395,-0.004395)"/>
<text x="378.09" y="456.06" font-size="9">0.4</text>
<text x="378.09" y="442.59" font-size="9">0.7</text>
<path class="g1" d="M763 0H583V1147Q518 1085 412.5 1023T223 930V1104Q374 1175 487 1276T647 1472H763Z" transform="translate(378.09,429.12) scale(0.004395,-0.004395)"/>
<text x="383.09" y="429.12" font-size="9">.0</text>
<path class="g1" d="M763 0H583V1147Q518 1085 412.5 1023T223 930V1104Q374 1175 487 1276T647 1472H763Z" transform="translate(378.09,415.66) scale(0.004395,-0.004395)"/>
<text x="383.09" y="415.66" font-size="9">.3</text>
<path class="g1" d="M763 0H583V1147Q518 1085 412.5 1023T223 930V1104Q374 1175 487 1276T647 1472H763Z" transform="translate(378.09,402.19) scale(0.004395,-0.004395)"/>
<text x="383.09" y="402.19" font-size="9">.6</text>
<path class="g1" d="M763 0H583V1147Q518 1085 412.5 1023T223 930V1104Q374 1175 487 1276T647 1472H763Z" transform="translate(388.39,488.35) scale(0.004541,-0.004541)"/>
<text x="393.56" y="488.35" font-size="9.3">0</text>
<text x="398.63" y="484.80" font-size="6.2">-4</text>
<path class="g1" d="M763 0H583V1147Q518 1085 412.5 1023T223 930V1104Q374 1175 487 1276T647 1472H763Z" transform="translate(482.59,488.35) scale(0.004541,-0.004541)"/>
<text x="487.76" y="488.35" font-size="9.3">0</text>
<text x="492.83" y="484.80" font-size="6.2">-3</text>
<path class="g1" d="M763 0H583V1147Q518 1085 412.5 1023T223 930V1104Q374 1175 487 1276T647 1472H763Z" transform="translate(576.79,488.35) scale(0.004541,-0.004541)"/>
<text x="581.96" y="488.35" font-size="9.3">0</text>
<text x="587.03" y="484.80" font-size="6.2">-2</text>
<path class="g1" d="M763 0H583V1147Q518 1085 412.5 1023T223 930V1104Q374 1175 487 1276T647 1472H763Z" transform="translate(670.99,488.35) scale(0.004541,-0.004541)"/>
<text x="676.16" y="488.35" font-size="9.3">0</text>
<text x="681.23" y="484.80" font-size="6.2">-</text>
<path class="g1" d="M763 0H583V1147Q518 1085 412.5 1023T223 930V1104Q374 1175 487 1276T647 1472H763Z" transform="translate(683.30,484.80) scale(0.003027,-0.003027)"/>
<text x="537.30" y="502.00" font-size="10" text-anchor="middle" >x</text>
<g transform="translate(367.1,341.7) rotate(-90) scale(1.04,1)"><text x="0" y="0" font-size="12">F<tspan font-size="8.5" dy="2.6">L</tspan><tspan dy="-2.6">(x,Q</tspan><tspan font-size="8.5" dy="-4.6">2</tspan><tspan dy="4.6">)</tspan></text></g>
<g transform="translate(366.8,445.5) rotate(-90)"><text x="0" y="0" font-size="12">F<tspan font-size="8.5" dy="3">L</tspan></text><text x="11.6" y="-4.0" font-size="8" font-style="italic">i</text></g>
<g transform="translate(427.70,286.50) scale(1.07,1)"><text x="0" y="0" font-size="10">Q</text></g>
<g transform="translate(436.02,282.30) scale(1.07,1)"><text x="0" y="0" font-size="7">2</text></g>
<g transform="translate(443.16,286.50) scale(1.07,1)"><text x="0" y="0" font-size="10">= 45 GeV</text></g>
<g transform="translate(488.67,282.30) scale(1.07,1)"><text x="0" y="0" font-size="7">2</text></g>
<line x1="559.5" y1="281.29999999999995" x2="570.7" y2="281.29999999999995" stroke="#1f9696" stroke-width="1.05" stroke-linecap="butt" stroke-dasharray="3.6 3.4"/>
<line x1="559.5" y1="292.0" x2="570.7" y2="292.0" stroke="#8e1a8e" stroke-width="1.1" stroke-linecap="butt" stroke-dasharray="3.1 1.5 0.9 1.5 0.9 1.5"/>
<text x="576.40" y="284.30" font-size="8">MD-BFKL, R = 5 GeV</text>
<text x="653.53" y="281.60" font-size="5.6">-</text>
<path class="g1" d="M763 0H583V1147Q518 1085 412.5 1023T223 930V1104Q374 1175 487 1276T647 1472H763Z" transform="translate(655.40,281.60) scale(0.002734,-0.002734)"/>
<text x="576.40" y="294.90" font-size="8">MD-BFKL, R = 2 GeV</text>
<text x="653.53" y="292.20" font-size="5.6">-</text>
<path class="g1" d="M763 0H583V1147Q518 1085 412.5 1023T223 930V1104Q374 1175 487 1276T647 1472H763Z" transform="translate(655.40,292.20) scale(0.002734,-0.002734)"/>
<text x="556.80" y="305.20" font-size="8">HERA data</text>
<rect x="564.40" y="310.50" width="2.8" height="2.8" fill="#ff0000"/>
<rect x="614.00" y="310.50" width="2.8" height="2.8" fill="#1040ff"/>
<text x="576.60" y="314.70" font-size="8">H</text>
<path class="g1" d="M763 0H583V1147Q518 1085 412.5 1023T223 930V1104Q374 1175 487 1276T647 1472H763Z" transform="translate(582.38,314.70) scale(0.003906,-0.003906)"/>
<text x="589.05" y="314.70" font-size="8">20</text>
<path class="g1" d="M763 0H583V1147Q518 1085 412.5 1023T223 930V1104Q374 1175 487 1276T647 1472H763Z" transform="translate(597.95,314.70) scale(0.003906,-0.003906)"/>
<text x="602.40" y="314.70" font-size="8">4</text>
<text x="626.30" y="314.70" font-size="8">ZEUS 2009</text>
<line x1="416.1" y1="375.29999999999995" x2="426.9" y2="375.29999999999995" stroke="#87871a" stroke-width="1.45" stroke-linecap="round" stroke-dasharray="0 2"/>
<text x="433.00" y="378.00" font-size="8">PDF4LHC </text>
<path class="g1" d="M763 0H583V1147Q518 1085 412.5 1023T223 930V1104Q374 1175 487 1276T647 1472H763Z" transform="translate(471.68,378.00) scale(0.003906,-0.003906)"/>
<text x="476.12" y="378.00" font-size="8">5</text>
<line x1="549.9" y1="411.7" x2="560.9" y2="411.7" stroke="#aab4ff" stroke-width="1.9" stroke-linecap="butt"/>
<line x1="549.9" y1="425.0" x2="560.9" y2="425.0" stroke="#1f9696" stroke-width="1.05" stroke-linecap="butt" stroke-dasharray="3.6 3.4"/>
<line x1="549.9" y1="438.5" x2="560.9" y2="438.5" stroke="#8e1a8e" stroke-width="1.1" stroke-linecap="butt" stroke-dasharray="3.1 1.5 0.9 1.5 0.9 1.5"/>
<text x="567.60" y="415.00" font-size="8.8" text-anchor="start" >F</text>
<text x="572.70" y="417.30" font-size="6" text-anchor="start" >L</text>
<text x="576.60" y="411.70" font-size="6.0" text-anchor="start" >npert.</text>
<text x="567.60" y="428.20" font-size="8.8" text-anchor="start" >F</text>
<text x="572.70" y="430.50" font-size="6" text-anchor="start" >L</text>
<text x="576.60" y="424.90" font-size="6.0" text-anchor="start" >pert.+npert.</text>
<text x="607.00" y="428.20" font-size="8.8">, R = 5 GeV</text>
<text x="653.30" y="424.60" font-size="5.6">-</text>
<path class="g1" d="M763 0H583V1147Q518 1085 412.5 1023T223 930V1104Q374 1175 487 1276T647 1472H763Z" transform="translate(655.16,424.60) scale(0.002734,-0.002734)"/>
<text x="567.60" y="441.40" font-size="8.8" text-anchor="start" >F</text>
<text x="572.70" y="443.70" font-size="6" text-anchor="start" >L</text>
<text x="576.60" y="438.10" font-size="6.0" text-anchor="start" >pert.+npert.</text>
<text x="607.00" y="441.40" font-size="8.8">, R = 2 GeV</text>
<text x="653.30" y="437.80" font-size="5.6">-</text>
<path class="g1" d="M763 0H583V1147Q518 1085 412.5 1023T223 930V1104Q374 1175 487 1276T647 1472H763Z" transform="translate(655.16,437.80) scale(0.002734,-0.002734)"/>
</svg></body></html>
